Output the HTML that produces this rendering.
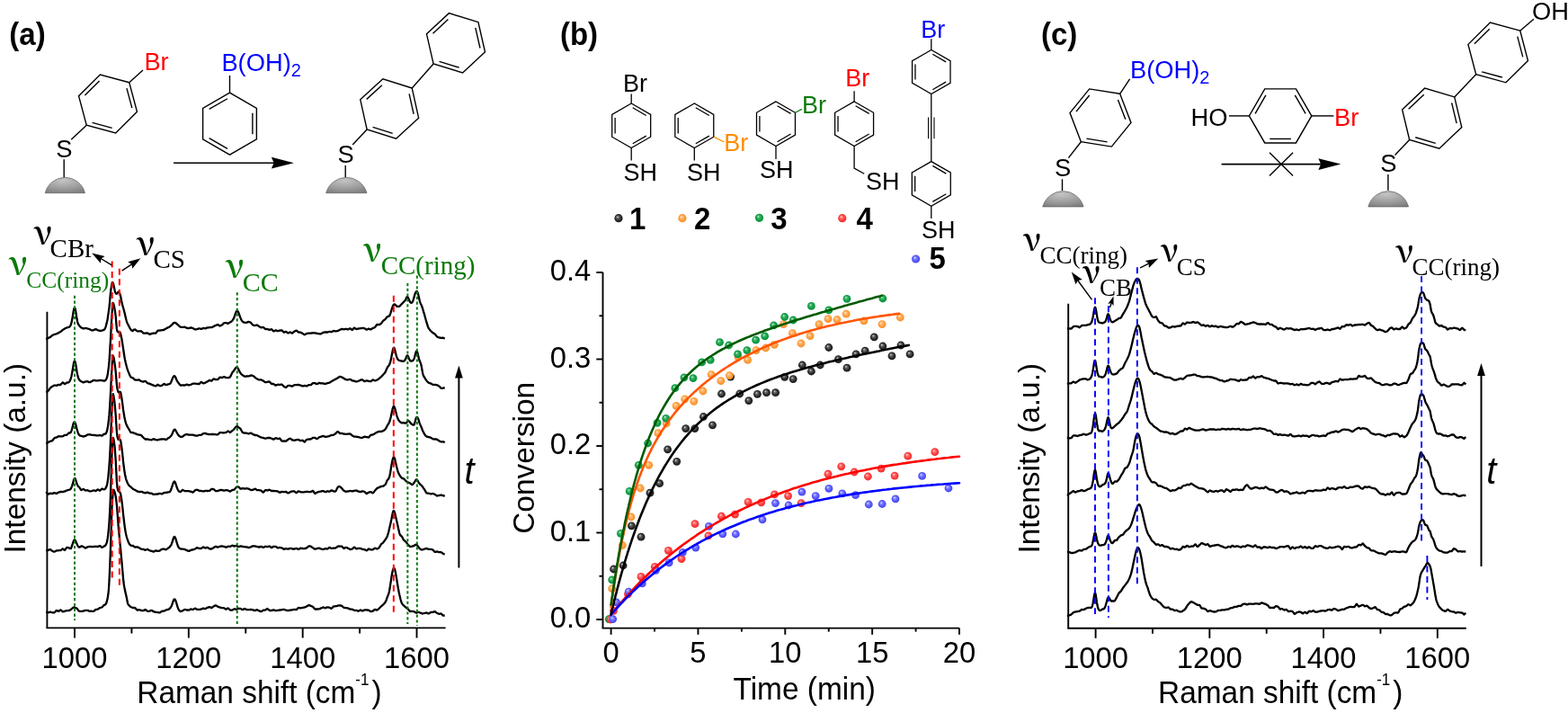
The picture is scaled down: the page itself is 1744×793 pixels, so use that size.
<!DOCTYPE html>
<html><head><meta charset="utf-8"><title>Figure</title>
<style>html,body{margin:0;padding:0;background:#fff;} svg{display:block;}</style></head>
<body><svg width="1744" height="793" viewBox="0 0 1744 793">
<rect width="1744" height="793" fill="#fff"/>
<defs>
<radialGradient id="gdome" cx="0.45" cy="0.2" r="0.9"><stop offset="0" stop-color="#c4c4c4"/><stop offset="0.6" stop-color="#9a9a9a"/><stop offset="1" stop-color="#7a7a7a"/></radialGradient>
<radialGradient id="dk" cx="0.5" cy="0.5" r="0.55" fx="0.36" fy="0.32"><stop offset="0" stop-color="#f0f0f0"/><stop offset="0.22" stop-color="#707070"/><stop offset="0.6" stop-color="#303030"/><stop offset="1" stop-color="#101010"/></radialGradient>
<radialGradient id="do" cx="0.5" cy="0.5" r="0.55" fx="0.36" fy="0.32"><stop offset="0" stop-color="#fffaf0"/><stop offset="0.22" stop-color="#ffc080"/><stop offset="0.6" stop-color="#ffa040"/><stop offset="1" stop-color="#f08a20"/></radialGradient>
<radialGradient id="dg" cx="0.5" cy="0.5" r="0.55" fx="0.36" fy="0.32"><stop offset="0" stop-color="#f0fff4"/><stop offset="0.22" stop-color="#50c078"/><stop offset="0.6" stop-color="#13a047"/><stop offset="1" stop-color="#0a8a38"/></radialGradient>
<radialGradient id="dr" cx="0.5" cy="0.5" r="0.55" fx="0.36" fy="0.32"><stop offset="0" stop-color="#fff4f4"/><stop offset="0.22" stop-color="#ff8080"/><stop offset="0.6" stop-color="#ff4040"/><stop offset="1" stop-color="#e82828"/></radialGradient>
<radialGradient id="db" cx="0.5" cy="0.5" r="0.55" fx="0.36" fy="0.32"><stop offset="0" stop-color="#f4f4ff"/><stop offset="0.22" stop-color="#9090ff"/><stop offset="0.6" stop-color="#5a5aff"/><stop offset="1" stop-color="#4040e8"/></radialGradient>
</defs>
<text transform="translate(10.3 50) scale(1 1.04)" x="0" y="0" font-family="'Liberation Sans', Arial, sans-serif" font-size="33" fill="#000" font-weight="bold" font-style="normal" text-anchor="start" >(a)</text>
<text transform="translate(622.9 50) scale(1 1.04)" x="0" y="0" font-family="'Liberation Sans', Arial, sans-serif" font-size="33" fill="#000" font-weight="bold" font-style="normal" text-anchor="start" >(b)</text>
<text transform="translate(1157.9 50) scale(1 1.04)" x="0" y="0" font-family="'Liberation Sans', Arial, sans-serif" font-size="33" fill="#000" font-weight="bold" font-style="normal" text-anchor="start" >(c)</text>
<path d="M143.76 91.74 L111.3 83.04 L87.54 106.8 L96.24 139.26 L128.7 147.96 L152.46 124.2 Z" fill="none" stroke="#000" stroke-width="1.4" stroke-linejoin="miter"/>
<line x1="110.59" y1="89.93" x2="94.43" y2="106.09" stroke="#000" stroke-width="1.4" />
<line x1="146.84" y1="120.13" x2="140.93" y2="98.06" stroke="#000" stroke-width="1.4" />
<line x1="102.56" y1="136.43" x2="124.63" y2="142.34" stroke="#000" stroke-width="1.4" />
<line x1="143.76" y1="91.74" x2="159" y2="78" stroke="#000" stroke-width="1.4" />
<text transform="translate(160.4 77.7) scale(1 1.04)" x="0" y="0" font-family="'Liberation Sans', Arial, sans-serif" font-size="27.3" fill="#ff0000" font-weight="normal" font-style="normal" text-anchor="start" >Br</text>
<line x1="96.24" y1="139.26" x2="79.2" y2="155.2" stroke="#000" stroke-width="1.4" />
<text transform="translate(62.2 174.5) scale(1 1.04)" x="0" y="0" font-family="'Liberation Sans', Arial, sans-serif" font-size="27.3" fill="#000" font-weight="normal" font-style="normal" text-anchor="start" >S</text>
<line x1="71.2" y1="177.3" x2="71.2" y2="197.5" stroke="#000" stroke-width="1.4" />
<path d="M50.2 214.7 A22.8 22.8 0 0 1 94.5 214.7 Z" fill="url(#gdome)" stroke="#555" stroke-width="0.6"/>
<path d="M255.5 103.1 L225.62 120.35 L225.62 154.85 L255.5 172.1 L285.38 154.85 L285.38 120.35 Z" fill="none" stroke="#000" stroke-width="1.4" stroke-linejoin="miter"/>
<line x1="252.96" y1="109.74" x2="232.65" y2="121.47" stroke="#000" stroke-width="1.4" />
<line x1="280.89" y1="149.33" x2="280.89" y2="125.87" stroke="#000" stroke-width="1.4" />
<line x1="232.65" y1="153.73" x2="252.96" y2="165.46" stroke="#000" stroke-width="1.4" />
<line x1="255.5" y1="103.1" x2="255.5" y2="84" stroke="#000" stroke-width="1.4" />
<text transform="translate(246.4 79.2) scale(1 1.04)" x="0" y="0" font-family="'Liberation Sans', Arial, sans-serif" font-size="27.3" fill="#0000ff" font-weight="normal" font-style="normal" text-anchor="start" >B(OH)<tspan font-size="20" dy="6">2</tspan></text>
<line x1="193" y1="181.2" x2="305" y2="181.2" stroke="#000" stroke-width="1.6" />
<path d="M326.9 181.2 L301.9 187.6 L304.6 181.2 L301.9 174.8 Z" fill="#000"/>
<path d="M458.27 98.03 L425.84 87.81 L400.77 110.78 L408.13 143.97 L440.56 154.19 L465.63 131.22 Z" fill="none" stroke="#000" stroke-width="1.4" stroke-linejoin="miter"/>
<line x1="424.82" y1="94.74" x2="407.77" y2="110.36" stroke="#000" stroke-width="1.4" />
<line x1="460.13" y1="126.87" x2="455.13" y2="104.3" stroke="#000" stroke-width="1.4" />
<line x1="414.65" y1="141.39" x2="436.7" y2="148.34" stroke="#000" stroke-width="1.4" />
<path d="M531.91 24.66 L499.41 14.66 L474.5 37.8 L482.09 70.94 L514.59 80.94 L539.5 57.8 Z" fill="none" stroke="#000" stroke-width="1.4" stroke-linejoin="miter"/>
<line x1="498.43" y1="21.6" x2="481.5" y2="37.34" stroke="#000" stroke-width="1.4" />
<line x1="533.97" y1="53.48" x2="528.81" y2="30.94" stroke="#000" stroke-width="1.4" />
<line x1="488.59" y1="68.32" x2="510.69" y2="75.12" stroke="#000" stroke-width="1.4" />
<line x1="458.27" y1="98.03" x2="482.09" y2="70.94" stroke="#000" stroke-width="1.4" />
<line x1="408.13" y1="143.97" x2="392.2" y2="160.9" stroke="#000" stroke-width="1.4" />
<text transform="translate(375.4 180.7) scale(1 1.04)" x="0" y="0" font-family="'Liberation Sans', Arial, sans-serif" font-size="27.3" fill="#000" font-weight="normal" font-style="normal" text-anchor="start" >S</text>
<line x1="384.2" y1="183.9" x2="384.2" y2="197.5" stroke="#000" stroke-width="1.4" />
<path d="M362.6 214.7 A23.51 23.51 0 0 1 408 214.7 Z" fill="url(#gdome)" stroke="#555" stroke-width="0.6"/>
<path d="M702.2 115 L680.72 127.4 L680.72 152.2 L702.2 164.6 L723.68 152.2 L723.68 127.4 Z" fill="none" stroke="#000" stroke-width="1.3" stroke-linejoin="miter"/>
<line x1="684.12" y1="131.12" x2="684.12" y2="148.48" stroke="#000" stroke-width="1.3" />
<line x1="718.76" y1="128.48" x2="703.72" y2="119.8" stroke="#000" stroke-width="1.3" />
<line x1="703.72" y1="159.8" x2="718.76" y2="151.12" stroke="#000" stroke-width="1.3" />
<line x1="702.2" y1="104.5" x2="702.2" y2="115" stroke="#000" stroke-width="1.3" />
<text transform="translate(692.9 101.6) scale(1 1.04)" x="0" y="0" font-family="'Liberation Sans', Arial, sans-serif" font-size="27" fill="#000" font-weight="normal" font-style="normal" text-anchor="start" >Br</text>
<line x1="702.2" y1="164.6" x2="702.2" y2="178.6" stroke="#000" stroke-width="1.3" />
<text transform="translate(693.6 201.3) scale(1 1.04)" x="0" y="0" font-family="'Liberation Sans', Arial, sans-serif" font-size="27" fill="#000" font-weight="normal" font-style="normal" text-anchor="start" >SH</text>
<path d="M772.3 115 L750.82 127.4 L750.82 152.2 L772.3 164.6 L793.78 152.2 L793.78 127.4 Z" fill="none" stroke="#000" stroke-width="1.3" stroke-linejoin="miter"/>
<line x1="754.22" y1="131.12" x2="754.22" y2="148.48" stroke="#000" stroke-width="1.3" />
<line x1="788.86" y1="128.48" x2="773.82" y2="119.8" stroke="#000" stroke-width="1.3" />
<line x1="773.82" y1="159.8" x2="788.86" y2="151.12" stroke="#000" stroke-width="1.3" />
<line x1="793.78" y1="152.2" x2="805.5" y2="158" stroke="#ff8c00" stroke-width="1.3" />
<text transform="translate(805.2 168) scale(1 1.04)" x="0" y="0" font-family="'Liberation Sans', Arial, sans-serif" font-size="27" fill="#ff8c00" font-weight="normal" font-style="normal" text-anchor="start" >Br</text>
<line x1="772.3" y1="164.6" x2="772.3" y2="178.6" stroke="#000" stroke-width="1.3" />
<text transform="translate(764.1 200.6) scale(1 1.04)" x="0" y="0" font-family="'Liberation Sans', Arial, sans-serif" font-size="27" fill="#000" font-weight="normal" font-style="normal" text-anchor="start" >SH</text>
<path d="M863 112.9 L841.52 125.3 L841.52 150.1 L863 162.5 L884.48 150.1 L884.48 125.3 Z" fill="none" stroke="#000" stroke-width="1.3" stroke-linejoin="miter"/>
<line x1="844.92" y1="129.02" x2="844.92" y2="146.38" stroke="#000" stroke-width="1.3" />
<line x1="879.56" y1="126.38" x2="864.52" y2="117.7" stroke="#000" stroke-width="1.3" />
<line x1="864.52" y1="157.7" x2="879.56" y2="149.02" stroke="#000" stroke-width="1.3" />
<line x1="884.48" y1="125.3" x2="891.8" y2="121.4" stroke="#0b7a0b" stroke-width="1.3" />
<text transform="translate(891.9 126.1) scale(1 1.04)" x="0" y="0" font-family="'Liberation Sans', Arial, sans-serif" font-size="27" fill="#0b7a0b" font-weight="normal" font-style="normal" text-anchor="start" >Br</text>
<line x1="863" y1="162.5" x2="863" y2="177" stroke="#000" stroke-width="1.3" />
<text transform="translate(845.1 198.4) scale(1 1.04)" x="0" y="0" font-family="'Liberation Sans', Arial, sans-serif" font-size="27" fill="#000" font-weight="normal" font-style="normal" text-anchor="start" >SH</text>
<path d="M950.1 112.9 L928.62 125.3 L928.62 150.1 L950.1 162.5 L971.58 150.1 L971.58 125.3 Z" fill="none" stroke="#000" stroke-width="1.3" stroke-linejoin="miter"/>
<line x1="932.02" y1="129.02" x2="932.02" y2="146.38" stroke="#000" stroke-width="1.3" />
<line x1="966.66" y1="126.38" x2="951.62" y2="117.7" stroke="#000" stroke-width="1.3" />
<line x1="951.62" y1="157.7" x2="966.66" y2="149.02" stroke="#000" stroke-width="1.3" />
<line x1="950.1" y1="101.2" x2="950.1" y2="112.9" stroke="#000" stroke-width="1.3" />
<text transform="translate(940.3 95.8) scale(1 1.04)" x="0" y="0" font-family="'Liberation Sans', Arial, sans-serif" font-size="27" fill="#ff0000" font-weight="normal" font-style="normal" text-anchor="start" >Br</text>
<polyline points="950.1,162.5 950.1,187 961.2,193.2" fill="none" stroke="#000" stroke-width="1.3"/>
<text transform="translate(962.9 210.5) scale(1 1.04)" x="0" y="0" font-family="'Liberation Sans', Arial, sans-serif" font-size="27" fill="#000" font-weight="normal" font-style="normal" text-anchor="start" >SH</text>
<path d="M1035.8 55.5 L1014.58 67.75 L1014.58 92.25 L1035.8 104.5 L1057.02 92.25 L1057.02 67.75 Z" fill="none" stroke="#000" stroke-width="1.3" stroke-linejoin="miter"/>
<line x1="1017.98" y1="71.42" x2="1017.98" y2="88.58" stroke="#000" stroke-width="1.3" />
<line x1="1052.13" y1="68.86" x2="1037.28" y2="60.28" stroke="#000" stroke-width="1.3" />
<line x1="1037.28" y1="99.72" x2="1052.13" y2="91.14" stroke="#000" stroke-width="1.3" />
<line x1="1035.8" y1="43.3" x2="1035.8" y2="55.5" stroke="#000" stroke-width="1.3" />
<text transform="translate(1024.3 41.5) scale(1 1.04)" x="0" y="0" font-family="'Liberation Sans', Arial, sans-serif" font-size="27" fill="#0000ff" font-weight="normal" font-style="normal" text-anchor="start" >Br</text>
<path d="M1035.8 179.6 L1014.32 192 L1014.32 216.8 L1035.8 229.2 L1057.28 216.8 L1057.28 192 Z" fill="none" stroke="#000" stroke-width="1.3" stroke-linejoin="miter"/>
<line x1="1017.72" y1="195.72" x2="1017.72" y2="213.08" stroke="#000" stroke-width="1.3" />
<line x1="1052.36" y1="193.08" x2="1037.32" y2="184.4" stroke="#000" stroke-width="1.3" />
<line x1="1037.32" y1="224.4" x2="1052.36" y2="215.72" stroke="#000" stroke-width="1.3" />
<line x1="1035.8" y1="104.5" x2="1035.8" y2="179.6" stroke="#000" stroke-width="1.3" />
<line x1="1032.6" y1="130.5" x2="1032.6" y2="154.3" stroke="#000" stroke-width="1.1" />
<line x1="1039" y1="130.5" x2="1039" y2="154.3" stroke="#000" stroke-width="1.1" />
<line x1="1035.8" y1="229.2" x2="1035.8" y2="243" stroke="#000" stroke-width="1.3" />
<text transform="translate(1025.1 264.8) scale(1 1.04)" x="0" y="0" font-family="'Liberation Sans', Arial, sans-serif" font-size="27" fill="#000" font-weight="normal" font-style="normal" text-anchor="start" >SH</text>
<circle cx="688" cy="242.7" r="4.6" fill="url(#dk)"/>
<text transform="translate(700 255.3) scale(1 1.04)" x="0" y="0" font-family="'Liberation Sans', Arial, sans-serif" font-size="33" fill="#000" font-weight="bold" font-style="normal" text-anchor="start" >1</text>
<circle cx="758.9" cy="242.7" r="4.6" fill="url(#do)"/>
<text transform="translate(772 255.3) scale(1 1.04)" x="0" y="0" font-family="'Liberation Sans', Arial, sans-serif" font-size="33" fill="#000" font-weight="bold" font-style="normal" text-anchor="start" >2</text>
<circle cx="844.5" cy="242.3" r="4.6" fill="url(#dg)"/>
<text transform="translate(857.2 255.3) scale(1 1.04)" x="0" y="0" font-family="'Liberation Sans', Arial, sans-serif" font-size="33" fill="#000" font-weight="bold" font-style="normal" text-anchor="start" >3</text>
<circle cx="936.8" cy="242.7" r="4.6" fill="url(#dr)"/>
<text transform="translate(952.5 255.3) scale(1 1.04)" x="0" y="0" font-family="'Liberation Sans', Arial, sans-serif" font-size="33" fill="#000" font-weight="bold" font-style="normal" text-anchor="start" >4</text>
<circle cx="1018.6" cy="288" r="4.6" fill="url(#db)"/>
<text transform="translate(1033.5 298.5) scale(1 1.04)" x="0" y="0" font-family="'Liberation Sans', Arial, sans-serif" font-size="33" fill="#000" font-weight="bold" font-style="normal" text-anchor="start" >5</text>
<path d="M1245.65 104.27 L1211.67 98.88 L1190.02 125.62 L1202.35 157.73 L1236.33 163.12 L1257.98 136.38 Z" fill="none" stroke="#000" stroke-width="1.4" stroke-linejoin="miter"/>
<line x1="1211.68" y1="105.98" x2="1196.96" y2="124.16" stroke="#000" stroke-width="1.4" />
<line x1="1251.83" y1="132.85" x2="1243.45" y2="111.01" stroke="#000" stroke-width="1.4" />
<line x1="1208.49" y1="154.18" x2="1231.59" y2="157.84" stroke="#000" stroke-width="1.4" />
<line x1="1245.65" y1="104.27" x2="1256.6" y2="87.8" stroke="#000" stroke-width="1.4" />
<text transform="translate(1257 87) scale(1 1.04)" x="0" y="0" font-family="'Liberation Sans', Arial, sans-serif" font-size="27.3" fill="#0000ff" font-weight="normal" font-style="normal" text-anchor="start" >B(OH)<tspan font-size="20" dy="6">2</tspan></text>
<line x1="1202.35" y1="157.73" x2="1188.4" y2="175.6" stroke="#000" stroke-width="1.4" />
<text transform="translate(1173 196.1) scale(1 1.04)" x="0" y="0" font-family="'Liberation Sans', Arial, sans-serif" font-size="27.3" fill="#000" font-weight="normal" font-style="normal" text-anchor="start" >S</text>
<line x1="1181.5" y1="199.3" x2="1181.5" y2="212" stroke="#000" stroke-width="1.4" />
<path d="M1159.7 230 A23.51 23.51 0 0 1 1205.1 230 Z" fill="url(#gdome)" stroke="#555" stroke-width="0.6"/>
<path d="M1458.8 128.9 L1441.45 98.85 L1406.75 98.85 L1389.4 128.9 L1406.75 158.95 L1441.45 158.95 Z" fill="none" stroke="#000" stroke-width="1.4" stroke-linejoin="miter"/>
<line x1="1452.12" y1="126.35" x2="1440.32" y2="105.91" stroke="#000" stroke-width="1.4" />
<line x1="1407.88" y1="105.91" x2="1396.08" y2="126.35" stroke="#000" stroke-width="1.4" />
<line x1="1412.3" y1="154.44" x2="1435.9" y2="154.44" stroke="#000" stroke-width="1.4" />
<line x1="1367" y1="128.9" x2="1389.4" y2="128.9" stroke="#000" stroke-width="1.4" />
<text transform="translate(1324.6 139.6) scale(1 1.04)" x="0" y="0" font-family="'Liberation Sans', Arial, sans-serif" font-size="27.3" fill="#000" font-weight="normal" font-style="normal" text-anchor="start" >HO</text>
<line x1="1458.8" y1="128.9" x2="1483.4" y2="128.9" stroke="#000" stroke-width="1.4" />
<text transform="translate(1484 139.6) scale(1 1.04)" x="0" y="0" font-family="'Liberation Sans', Arial, sans-serif" font-size="27.3" fill="#ff0000" font-weight="normal" font-style="normal" text-anchor="start" >Br</text>
<line x1="1358.6" y1="182.6" x2="1470" y2="182.6" stroke="#000" stroke-width="1.6" />
<path d="M1491.4 182.6 L1466.4 189 L1469.1 182.6 L1466.4 176.2 Z" fill="#000"/>
<line x1="1412" y1="169.7" x2="1438.1" y2="195.6" stroke="#000" stroke-width="1.4" />
<line x1="1412" y1="195.6" x2="1438.1" y2="169.7" stroke="#000" stroke-width="1.4" />
<path d="M1617.73 107.95 L1584.65 98.15 L1559.62 121.9 L1567.67 155.45 L1600.75 165.25 L1625.78 141.5 Z" fill="none" stroke="#000" stroke-width="1.4" stroke-linejoin="miter"/>
<line x1="1583.73" y1="105.21" x2="1566.71" y2="121.36" stroke="#000" stroke-width="1.4" />
<line x1="1620.13" y1="137.18" x2="1614.65" y2="114.37" stroke="#000" stroke-width="1.4" />
<line x1="1574.24" y1="152.72" x2="1596.73" y2="159.38" stroke="#000" stroke-width="1.4" />
<path d="M1690.72 34.18 L1657.45 25.08 L1632.92 49.35 L1641.68 82.72 L1674.95 91.82 L1699.48 67.55 Z" fill="none" stroke="#000" stroke-width="1.4" stroke-linejoin="miter"/>
<line x1="1656.68" y1="32.15" x2="1640" y2="48.65" stroke="#000" stroke-width="1.4" />
<line x1="1693.74" y1="63.35" x2="1687.79" y2="40.66" stroke="#000" stroke-width="1.4" />
<line x1="1648.19" y1="79.85" x2="1670.81" y2="86.04" stroke="#000" stroke-width="1.4" />
<line x1="1617.73" y1="107.95" x2="1641.68" y2="82.72" stroke="#000" stroke-width="1.4" />
<line x1="1690.72" y1="34.18" x2="1705.9" y2="21.2" stroke="#000" stroke-width="1.4" />
<text transform="translate(1703.9 22.1) scale(1 1.04)" x="0" y="0" font-family="'Liberation Sans', Arial, sans-serif" font-size="27.3" fill="#000" font-weight="normal" font-style="normal" text-anchor="start" >OH</text>
<line x1="1567.67" y1="155.45" x2="1551.5" y2="172.6" stroke="#000" stroke-width="1.4" />
<text transform="translate(1535.2 191) scale(1 1.04)" x="0" y="0" font-family="'Liberation Sans', Arial, sans-serif" font-size="27.3" fill="#000" font-weight="normal" font-style="normal" text-anchor="start" >S</text>
<line x1="1543.9" y1="194" x2="1543.9" y2="211.8" stroke="#000" stroke-width="1.4" />
<path d="M1521.8 230 A23.12 23.12 0 0 1 1566.6 230 Z" fill="url(#gdome)" stroke="#555" stroke-width="0.6"/>
<line x1="52.4" y1="346.8" x2="52.4" y2="698.4" stroke="#000" stroke-width="1.9" />
<line x1="51.5" y1="698.4" x2="495.6" y2="698.4" stroke="#000" stroke-width="1.9" />
<line x1="83" y1="698.4" x2="83" y2="709.5" stroke="#000" stroke-width="1.9" />
<text transform="translate(83 743.2) scale(1 1.035)" x="0" y="0" font-family="'Liberation Sans', Arial, sans-serif" font-size="32.8" fill="#000" font-weight="normal" font-style="normal" text-anchor="middle" >1000</text>
<line x1="209.84" y1="698.4" x2="209.84" y2="709.5" stroke="#000" stroke-width="1.9" />
<text transform="translate(209.84 743.2) scale(1 1.035)" x="0" y="0" font-family="'Liberation Sans', Arial, sans-serif" font-size="32.8" fill="#000" font-weight="normal" font-style="normal" text-anchor="middle" >1200</text>
<line x1="336.68" y1="698.4" x2="336.68" y2="709.5" stroke="#000" stroke-width="1.9" />
<text transform="translate(336.68 743.2) scale(1 1.035)" x="0" y="0" font-family="'Liberation Sans', Arial, sans-serif" font-size="32.8" fill="#000" font-weight="normal" font-style="normal" text-anchor="middle" >1400</text>
<line x1="463.52" y1="698.4" x2="463.52" y2="709.5" stroke="#000" stroke-width="1.9" />
<text transform="translate(463.52 743.2) scale(1 1.035)" x="0" y="0" font-family="'Liberation Sans', Arial, sans-serif" font-size="32.8" fill="#000" font-weight="normal" font-style="normal" text-anchor="middle" >1600</text>
<line x1="146.42" y1="698.4" x2="146.42" y2="704.5" stroke="#000" stroke-width="1.9" />
<line x1="273.26" y1="698.4" x2="273.26" y2="704.5" stroke="#000" stroke-width="1.9" />
<line x1="400.1" y1="698.4" x2="400.1" y2="704.5" stroke="#000" stroke-width="1.9" />
<text transform="translate(152.3 781.6) scale(1 1.04)" x="0" y="0" font-family="'Liberation Sans', Arial, sans-serif" font-size="33.4" fill="#000" font-weight="normal" font-style="normal" text-anchor="start" >Raman shift (cm<tspan font-size="17" dy="-19.3">-1</tspan><tspan x="261.1" dy="19.3">)</tspan></text>
<text x="0" y="0" font-family="'Liberation Sans', Arial, sans-serif" font-size="33.4" fill="#000" font-weight="normal" font-style="normal" text-anchor="middle" transform="translate(27.5,509.7) rotate(-90)">Intensity (a.u.)</text>
<polyline points="51.3,377.2 51.9,376.9 52.5,376.6 53.1,376.2 53.7,375.8 54.3,375.6 54.9,375.4 55.5,375.1 56.1,374.8 56.7,374.3 57.3,373.7 57.9,373.2 58.5,372.8 59.1,372.5 59.7,372.3 60.3,372.0 60.9,371.8 61.5,371.7 62.1,371.5 62.7,371.3 63.3,371.1 63.9,370.8 64.5,370.5 65.1,370.2 65.7,369.9 66.3,369.5 66.9,369.2 67.5,368.8 68.1,368.4 68.7,367.9 69.3,367.4 69.9,366.9 70.5,366.5 71.1,366.1 71.7,365.7 72.3,365.4 72.9,365.0 73.5,364.8 74.1,364.5 74.7,364.3 75.3,364.1 75.9,364.0 76.5,363.8 77.1,363.6 77.7,363.1 78.3,362.3 78.9,361.0 79.5,358.9 80.1,356.1 80.7,352.6 81.3,348.8 81.9,345.3 82.5,342.8 83.1,342.1 83.7,343.5 84.3,346.7 84.9,350.7 85.5,354.6 86.1,357.6 86.7,359.7 87.3,361.0 87.9,361.8 88.5,362.6 89.1,363.3 89.7,363.9 90.3,364.4 90.9,364.7 91.5,364.9 92.1,365.2 92.7,365.5 93.3,365.3 93.9,365.2 94.5,365.1 95.1,365.0 95.7,365.1 96.3,365.2 96.9,365.3 97.5,365.5 98.1,365.7 98.7,365.8 99.3,366.0 99.9,366.3 100.5,366.6 101.1,367.0 101.7,367.3 102.3,367.4 102.9,367.3 103.5,367.3 104.1,367.2 104.7,366.9 105.3,366.7 105.9,366.4 106.5,366.1 107.1,366.4 107.7,366.7 108.3,367.0 108.9,367.3 109.5,367.5 110.1,367.7 110.7,367.9 111.3,368.0 111.9,367.9 112.5,367.8 113.1,367.7 113.7,367.5 114.3,367.3 114.9,367.1 115.5,366.9 116.1,366.5 116.7,365.6 117.3,364.1 117.9,362.3 118.5,359.9 119.1,357.4 119.7,354.4 120.3,350.3 120.9,346.3 121.5,341.7 122.1,335.5 122.7,328.7 123.3,322.6 123.9,318.7 124.5,315.7 125.1,314.0 125.7,314.7 126.3,316.8 126.9,319.2 127.5,322.4 128.1,325.0 128.7,326.0 129.3,326.7 129.9,326.8 130.5,326.2 131.1,325.3 131.7,324.6 132.3,324.6 132.9,325.6 133.5,327.1 134.1,329.2 134.7,332.5 135.3,335.6 135.9,338.1 136.5,340.4 137.1,342.4 137.7,344.5 138.3,346.7 138.9,349.2 139.5,351.9 140.1,354.5 140.7,356.8 141.3,358.7 141.9,360.0 142.5,361.1 143.1,362.2 143.7,363.4 144.3,364.6 144.9,365.7 145.5,366.7 146.1,367.3 146.7,367.7 147.3,368.0 147.9,368.0 148.5,366.9 149.1,366.7 149.7,366.6 150.3,366.5 150.9,367.0 151.5,367.4 152.1,367.9 152.7,368.3 153.3,368.3 153.9,368.3 154.5,368.4 155.1,368.4 155.7,368.3 156.3,368.3 156.9,368.2 157.5,368.6 158.1,369.2 158.7,369.8 159.3,370.4 159.9,370.6 160.5,370.6 161.1,370.7 161.7,370.7 162.3,370.6 162.9,370.5 163.5,370.4 164.1,370.4 164.7,370.8 165.3,371.2 165.9,371.6 166.5,371.8 167.1,371.6 167.7,371.4 168.3,371.1 168.9,371.0 169.5,370.9 170.1,370.7 170.7,370.6 171.3,370.6 171.9,370.6 172.5,370.6 173.1,370.6 173.7,370.0 174.3,369.2 174.9,368.5 175.5,367.7 176.1,367.7 176.7,367.6 177.3,367.6 177.9,367.5 178.5,367.4 179.1,367.4 179.7,367.3 180.3,367.2 180.9,367.1 181.5,367.0 182.1,366.9 182.7,366.7 183.3,366.3 183.9,365.9 184.5,365.5 185.1,365.2 185.7,364.9 186.3,364.7 186.9,364.3 187.5,364.0 188.1,363.7 188.7,363.3 189.3,362.8 189.9,362.4 190.5,361.9 191.1,361.4 191.7,360.7 192.3,360.0 192.9,359.4 193.5,359.1 194.1,359.0 194.7,358.9 195.3,359.1 195.9,359.5 196.5,360.0 197.1,360.7 197.7,361.2 198.3,361.6 198.9,362.2 199.5,362.8 200.1,363.3 200.7,363.7 201.3,363.8 201.9,363.9 202.5,363.9 203.1,363.9 203.7,363.8 204.3,363.8 204.9,363.7 205.5,363.7 206.1,364.0 206.7,364.3 207.3,364.6 207.9,364.9 208.5,364.9 209.1,365.0 209.7,365.1 210.3,365.0 210.9,364.8 211.5,364.6 212.1,364.4 212.7,364.4 213.3,364.6 213.9,364.8 214.5,365.0 215.1,365.4 215.7,365.7 216.3,366.1 216.9,366.4 217.5,366.4 218.1,366.3 218.7,366.2 219.3,366.0 219.9,365.8 220.5,365.6 221.1,365.4 221.7,365.3 222.3,365.5 222.9,365.7 223.5,365.9 224.1,365.8 224.7,365.6 225.3,365.3 225.9,365.0 226.5,365.0 227.1,365.1 227.7,365.2 228.3,365.4 228.9,365.2 229.5,364.9 230.1,364.6 230.7,364.4 231.3,364.3 231.9,364.3 232.5,364.3 233.1,364.2 233.7,364.2 234.3,364.2 234.9,364.2 235.5,364.1 236.1,363.8 236.7,363.5 237.3,363.2 237.9,362.9 238.5,362.6 239.1,362.3 239.7,362.0 240.3,361.7 240.9,361.5 241.5,361.3 242.1,361.0 242.7,361.3 243.3,361.7 243.9,362.1 244.5,362.5 245.1,362.3 245.7,362.0 246.3,361.8 246.9,361.5 247.5,360.9 248.1,360.2 248.7,359.6 249.3,359.2 249.9,359.2 250.5,359.1 251.1,359.1 251.7,359.2 252.3,359.4 252.9,359.6 253.5,359.8 254.1,359.6 254.7,359.2 255.3,358.8 255.9,358.3 256.5,358.1 257.1,357.8 257.7,357.3 258.3,356.7 258.9,355.9 259.5,354.9 260.1,353.7 260.7,352.2 261.3,350.5 261.9,348.7 262.5,347.1 263.1,346.0 263.7,345.6 264.3,345.9 264.9,346.8 265.5,348.2 266.1,349.9 266.7,351.5 267.3,353.1 267.9,354.5 268.5,355.8 269.1,356.8 269.7,357.5 270.3,358.1 270.9,358.4 271.5,358.6 272.1,358.7 272.7,358.8 273.3,358.8 273.9,358.8 274.5,358.7 275.1,358.4 275.7,358.1 276.3,358.0 276.9,358.0 277.5,358.2 278.1,358.4 278.7,358.7 279.3,359.2 279.9,360.0 280.5,360.7 281.1,361.3 281.7,361.7 282.3,361.8 282.9,361.9 283.5,362.0 284.1,361.9 284.7,361.8 285.3,361.6 285.9,361.5 286.5,361.9 287.1,362.3 287.7,362.7 288.3,363.1 288.9,363.5 289.5,363.8 290.1,364.2 290.7,364.4 291.3,364.2 291.9,364.1 292.5,364.0 293.1,364.2 293.7,364.7 294.3,365.3 294.9,365.8 295.5,366.0 296.1,366.0 296.7,366.0 297.3,366.0 297.9,366.2 298.5,366.5 299.1,366.7 299.7,366.9 300.3,366.7 300.9,366.5 301.5,366.3 302.1,366.2 302.7,366.9 303.3,367.5 303.9,368.1 304.5,368.4 305.1,368.1 305.7,367.8 306.3,367.5 306.9,367.4 307.5,367.6 308.1,367.9 308.7,368.1 309.3,368.1 309.9,367.9 310.5,367.8 311.1,367.6 311.7,367.5 312.3,367.5 312.9,367.4 313.5,367.3 314.1,368.0 314.7,368.6 315.3,369.3 315.9,369.7 316.5,369.4 317.1,369.1 317.7,368.8 318.3,368.8 318.9,369.3 319.5,369.8 320.1,370.3 320.7,370.4 321.3,370.1 321.9,369.8 322.5,369.4 323.1,369.6 323.7,370.0 324.3,370.3 324.9,370.6 325.5,370.3 326.1,369.7 326.7,369.2 327.3,368.7 327.9,368.4 328.5,368.1 329.1,367.9 329.7,367.7 330.3,368.2 330.9,368.7 331.5,369.2 332.1,369.5 332.7,369.5 333.3,369.6 333.9,369.7 334.5,369.9 335.1,370.1 335.7,370.4 336.3,370.7 336.9,371.1 337.5,371.5 338.1,371.9 338.7,372.3 339.3,372.0 339.9,371.7 340.5,371.3 341.1,370.9 341.7,370.8 342.3,370.8 342.9,370.7 343.5,370.6 344.1,370.6 344.7,370.6 345.3,370.6 345.9,370.6 346.5,370.5 347.1,370.4 347.7,370.3 348.3,370.2 348.9,370.3 349.5,370.3 350.1,370.3 350.7,370.4 351.3,370.6 351.9,370.7 352.5,370.9 353.1,371.0 353.7,371.1 354.3,371.1 354.9,371.2 355.5,371.3 356.1,371.3 356.7,371.3 357.3,371.2 357.9,370.8 358.5,370.4 359.1,370.0 359.7,369.7 360.3,369.6 360.9,369.6 361.5,369.5 362.1,369.5 362.7,369.5 363.3,369.5 363.9,369.6 364.5,369.5 365.1,369.2 365.7,369.0 366.3,368.8 366.9,368.9 367.5,369.0 368.1,369.1 368.7,369.2 369.3,368.9 369.9,368.6 370.5,368.3 371.1,368.0 371.7,368.1 372.3,368.2 372.9,368.3 373.5,368.4 374.1,368.3 374.7,368.2 375.3,368.1 375.9,367.9 376.5,367.6 377.1,367.3 377.7,367.0 378.3,366.7 378.9,366.4 379.5,366.2 380.1,365.9 380.7,366.0 381.3,366.1 381.9,366.2 382.5,366.3 383.1,366.2 383.7,366.0 384.3,365.9 384.9,365.8 385.5,366.0 386.1,366.1 386.7,366.3 387.3,366.3 387.9,366.0 388.5,365.6 389.1,365.3 389.7,365.4 390.3,365.9 390.9,366.4 391.5,367.0 392.1,366.7 392.7,366.0 393.3,365.3 393.9,364.6 394.5,364.9 395.1,365.3 395.7,365.7 396.3,366.0 396.9,365.9 397.5,365.8 398.1,365.6 398.7,365.5 399.3,365.4 399.9,365.3 400.5,365.3 401.1,365.2 401.7,365.1 402.3,365.0 402.9,364.9 403.5,364.9 404.1,365.0 404.7,365.1 405.3,365.2 405.9,365.5 406.5,365.9 407.1,366.3 407.7,366.7 408.3,366.5 408.9,366.2 409.5,365.9 410.1,365.6 410.7,365.9 411.3,366.1 411.9,366.3 412.5,366.4 413.1,366.0 413.7,365.6 414.3,365.2 414.9,364.8 415.5,364.7 416.1,364.5 416.7,364.2 417.3,363.7 417.9,362.8 418.5,362.0 419.1,361.1 419.7,360.9 420.3,361.0 420.9,361.1 421.5,361.2 422.1,360.9 422.7,360.6 423.3,360.2 423.9,359.9 424.5,359.1 425.1,358.2 425.7,357.4 426.3,356.6 426.9,356.2 427.5,355.8 428.1,355.4 428.7,354.8 429.3,354.1 429.9,353.3 430.5,352.5 431.1,352.1 431.7,351.9 432.3,351.8 432.9,351.7 433.5,350.7 434.1,349.1 434.7,347.3 435.3,345.2 435.9,343.4 436.5,341.7 437.1,340.1 437.7,339.1 438.3,338.4 438.9,338.4 439.5,338.8 440.1,339.3 440.7,340.1 441.3,340.6 441.9,340.9 442.5,340.9 443.1,340.9 443.7,340.8 444.3,340.6 444.9,340.2 445.5,339.5 446.1,338.8 446.7,338.2 447.3,337.6 447.9,337.0 448.5,336.4 449.1,335.6 449.7,335.2 450.3,334.5 450.9,333.6 451.5,332.5 452.1,331.1 452.7,330.2 453.3,330.1 453.9,330.9 454.5,332.3 455.1,333.7 455.7,335.1 456.3,336.1 456.9,336.6 457.5,336.8 458.1,336.6 458.7,335.9 459.3,334.6 459.9,332.8 460.5,330.6 461.1,328.5 461.7,326.7 462.3,325.2 462.9,324.5 463.5,324.0 464.1,324.5 464.7,325.9 465.3,327.9 465.9,330.7 466.5,333.3 467.1,335.6 467.7,337.4 468.3,338.6 468.9,339.9 469.5,341.5 470.1,343.2 470.7,345.3 471.3,347.3 471.9,349.4 472.5,351.5 473.1,353.6 473.7,355.8 474.3,357.8 474.9,359.9 475.5,362.0 476.1,363.6 476.7,365.0 477.3,365.9 477.9,366.6 478.5,367.4 479.1,368.0 479.7,368.7 480.3,369.2 480.9,369.8 481.5,370.2 482.1,370.6 482.7,370.9 483.3,371.2 483.9,371.6 484.5,372.5 485.1,373.3 485.7,374.0 486.3,374.6 486.9,374.8 487.5,375.1 488.1,375.3 488.7,375.5 489.3,375.6 489.9,375.7 490.5,375.9 491.1,375.8 491.7,375.8 492.3,375.7 492.9,375.7 493.5,376.0 494.1,376.3 494.7,376.6" fill="none" stroke="#000" stroke-width="2.3" stroke-linejoin="round"/>
<polyline points="51.3,436.2 51.9,435.9 52.5,435.5 53.1,435.1 53.7,434.6 54.3,433.8 54.9,432.9 55.5,432.1 56.1,431.3 56.7,430.9 57.3,430.4 57.9,430.0 58.5,429.6 59.1,429.3 59.7,428.9 60.3,428.7 60.9,428.6 61.5,428.7 62.1,428.7 62.7,428.8 63.3,428.6 63.9,428.4 64.5,428.2 65.1,427.9 65.7,428.0 66.3,428.0 66.9,428.0 67.5,427.8 68.1,427.1 68.7,426.4 69.3,425.7 69.9,425.4 70.5,425.9 71.1,426.4 71.7,427.0 72.3,427.0 72.9,426.5 73.5,426.1 74.1,425.6 74.7,425.5 75.3,425.5 75.9,425.4 76.5,425.2 77.1,424.5 77.7,423.6 78.3,422.3 78.9,420.5 79.5,418.2 80.1,415.2 80.7,411.7 81.3,407.9 81.9,404.4 82.5,402.0 83.1,401.4 83.7,402.8 84.3,405.8 84.9,409.5 85.5,413.2 86.1,416.4 86.7,418.9 87.3,420.7 87.9,421.9 88.5,422.8 89.1,423.4 89.7,423.9 90.3,424.2 90.9,424.5 91.5,424.8 92.1,425.1 92.7,425.4 93.3,425.2 93.9,424.9 94.5,424.7 95.1,424.5 95.7,424.4 96.3,424.3 96.9,424.2 97.5,424.2 98.1,424.5 98.7,424.9 99.3,425.2 99.9,425.2 100.5,424.9 101.1,424.6 101.7,424.3 102.3,423.9 102.9,423.6 103.5,423.2 104.1,422.9 104.7,422.9 105.3,423.0 105.9,423.1 106.5,423.3 107.1,423.3 107.7,423.3 108.3,423.3 108.9,423.3 109.5,423.2 110.1,423.0 110.7,423.0 111.3,423.0 111.9,423.1 112.5,423.1 113.1,423.0 113.7,423.1 114.3,423.3 114.9,423.5 115.5,423.6 116.1,423.7 116.7,423.4 117.3,423.0 117.9,422.3 118.5,421.0 119.1,419.4 119.7,416.8 120.3,412.8 120.9,407.8 121.5,401.7 122.1,392.7 122.7,382.4 123.3,371.5 123.9,359.4 124.5,349.6 125.1,341.1 125.7,336.9 126.3,338.1 126.9,340.6 127.5,343.4 128.1,347.0 128.7,351.9 129.3,359.2 129.9,365.9 130.5,368.4 131.1,369.1 131.7,369.5 132.3,369.4 132.9,369.3 133.5,369.6 134.1,371.4 134.7,373.8 135.3,376.5 135.9,380.1 136.5,384.1 137.1,387.9 137.7,392.0 138.3,396.0 138.9,399.5 139.5,402.3 140.1,404.8 140.7,407.2 141.3,409.3 141.9,411.2 142.5,412.9 143.1,414.4 143.7,415.8 144.3,417.2 144.9,418.3 145.5,419.3 146.1,419.7 146.7,420.0 147.3,420.2 147.9,420.4 148.5,421.0 149.1,421.7 149.7,422.2 150.3,422.5 150.9,422.6 151.5,422.6 152.1,422.6 152.7,422.7 153.3,422.6 153.9,422.5 154.5,422.4 155.1,422.6 155.7,423.1 156.3,423.5 156.9,424.0 157.5,424.2 158.1,424.3 158.7,424.4 159.3,424.6 159.9,424.4 160.5,424.2 161.1,424.0 161.7,423.9 162.3,424.4 162.9,425.0 163.5,425.6 164.1,426.1 164.7,426.3 165.3,426.5 165.9,426.6 166.5,426.9 167.1,427.1 167.7,427.4 168.3,427.7 168.9,427.9 169.5,428.2 170.1,428.4 170.7,428.6 171.3,428.8 171.9,429.0 172.5,429.2 173.1,429.4 173.7,429.1 174.3,428.7 174.9,428.3 175.5,427.8 176.1,428.2 176.7,428.5 177.3,428.9 177.9,429.1 178.5,429.1 179.1,429.0 179.7,428.9 180.3,428.7 180.9,428.2 181.5,427.7 182.1,427.1 182.7,427.0 183.3,427.4 183.9,427.7 184.5,428.1 185.1,428.0 185.7,427.8 186.3,427.6 186.9,427.3 187.5,427.3 188.1,427.2 188.7,427.0 189.3,426.6 189.9,425.6 190.5,424.4 191.1,422.9 191.7,421.4 192.3,420.1 192.9,418.9 193.5,418.2 194.1,418.1 194.7,418.7 195.3,419.8 195.9,421.2 196.5,422.7 197.1,423.8 197.7,424.8 198.3,425.6 198.9,426.4 199.5,427.3 200.1,427.9 200.7,428.5 201.3,428.6 201.9,428.5 202.5,428.4 203.1,428.3 203.7,428.4 204.3,428.5 204.9,428.5 205.5,428.5 206.1,428.3 206.7,428.0 207.3,427.7 207.9,427.6 208.5,427.9 209.1,428.1 209.7,428.3 210.3,428.3 210.9,428.2 211.5,428.0 212.1,427.8 212.7,427.5 213.3,427.3 213.9,427.0 214.5,426.7 215.1,426.7 215.7,426.7 216.3,426.7 216.9,426.7 217.5,426.7 218.1,426.8 218.7,426.8 219.3,426.9 219.9,426.9 220.5,427.0 221.1,427.1 221.7,427.0 222.3,426.3 222.9,425.7 223.5,425.0 224.1,424.9 224.7,425.4 225.3,425.8 225.9,426.2 226.5,426.3 227.1,426.1 227.7,425.9 228.3,425.6 228.9,425.4 229.5,425.0 230.1,424.7 230.7,424.4 231.3,424.0 231.9,423.6 232.5,423.1 233.1,422.8 233.7,423.1 234.3,423.3 234.9,423.6 235.5,423.5 236.1,422.9 236.7,422.3 237.3,421.6 237.9,421.4 238.5,421.6 239.1,421.9 239.7,422.1 240.3,422.2 240.9,422.2 241.5,422.2 242.1,422.2 242.7,421.7 243.3,421.0 243.9,420.3 244.5,419.6 245.1,419.7 245.7,419.9 246.3,420.0 246.9,420.1 247.5,419.8 248.1,419.5 248.7,419.2 249.3,419.1 249.9,419.3 250.5,419.6 251.1,419.8 251.7,420.0 252.3,420.1 252.9,420.1 253.5,420.2 254.1,420.1 254.7,419.9 255.3,419.7 255.9,419.4 256.5,418.4 257.1,417.1 257.7,415.8 258.3,414.4 258.9,413.8 259.5,413.1 260.1,412.3 260.7,411.4 261.3,410.5 261.9,409.6 262.5,408.9 263.1,408.4 263.7,408.5 264.3,409.1 264.9,410.1 265.5,411.4 266.1,412.5 266.7,413.7 267.3,414.7 267.9,415.6 268.5,416.3 269.1,416.7 269.7,417.0 270.3,417.6 270.9,418.0 271.5,418.4 272.1,418.7 272.7,418.7 273.3,418.6 273.9,418.5 274.5,418.5 275.1,418.4 275.7,418.4 276.3,418.4 276.9,418.3 277.5,418.1 278.1,417.9 278.7,417.6 279.3,417.5 279.9,417.6 280.5,417.7 281.1,418.0 281.7,418.2 282.3,418.6 282.9,419.1 283.5,419.6 284.1,420.1 284.7,420.6 285.3,421.0 285.9,421.4 286.5,421.7 287.1,422.0 287.7,422.3 288.3,422.4 288.9,422.4 289.5,422.4 290.1,422.4 290.7,422.5 291.3,422.8 291.9,423.1 292.5,423.4 293.1,423.8 293.7,424.2 294.3,424.7 294.9,425.2 295.5,425.2 296.1,425.1 296.7,425.0 297.3,424.8 297.9,424.7 298.5,424.6 299.1,424.5 299.7,424.4 300.3,425.1 300.9,425.8 301.5,426.4 302.1,427.0 302.7,427.0 303.3,427.0 303.9,427.0 304.5,427.1 305.1,427.6 305.7,428.0 306.3,428.5 306.9,428.6 307.5,428.3 308.1,428.0 308.7,427.8 309.3,427.7 309.9,427.8 310.5,427.8 311.1,427.9 311.7,427.8 312.3,427.7 312.9,427.7 313.5,427.6 314.1,428.2 314.7,428.8 315.3,429.4 315.9,430.0 316.5,430.3 317.1,430.6 317.7,430.9 318.3,430.9 318.9,430.3 319.5,429.7 320.1,429.0 320.7,428.8 321.3,428.8 321.9,428.9 322.5,428.9 323.1,429.1 323.7,429.4 324.3,429.5 324.9,429.7 325.5,429.4 326.1,429.0 326.7,428.6 327.3,428.2 327.9,428.2 328.5,428.2 329.1,428.2 329.7,428.2 330.3,428.1 330.9,428.0 331.5,428.0 332.1,428.0 332.7,428.1 333.3,428.3 333.9,428.5 334.5,428.7 335.1,428.9 335.7,429.2 336.3,429.4 336.9,429.4 337.5,429.3 338.1,429.1 338.7,428.9 339.3,429.0 339.9,429.2 340.5,429.3 341.1,429.4 341.7,429.1 342.3,428.8 342.9,428.4 343.5,428.1 344.1,428.2 344.7,428.2 345.3,428.2 345.9,428.1 346.5,427.5 347.1,426.9 347.7,426.3 348.3,426.1 348.9,426.1 349.5,426.1 350.1,426.1 350.7,426.3 351.3,426.6 351.9,426.9 352.5,427.2 353.1,427.0 353.7,426.6 354.3,426.2 354.9,425.8 355.5,425.9 356.1,426.1 356.7,426.3 357.3,426.4 357.9,426.4 358.5,426.4 359.1,426.4 359.7,426.5 360.3,426.6 360.9,426.8 361.5,426.9 362.1,426.9 362.7,426.7 363.3,426.5 363.9,426.2 364.5,426.1 365.1,425.9 365.7,425.8 366.3,425.7 366.9,425.4 367.5,425.0 368.1,424.6 368.7,424.1 369.3,423.8 369.9,423.5 370.5,423.1 371.1,422.8 371.7,422.5 372.3,422.2 372.9,421.9 373.5,421.6 374.1,421.2 374.7,420.9 375.3,420.6 375.9,420.2 376.5,419.7 377.1,419.4 377.7,419.0 378.3,419.0 378.9,419.1 379.5,419.2 380.1,419.5 380.7,419.8 381.3,420.1 381.9,420.5 382.5,420.9 383.1,421.2 383.7,421.6 384.3,421.9 384.9,422.2 385.5,422.3 386.1,422.4 386.7,422.4 387.3,422.4 387.9,422.2 388.5,422.0 389.1,421.8 389.7,421.9 390.3,422.3 390.9,422.8 391.5,423.2 392.1,423.4 392.7,423.5 393.3,423.6 393.9,423.7 394.5,423.9 395.1,424.1 395.7,424.3 396.3,424.4 396.9,424.3 397.5,424.2 398.1,424.0 398.7,423.8 399.3,423.5 399.9,423.2 400.5,422.9 401.1,422.6 401.7,422.5 402.3,422.4 402.9,422.4 403.5,422.6 404.1,423.1 404.7,423.6 405.3,424.1 405.9,424.1 406.5,423.8 407.1,423.5 407.7,423.3 408.3,423.4 408.9,423.6 409.5,423.8 410.1,424.0 410.7,424.0 411.3,424.1 411.9,424.2 412.5,424.2 413.1,423.6 413.7,423.1 414.3,422.7 414.9,422.4 415.5,422.8 416.1,423.0 416.7,423.3 417.3,423.3 417.9,423.2 418.5,423.0 419.1,422.7 419.7,422.4 420.3,422.0 420.9,421.6 421.5,421.2 422.1,420.7 422.7,420.2 423.3,419.7 423.9,419.1 424.5,418.5 425.1,417.9 425.7,417.2 426.3,416.6 426.9,415.9 427.5,415.3 428.1,414.6 428.7,413.6 429.3,412.2 429.9,410.8 430.5,409.4 431.1,408.2 431.7,407.4 432.3,406.7 432.9,405.9 433.5,404.6 434.1,402.8 434.7,400.4 435.3,397.5 435.9,394.3 436.5,391.1 437.1,388.4 437.7,386.8 438.3,386.7 438.9,388.0 439.5,390.3 440.1,392.7 440.7,395.1 441.3,397.1 441.9,398.6 442.5,399.7 443.1,400.3 443.7,400.7 444.3,401.0 444.9,401.2 445.5,401.3 446.1,401.4 446.7,401.5 447.3,401.6 447.9,401.7 448.5,401.8 449.1,401.7 449.7,401.3 450.3,400.7 450.9,399.6 451.5,398.2 452.1,396.7 452.7,395.5 453.3,395.3 453.9,396.1 454.5,397.6 455.1,399.2 455.7,400.4 456.3,401.2 456.9,401.5 457.5,401.6 458.1,401.5 458.7,401.3 459.3,401.0 459.9,400.3 460.5,399.2 461.1,397.3 461.7,395.0 462.3,392.7 462.9,390.8 463.5,390.3 464.1,391.3 464.7,393.6 465.3,396.4 465.9,398.8 466.5,400.8 467.1,402.3 467.7,403.5 468.3,405.3 468.9,408.1 469.5,411.5 470.1,414.8 470.7,417.1 471.3,418.5 471.9,419.4 472.5,420.4 473.1,421.4 473.7,422.3 474.3,423.1 474.9,423.9 475.5,424.6 476.1,425.1 476.7,425.6 477.3,425.9 477.9,426.1 478.5,426.3 479.1,426.4 479.7,426.8 480.3,427.2 480.9,427.5 481.5,427.8 482.1,427.8 482.7,427.8 483.3,427.8 483.9,427.9 484.5,428.0 485.1,428.1 485.7,428.2 486.3,428.4 486.9,428.7 487.5,429.0 488.1,429.3 488.7,429.8 489.3,430.4 489.9,431.1 490.5,431.7 491.1,431.8 491.7,431.8 492.3,431.7 492.9,431.6 493.5,431.5 494.1,431.4 494.7,431.2" fill="none" stroke="#000" stroke-width="2.3" stroke-linejoin="round"/>
<polyline points="51.3,493.0 51.9,492.8 52.5,492.5 53.1,492.2 53.7,491.9 54.3,491.6 54.9,491.3 55.5,491.0 56.1,490.7 56.7,490.6 57.3,490.4 57.9,490.3 58.5,489.8 59.1,489.0 59.7,488.2 60.3,487.4 60.9,487.0 61.5,486.9 62.1,486.7 62.7,486.6 63.3,486.3 63.9,485.9 64.5,485.6 65.1,485.2 65.7,485.2 66.3,485.3 66.9,485.3 67.5,485.3 68.1,485.3 68.7,485.3 69.3,485.3 69.9,485.2 70.5,484.8 71.1,484.4 71.7,484.1 72.3,483.8 72.9,483.8 73.5,483.8 74.1,483.8 74.7,483.4 75.3,482.8 75.9,482.2 76.5,481.5 77.1,481.5 77.7,481.5 78.3,481.2 78.9,480.6 79.5,479.1 80.1,477.1 80.7,474.7 81.3,472.2 81.9,470.5 82.5,469.4 83.1,469.4 83.7,470.6 84.3,472.4 84.9,474.7 85.5,477.1 86.1,479.2 86.7,481.1 87.3,482.6 87.9,483.6 88.5,484.2 89.1,484.6 89.7,484.7 90.3,484.8 90.9,485.0 91.5,485.2 92.1,485.4 92.7,485.5 93.3,485.4 93.9,485.2 94.5,485.1 95.1,484.9 95.7,484.5 96.3,484.1 96.9,483.8 97.5,483.5 98.1,483.4 98.7,483.3 99.3,483.2 99.9,483.3 100.5,483.4 101.1,483.6 101.7,483.7 102.3,483.8 102.9,483.8 103.5,483.9 104.1,483.9 104.7,484.0 105.3,484.1 105.9,484.2 106.5,484.2 107.1,484.3 107.7,484.4 108.3,484.4 108.9,484.4 109.5,484.3 110.1,484.2 110.7,484.0 111.3,484.0 111.9,484.3 112.5,484.5 113.1,484.7 113.7,484.5 114.3,484.0 114.9,483.4 115.5,482.8 116.1,482.7 116.7,482.8 117.3,482.5 117.9,482.0 118.5,480.6 119.1,478.9 119.7,476.1 120.3,472.1 120.9,467.3 121.5,461.4 122.1,452.5 122.7,442.2 123.3,431.0 123.9,418.5 124.5,408.3 125.1,399.7 125.7,395.6 126.3,397.1 126.9,400.1 127.5,403.6 128.1,408.2 128.7,413.7 129.3,420.9 129.9,428.1 130.5,432.5 131.1,434.8 131.7,436.3 132.3,436.3 132.9,436.0 133.5,435.7 134.1,436.3 134.7,439.1 135.3,442.3 135.9,446.3 136.5,451.2 137.1,456.1 137.7,459.8 138.3,463.3 138.9,466.3 139.5,468.8 140.1,470.9 140.7,472.6 141.3,473.9 141.9,474.9 142.5,475.9 143.1,476.8 143.7,477.9 144.3,479.0 144.9,480.0 145.5,480.9 146.1,481.2 146.7,481.2 147.3,481.2 147.9,481.1 148.5,481.4 149.1,481.7 149.7,482.0 150.3,482.2 150.9,482.4 151.5,482.7 152.1,482.9 152.7,483.2 153.3,483.3 153.9,483.4 154.5,483.6 155.1,483.7 155.7,483.8 156.3,483.9 156.9,484.0 157.5,484.5 158.1,485.2 158.7,485.9 159.3,486.5 159.9,487.1 160.5,487.6 161.1,488.0 161.7,488.5 162.3,488.5 162.9,488.5 163.5,488.5 164.1,488.4 164.7,488.6 165.3,488.8 165.9,488.9 166.5,489.1 167.1,489.2 167.7,489.2 168.3,489.3 168.9,489.2 169.5,488.9 170.1,488.5 170.7,488.2 171.3,488.3 171.9,488.6 172.5,488.9 173.1,489.2 173.7,489.2 174.3,489.3 174.9,489.3 175.5,489.3 176.1,489.1 176.7,488.9 177.3,488.8 177.9,488.6 178.5,488.6 179.1,488.5 179.7,488.5 180.3,488.4 180.9,488.4 181.5,488.3 182.1,488.3 182.7,488.4 183.3,488.6 183.9,488.8 184.5,489.0 185.1,488.8 185.7,488.3 186.3,487.8 186.9,487.3 187.5,487.0 188.1,486.8 188.7,486.4 189.3,485.8 189.9,485.2 190.5,484.4 191.1,483.4 191.7,482.3 192.3,480.7 192.9,479.3 193.5,478.2 194.1,477.7 194.7,477.9 195.3,478.6 195.9,479.6 196.5,480.7 197.1,481.9 197.7,482.9 198.3,483.8 198.9,484.5 199.5,485.0 200.1,485.4 200.7,485.8 201.3,485.8 201.9,485.8 202.5,485.7 203.1,485.7 203.7,485.2 204.3,484.7 204.9,484.2 205.5,483.7 206.1,483.5 206.7,483.3 207.3,483.1 207.9,483.0 208.5,483.2 209.1,483.4 209.7,483.6 210.3,483.7 210.9,483.6 211.5,483.6 212.1,483.6 212.7,483.6 213.3,483.6 213.9,483.7 214.5,483.7 215.1,483.9 215.7,484.1 216.3,484.2 216.9,484.4 217.5,484.5 218.1,484.6 218.7,484.7 219.3,484.7 219.9,484.5 220.5,484.2 221.1,484.0 221.7,483.8 222.3,483.8 222.9,483.8 223.5,483.8 224.1,483.6 224.7,483.2 225.3,482.7 225.9,482.3 226.5,482.2 227.1,482.1 227.7,482.0 228.3,482.0 228.9,482.1 229.5,482.4 230.1,482.6 230.7,482.9 231.3,482.9 231.9,483.0 232.5,483.0 233.1,483.1 233.7,483.1 234.3,483.1 234.9,483.0 235.5,483.0 236.1,483.0 236.7,483.0 237.3,483.0 237.9,483.0 238.5,483.1 239.1,483.1 239.7,483.2 240.3,483.3 240.9,483.3 241.5,483.3 242.1,483.3 242.7,482.9 243.3,482.3 243.9,481.8 244.5,481.1 245.1,481.2 245.7,481.2 246.3,481.2 246.9,481.2 247.5,481.3 248.1,481.3 248.7,481.3 249.3,481.3 249.9,481.2 250.5,481.1 251.1,481.1 251.7,480.8 252.3,480.4 252.9,479.9 253.5,479.5 254.1,479.7 254.7,480.1 255.3,480.6 255.9,481.0 256.5,480.7 257.1,480.2 257.7,479.7 258.3,479.0 258.9,478.6 259.5,478.1 260.1,477.5 260.7,476.8 261.3,476.1 261.9,475.4 262.5,474.7 263.1,474.3 263.7,474.2 264.3,474.4 264.9,475.0 265.5,475.5 266.1,475.9 266.7,476.3 267.3,476.7 267.9,477.7 268.5,478.8 269.1,479.9 269.7,480.9 270.3,481.2 270.9,481.4 271.5,481.5 272.1,481.6 272.7,481.6 273.3,481.7 273.9,481.7 274.5,481.7 275.1,482.0 275.7,482.2 276.3,482.4 276.9,482.4 277.5,482.2 278.1,481.9 278.7,481.6 279.3,481.7 279.9,482.1 280.5,482.5 281.1,482.9 281.7,483.2 282.3,483.4 282.9,483.7 283.5,484.0 284.1,484.0 284.7,484.0 285.3,484.1 285.9,484.1 286.5,484.5 287.1,484.8 287.7,485.2 288.3,485.5 288.9,485.8 289.5,486.1 290.1,486.3 290.7,486.5 291.3,486.7 291.9,486.8 292.5,486.9 293.1,487.1 293.7,487.3 294.3,487.5 294.9,487.7 295.5,487.7 296.1,487.5 296.7,487.3 297.3,487.1 297.9,487.0 298.5,487.0 299.1,487.0 299.7,486.9 300.3,487.1 300.9,487.3 301.5,487.5 302.1,487.7 302.7,488.0 303.3,488.3 303.9,488.6 304.5,488.7 305.1,488.2 305.7,487.8 306.3,487.3 306.9,487.2 307.5,487.5 308.1,487.7 308.7,488.1 309.3,488.0 309.9,487.8 310.5,487.7 311.1,487.5 311.7,488.2 312.3,489.0 312.9,489.8 313.5,490.6 314.1,490.6 314.7,490.6 315.3,490.6 315.9,490.5 316.5,490.6 317.1,490.6 317.7,490.6 318.3,490.5 318.9,490.0 319.5,489.5 320.1,489.1 320.7,488.7 321.3,488.3 321.9,488.0 322.5,487.7 323.1,487.9 323.7,488.3 324.3,488.8 324.9,489.3 325.5,489.4 326.1,489.6 326.7,489.7 327.3,489.8 327.9,489.7 328.5,489.5 329.1,489.4 329.7,489.2 330.3,489.2 330.9,489.1 331.5,489.0 332.1,489.0 332.7,489.4 333.3,489.7 333.9,490.1 334.5,490.2 335.1,490.0 335.7,489.9 336.3,489.7 336.9,490.0 337.5,490.5 338.1,491.0 338.7,491.5 339.3,491.0 339.9,490.3 340.5,489.6 341.1,488.9 341.7,488.8 342.3,488.7 342.9,488.6 343.5,488.6 344.1,488.5 344.7,488.5 345.3,488.5 345.9,488.3 346.5,487.9 347.1,487.5 347.7,487.1 348.3,486.8 348.9,486.9 349.5,486.9 350.1,486.9 350.7,487.1 351.3,487.5 351.9,487.8 352.5,488.2 353.1,487.8 353.7,487.3 354.3,486.9 354.9,486.4 355.5,486.2 356.1,486.0 356.7,485.8 357.3,485.6 357.9,485.4 358.5,485.2 359.1,485.0 359.7,485.0 360.3,485.2 360.9,485.5 361.5,485.8 362.1,485.9 362.7,485.8 363.3,485.7 363.9,485.7 364.5,485.5 365.1,485.3 365.7,485.2 366.3,485.0 366.9,484.7 367.5,484.5 368.1,484.2 368.7,484.0 369.3,483.9 369.9,483.9 370.5,483.8 371.1,483.6 371.7,483.3 372.3,482.9 372.9,482.5 373.5,482.0 374.1,481.3 374.7,480.7 375.3,480.2 375.9,480.1 376.5,480.5 377.1,481.1 377.7,481.8 378.3,482.1 378.9,482.1 379.5,482.0 380.1,481.8 380.7,482.0 381.3,482.3 381.9,482.5 382.5,482.6 383.1,482.7 383.7,482.7 384.3,482.8 384.9,482.8 385.5,482.8 386.1,482.7 386.7,482.7 387.3,482.7 387.9,482.6 388.5,482.5 389.1,482.5 389.7,482.7 390.3,483.2 390.9,483.7 391.5,484.2 392.1,484.6 392.7,484.9 393.3,485.3 393.9,485.6 394.5,485.7 395.1,485.7 395.7,485.7 396.3,485.7 396.9,485.8 397.5,485.9 398.1,486.0 398.7,486.1 399.3,486.3 399.9,486.5 400.5,486.7 401.1,486.8 401.7,486.8 402.3,486.8 402.9,486.8 403.5,486.6 404.1,486.3 404.7,486.0 405.3,485.7 405.9,485.7 406.5,485.8 407.1,486.0 407.7,486.1 408.3,486.2 408.9,486.3 409.5,486.4 410.1,486.5 410.7,485.8 411.3,485.1 411.9,484.4 412.5,483.7 413.1,483.7 413.7,483.6 414.3,483.6 414.9,483.4 415.5,483.0 416.1,482.7 416.7,482.3 417.3,481.9 417.9,481.5 418.5,481.2 419.1,480.8 419.7,480.6 420.3,480.3 420.9,480.1 421.5,479.9 422.1,479.9 422.7,480.0 423.3,480.0 423.9,480.0 424.5,479.8 425.1,479.6 425.7,479.4 426.3,479.1 426.9,478.7 427.5,478.3 428.1,477.8 428.7,477.2 429.3,476.2 429.9,475.1 430.5,473.9 431.1,472.8 431.7,471.9 432.3,470.9 432.9,469.7 433.5,468.2 434.1,466.1 434.7,463.7 435.3,461.0 435.9,458.1 436.5,455.4 437.1,453.2 437.7,452.0 438.3,452.0 438.9,453.1 439.5,455.1 440.1,457.4 440.7,459.8 441.3,462.1 441.9,464.0 442.5,465.5 443.1,466.8 443.7,467.7 444.3,468.5 444.9,469.1 445.5,469.6 446.1,469.9 446.7,470.3 447.3,470.4 447.9,470.3 448.5,470.2 449.1,470.1 449.7,470.4 450.3,470.6 450.9,470.7 451.5,470.6 452.1,470.0 452.7,469.2 453.3,468.5 453.9,468.1 454.5,468.1 455.1,468.6 455.7,469.3 456.3,470.0 456.9,470.9 457.5,471.5 458.1,471.8 458.7,472.2 459.3,472.6 459.9,472.7 460.5,472.5 461.1,471.0 461.7,468.9 462.3,466.6 462.9,464.7 463.5,463.8 464.1,463.9 464.7,464.8 465.3,466.2 465.9,468.2 466.5,470.1 467.1,471.6 467.7,473.0 468.3,474.3 468.9,475.8 469.5,477.4 470.1,479.0 470.7,480.1 471.3,481.3 471.9,482.3 472.5,483.3 473.1,484.3 473.7,484.9 474.3,485.4 474.9,485.7 475.5,485.9 476.1,486.0 476.7,486.1 477.3,486.2 477.9,486.4 478.5,486.6 479.1,486.7 479.7,487.1 480.3,487.5 480.9,487.9 481.5,488.3 482.1,488.3 482.7,488.4 483.3,488.4 483.9,488.5 484.5,488.5 485.1,488.5 485.7,488.6 486.3,488.8 486.9,489.3 487.5,489.7 488.1,490.2 488.7,490.5 489.3,490.8 489.9,491.1 490.5,491.3 491.1,491.3 491.7,491.3 492.3,491.3 492.9,491.2 493.5,491.5 494.1,491.8 494.7,492.2" fill="none" stroke="#000" stroke-width="2.3" stroke-linejoin="round"/>
<polyline points="51.3,547.1 51.9,547.8 52.5,548.5 53.1,549.1 53.7,549.6 54.3,549.4 54.9,549.1 55.5,548.8 56.1,548.6 56.7,548.8 57.3,548.9 57.9,549.0 58.5,549.0 59.1,548.7 59.7,548.4 60.3,548.1 60.9,548.2 61.5,548.5 62.1,548.7 62.7,549.0 63.3,548.7 63.9,548.4 64.5,548.0 65.1,547.6 65.7,547.4 66.3,547.3 66.9,547.1 67.5,546.9 68.1,547.0 68.7,547.0 69.3,547.1 69.9,547.1 70.5,546.9 71.1,546.7 71.7,546.6 72.3,546.4 72.9,546.1 73.5,545.8 74.1,545.5 74.7,545.3 75.3,545.2 75.9,545.0 76.5,544.8 77.1,544.7 77.7,544.5 78.3,544.1 78.9,543.4 79.5,542.1 80.1,540.6 80.7,538.7 81.3,536.6 81.9,534.4 82.5,532.7 83.1,532.0 83.7,532.5 84.3,534.1 84.9,536.0 85.5,537.9 86.1,539.5 86.7,540.5 87.3,541.2 87.9,541.6 88.5,542.4 89.1,543.3 89.7,544.2 90.3,545.0 90.9,544.8 91.5,544.5 92.1,544.2 92.7,543.9 93.3,544.3 93.9,544.7 94.5,545.1 95.1,545.5 95.7,545.4 96.3,545.3 96.9,545.2 97.5,545.3 98.1,545.6 98.7,546.0 99.3,546.3 99.9,546.4 100.5,546.3 101.1,546.3 101.7,546.2 102.3,546.0 102.9,545.8 103.5,545.5 104.1,545.3 104.7,545.5 105.3,545.7 105.9,545.9 106.5,546.1 107.1,545.7 107.7,545.2 108.3,544.7 108.9,544.4 109.5,544.8 110.1,545.2 110.7,545.6 111.3,545.6 111.9,545.0 112.5,544.4 113.1,543.7 113.7,543.6 114.3,543.8 114.9,544.1 115.5,544.3 116.1,544.3 116.7,544.0 117.3,543.3 117.9,542.3 118.5,540.8 119.1,539.0 119.7,535.8 120.3,530.9 120.9,524.9 121.5,517.9 122.1,508.5 122.7,497.2 123.3,483.2 123.9,466.1 124.5,452.9 125.1,442.9 125.7,438.2 126.3,439.9 126.9,443.7 127.5,448.2 128.1,454.6 128.7,461.9 129.3,471.3 129.9,480.4 130.5,485.4 131.1,487.6 131.7,488.9 132.3,489.0 132.9,488.9 133.5,488.8 134.1,489.9 134.7,493.4 135.3,497.4 135.9,502.2 136.5,508.0 137.1,514.0 137.7,518.7 138.3,523.1 138.9,527.0 139.5,530.1 140.1,532.6 140.7,534.5 141.3,535.9 141.9,537.3 142.5,538.4 143.1,539.4 143.7,540.2 144.3,540.7 144.9,541.2 145.5,541.5 146.1,542.1 146.7,542.7 147.3,543.3 147.9,543.9 148.5,544.2 149.1,544.5 149.7,544.7 150.3,545.0 150.9,545.4 151.5,545.7 152.1,546.1 152.7,546.4 153.3,546.6 153.9,546.9 154.5,547.0 155.1,547.1 155.7,547.0 156.3,546.9 156.9,546.8 157.5,546.9 158.1,547.2 158.7,547.4 159.3,547.7 159.9,547.9 160.5,548.0 161.1,548.2 161.7,548.4 162.3,548.2 162.9,547.9 163.5,547.7 164.1,547.6 164.7,547.8 165.3,548.1 165.9,548.4 166.5,548.6 167.1,548.6 167.7,548.7 168.3,548.7 168.9,548.9 169.5,549.2 170.1,549.6 170.7,549.9 171.3,549.9 171.9,549.8 172.5,549.7 173.1,549.6 173.7,549.6 174.3,549.6 174.9,549.5 175.5,549.5 176.1,549.3 176.7,549.1 177.3,548.9 177.9,548.8 178.5,549.0 179.1,549.2 179.7,549.4 180.3,549.4 180.9,549.0 181.5,548.6 182.1,548.2 182.7,548.0 183.3,548.0 183.9,548.0 184.5,547.9 185.1,547.9 185.7,547.7 186.3,547.6 186.9,547.4 187.5,547.4 188.1,547.3 188.7,547.0 189.3,546.5 189.9,545.3 190.5,543.8 191.1,542.0 191.7,540.1 192.3,538.3 192.9,536.8 193.5,535.7 194.1,535.5 194.7,536.2 195.3,537.7 195.9,539.5 196.5,541.3 197.1,543.0 197.7,544.4 198.3,545.6 198.9,546.3 199.5,546.7 200.1,547.0 200.7,547.0 201.3,546.6 201.9,546.0 202.5,545.4 203.1,544.8 203.7,545.1 204.3,545.5 204.9,545.8 205.5,546.1 206.1,546.1 206.7,546.1 207.3,546.2 207.9,546.2 208.5,546.2 209.1,546.2 209.7,546.2 210.3,546.3 210.9,546.4 211.5,546.6 212.1,546.7 212.7,546.9 213.3,547.2 213.9,547.5 214.5,547.7 215.1,547.2 215.7,546.6 216.3,546.0 216.9,545.4 217.5,545.2 218.1,544.9 218.7,544.8 219.3,544.7 219.9,545.0 220.5,545.3 221.1,545.7 221.7,545.9 222.3,545.9 222.9,545.9 223.5,546.0 224.1,546.1 224.7,546.2 225.3,546.3 225.9,546.4 226.5,546.4 227.1,546.3 227.7,546.1 228.3,545.9 228.9,545.9 229.5,545.9 230.1,546.0 230.7,546.0 231.3,546.0 231.9,545.9 232.5,545.9 233.1,545.8 233.7,545.3 234.3,544.7 234.9,544.2 235.5,543.9 236.1,543.9 236.7,544.0 237.3,544.0 237.9,544.3 238.5,544.9 239.1,545.4 239.7,546.0 240.3,546.1 240.9,546.1 241.5,546.1 242.1,546.0 242.7,545.8 243.3,545.6 243.9,545.3 244.5,545.1 245.1,545.1 245.7,545.0 246.3,545.0 246.9,545.0 247.5,545.2 248.1,545.4 248.7,545.6 249.3,545.7 249.9,545.5 250.5,545.4 251.1,545.2 251.7,545.1 252.3,545.2 252.9,545.4 253.5,545.5 254.1,545.7 254.7,546.0 255.3,546.3 255.9,546.6 256.5,546.3 257.1,545.9 257.7,545.5 258.3,545.0 258.9,544.9 259.5,544.9 260.1,544.8 260.7,544.5 261.3,543.8 261.9,543.1 262.5,542.4 263.1,541.8 263.7,541.5 264.3,541.4 264.9,541.4 265.5,541.7 266.1,542.2 266.7,542.8 267.3,543.6 267.9,543.7 268.5,543.6 269.1,543.4 269.7,543.0 270.3,543.2 270.9,543.3 271.5,543.5 272.1,543.5 272.7,543.4 273.3,543.3 273.9,543.3 274.5,543.2 275.1,543.3 275.7,543.5 276.3,543.6 276.9,543.8 277.5,544.2 278.1,544.5 278.7,544.8 279.3,545.0 279.9,544.9 280.5,544.9 281.1,544.8 281.7,544.6 282.3,544.3 282.9,544.0 283.5,543.7 284.1,543.9 284.7,544.3 285.3,544.7 285.9,545.1 286.5,545.1 287.1,545.1 287.7,545.1 288.3,545.2 288.9,545.3 289.5,545.4 290.1,545.5 290.7,545.8 291.3,546.4 291.9,547.0 292.5,547.5 293.1,547.4 293.7,546.7 294.3,546.0 294.9,545.3 295.5,545.1 296.1,545.2 296.7,545.3 297.3,545.5 297.9,545.3 298.5,545.1 299.1,544.9 299.7,544.7 300.3,545.0 300.9,545.4 301.5,545.8 302.1,546.1 302.7,546.0 303.3,546.0 303.9,546.0 304.5,546.0 305.1,546.1 305.7,546.1 306.3,546.1 306.9,546.2 307.5,546.2 308.1,546.3 308.7,546.4 309.3,546.7 309.9,547.1 310.5,547.4 311.1,547.8 311.7,547.7 312.3,547.4 312.9,547.1 313.5,546.8 314.1,547.0 314.7,547.1 315.3,547.2 315.9,547.2 316.5,547.1 317.1,547.0 317.7,547.0 318.3,547.0 318.9,547.5 319.5,547.9 320.1,548.4 320.7,548.4 321.3,548.1 321.9,547.7 322.5,547.3 323.1,547.1 323.7,546.9 324.3,546.7 324.9,546.5 325.5,546.4 326.1,546.4 326.7,546.4 327.3,546.4 327.9,546.9 328.5,547.4 329.1,547.9 329.7,548.2 330.3,547.6 330.9,547.1 331.5,546.6 332.1,546.3 332.7,546.5 333.3,546.8 333.9,547.1 334.5,547.2 335.1,547.3 335.7,547.3 336.3,547.3 336.9,547.3 337.5,547.3 338.1,547.3 338.7,547.2 339.3,547.1 339.9,547.0 340.5,546.9 341.1,546.8 341.7,546.9 342.3,546.9 342.9,547.0 343.5,547.1 344.1,547.1 344.7,547.1 345.3,547.1 345.9,546.9 346.5,546.6 347.1,546.2 347.7,545.8 348.3,546.1 348.9,547.0 349.5,547.9 350.1,548.8 350.7,548.9 351.3,548.5 351.9,548.1 352.5,547.7 353.1,547.5 353.7,547.3 354.3,547.1 354.9,546.9 355.5,546.8 356.1,546.7 356.7,546.6 357.3,546.5 357.9,546.4 358.5,546.2 359.1,546.1 359.7,546.1 360.3,546.4 360.9,546.8 361.5,547.1 362.1,547.1 362.7,546.9 363.3,546.6 363.9,546.4 364.5,546.4 365.1,546.5 365.7,546.6 366.3,546.8 366.9,546.5 367.5,546.1 368.1,545.7 368.7,545.3 369.3,545.6 369.9,545.9 370.5,546.2 371.1,546.4 371.7,546.6 372.3,546.6 372.9,546.5 373.5,546.1 374.1,545.0 374.7,543.8 375.3,542.6 375.9,541.6 376.5,541.2 377.1,541.0 377.7,541.2 378.3,541.5 378.9,541.9 379.5,542.5 380.1,543.0 380.7,543.8 381.3,544.6 381.9,545.2 382.5,545.8 383.1,546.2 383.7,546.4 384.3,546.6 384.9,546.8 385.5,546.7 386.1,546.6 386.7,546.5 387.3,546.4 387.9,546.3 388.5,546.2 389.1,546.0 389.7,546.0 390.3,546.1 390.9,546.2 391.5,546.3 392.1,546.3 392.7,546.1 393.3,546.0 393.9,546.0 394.5,545.8 395.1,545.7 395.7,545.6 396.3,545.5 396.9,545.8 397.5,546.1 398.1,546.4 398.7,546.6 399.3,546.7 399.9,546.9 400.5,547.0 401.1,547.0 401.7,546.8 402.3,546.6 402.9,546.4 403.5,546.3 404.1,546.5 404.7,546.7 405.3,546.8 405.9,547.3 406.5,547.9 407.1,548.5 407.7,549.1 408.3,548.8 408.9,548.4 409.5,548.0 410.1,547.6 410.7,547.5 411.3,547.3 411.9,547.2 412.5,547.1 413.1,547.5 413.7,547.9 414.3,548.3 414.9,548.3 415.5,547.6 416.1,546.9 416.7,546.1 417.3,545.3 417.9,544.7 418.5,544.0 419.1,543.3 419.7,542.9 420.3,542.6 420.9,542.4 421.5,542.2 422.1,541.9 422.7,541.6 423.3,541.3 423.9,541.0 424.5,540.9 425.1,540.9 425.7,540.8 426.3,540.6 426.9,540.2 427.5,539.8 428.1,539.4 428.7,538.7 429.3,537.5 429.9,536.1 430.5,534.6 431.1,533.6 431.7,533.1 432.3,532.3 432.9,531.1 433.5,528.8 434.1,525.7 434.7,522.1 435.3,518.3 435.9,515.0 436.5,512.0 437.1,509.7 437.7,508.5 438.3,508.4 438.9,509.7 439.5,511.9 440.1,514.5 440.7,517.2 441.3,519.8 441.9,522.2 442.5,524.2 443.1,525.8 443.7,527.2 444.3,528.2 444.9,529.2 445.5,530.1 446.1,530.8 446.7,531.5 447.3,531.9 447.9,532.1 448.5,532.3 449.1,532.4 449.7,533.0 450.3,533.7 450.9,534.3 451.5,535.0 452.1,535.4 452.7,535.8 453.3,536.2 453.9,536.5 454.5,536.7 455.1,537.0 455.7,537.2 456.3,537.5 456.9,538.1 457.5,538.6 458.1,539.0 458.7,538.9 459.3,538.5 459.9,537.8 460.5,537.0 461.1,536.1 461.7,535.2 462.3,534.2 462.9,533.4 463.5,533.3 464.1,533.8 464.7,534.8 465.3,536.1 465.9,537.0 466.5,537.8 467.1,538.5 467.7,539.0 468.3,539.4 468.9,540.0 469.5,540.7 470.1,541.5 470.7,542.5 471.3,543.4 471.9,544.1 472.5,545.1 473.1,546.2 473.7,547.2 474.3,548.1 474.9,548.5 475.5,548.6 476.1,548.6 476.7,548.6 477.3,548.8 477.9,549.0 478.5,549.2 479.1,549.4 479.7,549.3 480.3,549.2 480.9,549.1 481.5,549.0 482.1,549.2 482.7,549.5 483.3,549.7 483.9,550.0 484.5,550.4 485.1,550.9 485.7,551.3 486.3,551.5 486.9,551.3 487.5,551.2 488.1,551.1 488.7,550.9 489.3,550.8 489.9,550.7 490.5,550.5 491.1,550.7 491.7,550.9 492.3,551.1 492.9,551.1 493.5,551.4 494.1,551.6 494.7,551.9" fill="none" stroke="#000" stroke-width="2.3" stroke-linejoin="round"/>
<polyline points="51.3,612.5 51.9,612.3 52.5,612.1 53.1,612.0 53.7,611.9 54.3,611.6 54.9,611.4 55.5,611.1 56.1,611.2 56.7,611.7 57.3,612.2 57.9,612.7 58.5,613.0 59.1,613.3 59.7,613.5 60.3,613.7 60.9,613.5 61.5,613.1 62.1,612.8 62.7,612.4 63.3,612.3 63.9,612.3 64.5,612.3 65.1,612.2 65.7,612.2 66.3,612.2 66.9,612.2 67.5,612.1 68.1,611.6 68.7,611.1 69.3,610.5 69.9,610.3 70.5,610.8 71.1,611.3 71.7,611.8 72.3,611.6 72.9,610.8 73.5,609.9 74.1,609.1 74.7,608.9 75.3,609.0 75.9,609.1 76.5,609.3 77.1,609.6 77.7,609.9 78.3,610.1 78.9,610.0 79.5,608.7 80.1,607.0 80.7,605.1 81.3,603.1 81.9,601.7 82.5,600.7 83.1,600.4 83.7,601.0 84.3,602.1 84.9,603.5 85.5,604.8 86.1,606.2 86.7,607.3 87.3,608.2 87.9,608.7 88.5,608.7 89.1,608.3 89.7,607.8 90.3,607.3 90.9,607.4 91.5,607.6 92.1,607.9 92.7,608.1 93.3,608.5 93.9,608.9 94.5,609.3 95.1,609.6 95.7,609.3 96.3,608.9 96.9,608.6 97.5,608.3 98.1,608.2 98.7,608.1 99.3,607.9 99.9,607.9 100.5,608.0 101.1,608.0 101.7,608.1 102.3,608.1 102.9,608.1 103.5,608.0 104.1,608.0 104.7,607.9 105.3,607.8 105.9,607.8 106.5,607.7 107.1,607.8 107.7,607.9 108.3,608.0 108.9,608.1 109.5,607.7 110.1,607.4 110.7,607.1 111.3,607.1 111.9,607.6 112.5,608.2 113.1,608.8 113.7,608.9 114.3,608.5 114.9,608.1 115.5,607.6 116.1,607.4 116.7,607.2 117.3,606.6 117.9,605.7 118.5,604.1 119.1,602.2 119.7,599.0 120.3,594.2 120.9,588.1 121.5,580.8 122.1,570.4 122.7,557.6 123.3,540.9 123.9,519.4 124.5,503.5 125.1,492.2 125.7,486.8 126.3,488.1 126.9,491.5 127.5,496.2 128.1,503.5 128.7,512.3 129.3,524.2 129.9,535.9 130.5,542.3 131.1,544.7 131.7,546.2 132.3,546.8 132.9,547.2 133.5,547.6 134.1,549.2 134.7,552.5 135.3,556.3 135.9,560.9 136.5,566.3 137.1,572.3 137.7,577.4 138.3,582.4 138.9,587.0 139.5,590.8 140.1,594.0 140.7,596.5 141.3,598.5 141.9,600.3 142.5,602.0 143.1,603.5 143.7,604.7 144.3,605.5 144.9,606.2 145.5,606.7 146.1,606.9 146.7,607.0 147.3,607.0 147.9,606.9 148.5,607.4 149.1,607.9 149.7,608.3 150.3,608.6 150.9,608.5 151.5,608.4 152.1,608.3 152.7,608.3 153.3,608.6 153.9,608.9 154.5,609.2 155.1,609.5 155.7,609.8 156.3,610.2 156.9,610.6 157.5,610.7 158.1,610.8 158.7,610.8 159.3,610.8 159.9,611.1 160.5,611.3 161.1,611.6 161.7,611.8 162.3,611.5 162.9,611.3 163.5,611.0 164.1,610.8 164.7,611.2 165.3,611.6 165.9,612.0 166.5,612.3 167.1,612.5 167.7,612.6 168.3,612.8 168.9,612.9 169.5,613.2 170.1,613.4 170.7,613.6 171.3,613.4 171.9,613.1 172.5,612.7 173.1,612.3 173.7,612.4 174.3,612.6 174.9,612.8 175.5,612.9 176.1,612.8 176.7,612.7 177.3,612.6 177.9,612.4 178.5,611.9 179.1,611.4 179.7,611.0 180.3,610.7 180.9,610.7 181.5,610.7 182.1,610.7 182.7,610.7 183.3,610.9 183.9,611.1 184.5,611.3 185.1,611.0 185.7,610.6 186.3,610.1 186.9,609.6 187.5,609.3 188.1,608.9 188.7,608.4 189.3,607.5 189.9,606.8 190.5,605.8 191.1,604.4 191.7,602.7 192.3,600.6 192.9,598.7 193.5,597.3 194.1,596.9 194.7,597.5 195.3,598.9 195.9,600.8 196.5,602.9 197.1,604.9 197.7,606.7 198.3,608.1 198.9,609.1 199.5,609.7 200.1,610.1 200.7,610.3 201.3,610.5 201.9,610.6 202.5,610.6 203.1,610.6 203.7,610.7 204.3,610.8 204.9,610.9 205.5,611.0 206.1,611.3 206.7,611.6 207.3,611.8 207.9,612.1 208.5,612.4 209.1,612.7 209.7,612.9 210.3,612.9 210.9,612.6 211.5,612.2 212.1,611.8 212.7,611.6 213.3,611.6 213.9,611.5 214.5,611.4 215.1,611.2 215.7,611.0 216.3,610.8 216.9,610.5 217.5,610.2 218.1,609.8 218.7,609.4 219.3,609.2 219.9,609.4 220.5,609.6 221.1,609.8 221.7,609.9 222.3,609.9 222.9,610.0 223.5,610.0 224.1,609.8 224.7,609.4 225.3,608.9 225.9,608.5 226.5,608.6 227.1,608.9 227.7,609.2 228.3,609.5 228.9,609.4 229.5,609.1 230.1,608.9 230.7,608.8 231.3,609.2 231.9,609.6 232.5,610.0 233.1,610.4 233.7,610.5 234.3,610.5 234.9,610.5 235.5,610.4 236.1,610.0 236.7,609.7 237.3,609.3 237.9,608.9 238.5,608.6 239.1,608.2 239.7,607.8 240.3,607.9 240.9,608.2 241.5,608.4 242.1,608.7 242.7,608.5 243.3,608.3 243.9,608.0 244.5,607.8 245.1,607.7 245.7,607.6 246.3,607.5 246.9,607.5 247.5,607.6 248.1,607.7 248.7,607.8 249.3,607.9 249.9,608.2 250.5,608.4 251.1,608.7 251.7,608.7 252.3,608.4 252.9,608.1 253.5,607.8 254.1,607.7 254.7,607.7 255.3,607.8 255.9,607.8 256.5,607.6 257.1,607.3 257.7,607.0 258.3,606.7 258.9,606.9 259.5,607.1 260.1,607.4 260.7,607.5 261.3,607.3 261.9,607.2 262.5,607.0 263.1,607.0 263.7,607.3 264.3,607.7 264.9,608.0 265.5,608.1 266.1,607.9 266.7,607.7 267.3,607.5 267.9,607.5 268.5,607.6 269.1,607.7 269.7,607.9 270.3,608.0 270.9,608.1 271.5,608.1 272.1,608.2 272.7,608.3 273.3,608.3 273.9,608.3 274.5,608.4 275.1,608.6 275.7,608.8 276.3,609.0 276.9,609.1 277.5,608.9 278.1,608.7 278.7,608.5 279.3,608.2 279.9,607.9 280.5,607.6 281.1,607.3 281.7,607.3 282.3,607.3 282.9,607.4 283.5,607.5 284.1,607.6 284.7,607.7 285.3,607.8 285.9,607.9 286.5,608.1 287.1,608.3 287.7,608.4 288.3,608.6 288.9,608.4 289.5,608.1 290.1,607.9 290.7,607.9 291.3,608.2 291.9,608.5 292.5,608.8 293.1,608.8 293.7,608.5 294.3,608.1 294.9,607.8 295.5,607.8 296.1,607.9 296.7,608.1 297.3,608.2 297.9,608.1 298.5,607.9 299.1,607.7 299.7,607.5 300.3,607.9 300.9,608.4 301.5,608.9 302.1,609.2 302.7,608.8 303.3,608.4 303.9,608.1 304.5,607.8 305.1,607.8 305.7,607.8 306.3,607.8 306.9,608.0 307.5,608.4 308.1,608.8 308.7,609.3 309.3,609.3 309.9,609.2 310.5,609.1 311.1,609.0 311.7,609.1 312.3,609.2 312.9,609.3 313.5,609.4 314.1,609.8 314.7,610.2 315.3,610.6 315.9,610.9 316.5,610.6 317.1,610.4 317.7,610.2 318.3,610.1 318.9,610.3 319.5,610.5 320.1,610.7 320.7,610.6 321.3,610.4 321.9,610.1 322.5,609.8 323.1,609.8 323.7,610.0 324.3,610.2 324.9,610.4 325.5,610.5 326.1,610.5 326.7,610.6 327.3,610.6 327.9,610.4 328.5,610.2 329.1,610.0 329.7,609.8 330.3,610.2 330.9,610.5 331.5,610.8 332.1,610.9 332.7,610.6 333.3,610.2 333.9,609.9 334.5,609.7 335.1,609.9 335.7,610.0 336.3,610.0 336.9,610.1 337.5,610.1 338.1,610.1 338.7,610.0 339.3,610.0 339.9,609.9 340.5,609.7 341.1,609.5 341.7,608.9 342.3,608.3 342.9,607.8 343.5,607.4 344.1,607.4 344.7,607.4 345.3,607.6 345.9,607.8 346.5,608.2 347.1,608.7 347.7,609.1 348.3,609.5 348.9,609.9 349.5,610.4 350.1,610.7 350.7,610.7 351.3,610.5 351.9,610.3 352.5,610.1 353.1,609.9 353.7,609.8 354.3,609.7 354.9,609.6 355.5,609.8 356.1,610.1 356.7,610.3 357.3,610.5 357.9,610.7 358.5,610.8 359.1,610.9 359.7,611.0 360.3,610.7 360.9,610.5 361.5,610.2 362.1,610.2 362.7,610.3 363.3,610.4 363.9,610.5 364.5,610.3 365.1,609.8 365.7,609.4 366.3,608.9 366.9,609.1 367.5,609.4 368.1,609.6 368.7,609.9 369.3,609.9 369.9,609.8 370.5,609.7 371.1,609.6 371.7,609.6 372.3,609.6 372.9,609.5 373.5,609.3 374.1,608.9 374.7,608.5 375.3,608.0 375.9,607.7 376.5,607.5 377.1,607.5 377.7,607.6 378.3,607.6 378.9,607.6 379.5,607.6 380.1,607.7 380.7,608.2 381.3,608.9 381.9,609.4 382.5,610.0 383.1,609.7 383.7,609.4 384.3,609.0 384.9,608.8 385.5,609.0 386.1,609.3 386.7,609.6 387.3,609.9 387.9,610.2 388.5,610.5 389.1,610.9 389.7,611.0 390.3,610.9 390.9,610.8 391.5,610.7 392.1,610.3 392.7,609.7 393.3,609.1 393.9,608.6 394.5,608.9 395.1,609.4 395.7,609.9 396.3,610.4 396.9,610.3 397.5,610.1 398.1,610.0 398.7,609.9 399.3,609.9 399.9,609.9 400.5,609.9 401.1,610.0 401.7,610.2 402.3,610.5 402.9,610.8 403.5,610.9 404.1,611.0 404.7,611.1 405.3,611.1 405.9,611.4 406.5,611.7 407.1,612.0 407.7,612.4 408.3,612.0 408.9,611.5 409.5,611.0 410.1,610.5 410.7,610.7 411.3,610.9 411.9,611.1 412.5,611.3 413.1,611.3 413.7,611.3 414.3,611.3 414.9,611.1 415.5,610.7 416.1,610.3 416.7,609.7 417.3,609.6 417.9,610.0 418.5,610.2 419.1,610.5 419.7,610.3 420.3,610.0 420.9,609.7 421.5,609.3 422.1,608.4 422.7,607.3 423.3,606.3 423.9,605.2 424.5,604.8 425.1,604.4 425.7,603.9 426.3,603.4 426.9,602.6 427.5,601.7 428.1,600.8 428.7,600.0 429.3,599.2 429.9,598.2 430.5,597.0 431.1,595.4 431.7,593.4 432.3,591.2 432.9,588.6 433.5,586.1 434.1,583.5 434.7,580.7 435.3,577.9 435.9,574.7 436.5,571.7 437.1,569.4 437.7,568.0 438.3,568.4 438.9,569.8 439.5,572.0 440.1,574.7 440.7,577.2 441.3,579.7 441.9,582.3 442.5,585.0 443.1,587.9 443.7,590.6 444.3,593.1 444.9,594.7 445.5,595.5 446.1,596.0 446.7,596.4 447.3,597.3 447.9,598.5 448.5,599.6 449.1,600.6 449.7,601.2 450.3,601.7 450.9,602.2 451.5,602.6 452.1,603.4 452.7,604.3 453.3,605.1 453.9,605.9 454.5,606.5 455.1,607.1 455.7,607.6 456.3,608.0 456.9,607.9 457.5,607.8 458.1,607.7 458.7,607.5 459.3,607.4 459.9,607.2 460.5,606.9 461.1,606.6 461.7,606.2 462.3,605.9 462.9,605.6 463.5,605.9 464.1,606.5 464.7,607.3 465.3,608.2 465.9,609.0 466.5,609.7 467.1,610.4 467.7,610.9 468.3,611.1 468.9,611.3 469.5,611.3 470.1,611.3 470.7,611.1 471.3,610.9 471.9,610.7 472.5,610.5 473.1,610.3 473.7,610.1 474.3,610.0 474.9,610.1 475.5,610.4 476.1,610.6 476.7,610.9 477.3,610.9 477.9,610.9 478.5,610.8 479.1,610.8 479.7,611.0 480.3,611.2 480.9,611.3 481.5,611.6 482.1,612.3 482.7,612.9 483.3,613.6 483.9,613.9 484.5,613.8 485.1,613.6 485.7,613.5 486.3,613.5 486.9,613.7 487.5,613.9 488.1,614.1 488.7,614.2 489.3,614.2 489.9,614.2 490.5,614.1 491.1,614.5 491.7,614.9 492.3,615.4 492.9,615.9 493.5,616.1 494.1,616.3 494.7,616.5" fill="none" stroke="#000" stroke-width="2.3" stroke-linejoin="round"/>
<polyline points="51.3,680.5 51.9,680.7 52.5,680.9 53.1,681.2 53.7,681.3 54.3,681.1 54.9,680.9 55.5,680.7 56.1,680.6 56.7,680.8 57.3,681.0 57.9,681.2 58.5,681.3 59.1,681.3 59.7,681.3 60.3,681.3 60.9,680.9 61.5,680.3 62.1,679.6 62.7,679.0 63.3,679.1 63.9,679.4 64.5,679.6 65.1,679.9 65.7,679.5 66.3,679.0 66.9,678.6 67.5,678.4 68.1,678.9 68.7,679.4 69.3,680.0 69.9,680.4 70.5,680.2 71.1,680.0 71.7,679.9 72.3,679.7 72.9,679.5 73.5,679.3 74.1,679.1 74.7,679.1 75.3,679.1 75.9,679.1 76.5,679.1 77.1,678.9 77.7,678.7 78.3,678.3 78.9,677.9 79.5,677.4 80.1,676.9 80.7,676.3 81.3,675.8 81.9,675.6 82.5,675.4 83.1,675.5 83.7,675.8 84.3,676.0 84.9,676.3 85.5,676.8 86.1,677.4 86.7,678.2 87.3,678.9 87.9,679.6 88.5,679.8 89.1,679.9 89.7,679.9 90.3,679.9 90.9,679.9 91.5,679.8 92.1,679.7 92.7,679.6 93.3,679.4 93.9,679.2 94.5,679.0 95.1,678.8 95.7,678.8 96.3,678.8 96.9,678.8 97.5,678.8 98.1,679.1 98.7,679.4 99.3,679.7 99.9,679.8 100.5,679.8 101.1,679.7 101.7,679.7 102.3,679.8 102.9,679.8 103.5,679.8 104.1,679.9 104.7,679.5 105.3,679.0 105.9,678.4 106.5,677.9 107.1,677.8 107.7,677.8 108.3,677.7 108.9,677.5 109.5,677.1 110.1,676.7 110.7,676.3 111.3,676.0 111.9,675.8 112.5,675.7 113.1,675.5 113.7,675.1 114.3,674.5 114.9,673.8 115.5,673.1 116.1,672.9 116.7,672.7 117.3,672.3 117.9,671.6 118.5,670.0 119.1,667.9 119.7,665.0 120.3,661.3 120.9,656.3 121.5,646.2 122.1,632.6 122.7,617.7 123.3,601.1 123.9,581.0 124.5,564.0 125.1,554.8 125.7,547.8 126.3,544.8 126.9,545.5 127.5,547.1 128.1,549.1 128.7,552.2 129.3,556.4 129.9,561.9 130.5,569.2 131.1,577.6 131.7,585.7 132.3,592.2 132.9,598.4 133.5,604.5 134.1,610.7 134.7,617.1 135.3,623.4 135.9,630.1 136.5,637.4 137.1,644.1 137.7,649.2 138.3,652.9 138.9,656.0 139.5,658.8 140.1,661.4 140.7,664.0 141.3,667.3 141.9,670.3 142.5,672.0 143.1,672.7 143.7,673.4 144.3,674.0 144.9,674.6 145.5,675.0 146.1,675.3 146.7,675.5 147.3,675.8 147.9,676.0 148.5,676.0 149.1,676.0 149.7,676.0 150.3,676.1 150.9,676.8 151.5,677.5 152.1,678.2 152.7,678.7 153.3,678.5 153.9,678.4 154.5,678.2 155.1,678.3 155.7,678.5 156.3,678.7 156.9,678.9 157.5,679.0 158.1,679.1 158.7,679.2 159.3,679.2 159.9,678.9 160.5,678.6 161.1,678.3 161.7,678.0 162.3,678.5 162.9,679.0 163.5,679.4 164.1,679.8 164.7,679.8 165.3,679.8 165.9,679.7 166.5,679.6 167.1,679.4 167.7,679.1 168.3,678.8 168.9,678.9 169.5,679.3 170.1,679.8 170.7,680.2 171.3,680.4 171.9,680.5 172.5,680.6 173.1,680.8 173.7,680.9 174.3,680.9 174.9,681.0 175.5,681.1 176.1,681.2 176.7,681.3 177.3,681.4 177.9,681.4 178.5,680.9 179.1,680.5 179.7,680.0 180.3,679.6 180.9,679.7 181.5,679.7 182.1,679.7 182.7,679.5 183.3,679.2 183.9,678.9 184.5,678.5 185.1,678.3 185.7,678.2 186.3,678.1 186.9,677.9 187.5,677.7 188.1,677.4 188.7,676.9 189.3,676.3 189.9,675.5 190.5,674.5 191.1,673.1 191.7,671.5 192.3,669.6 192.9,667.9 193.5,666.8 194.1,666.4 194.7,666.8 195.3,668.0 195.9,669.5 196.5,671.5 197.1,673.7 197.7,675.6 198.3,677.2 198.9,678.3 199.5,679.1 200.1,679.6 200.7,680.0 201.3,679.9 201.9,679.7 202.5,679.5 203.1,679.3 203.7,678.9 204.3,678.5 204.9,678.2 205.5,677.9 206.1,678.0 206.7,678.2 207.3,678.3 207.9,678.5 208.5,678.5 209.1,678.6 209.7,678.6 210.3,678.5 210.9,678.2 211.5,677.8 212.1,677.5 212.7,677.5 213.3,677.7 213.9,677.8 214.5,678.0 215.1,677.7 215.7,677.4 216.3,677.0 216.9,676.6 217.5,676.9 218.1,677.2 218.7,677.6 219.3,677.9 219.9,677.8 220.5,677.8 221.1,677.9 221.7,677.9 222.3,677.8 222.9,677.7 223.5,677.6 224.1,677.4 224.7,677.2 225.3,676.9 225.9,676.6 226.5,676.7 227.1,676.8 227.7,677.0 228.3,677.1 228.9,676.8 229.5,676.5 230.1,676.1 230.7,675.8 231.3,675.6 231.9,675.4 232.5,675.2 233.1,675.2 233.7,675.4 234.3,675.6 234.9,675.9 235.5,676.0 236.1,675.5 236.7,675.1 237.3,674.6 237.9,674.2 238.5,673.9 239.1,673.6 239.7,673.4 240.3,673.5 240.9,673.8 241.5,674.2 242.1,674.6 242.7,674.8 243.3,675.0 243.9,675.3 244.5,675.6 245.1,675.7 245.7,675.8 246.3,676.0 246.9,676.1 247.5,676.2 248.1,676.2 248.7,676.2 249.3,676.4 249.9,676.8 250.5,677.2 251.1,677.6 251.7,677.6 252.3,677.2 252.9,676.8 253.5,676.4 254.1,676.7 254.7,677.3 255.3,677.9 255.9,678.4 256.5,678.6 257.1,678.6 257.7,678.7 258.3,678.7 258.9,678.3 259.5,677.9 260.1,677.5 260.7,677.2 261.3,677.4 261.9,677.6 262.5,677.7 263.1,677.8 263.7,677.5 264.3,677.1 264.9,676.8 265.5,676.7 266.1,676.8 266.7,676.8 267.3,676.9 267.9,677.1 268.5,677.5 269.1,677.8 269.7,678.1 270.3,677.9 270.9,677.6 271.5,677.3 272.1,677.0 272.7,677.3 273.3,677.5 273.9,677.8 274.5,678.1 275.1,678.1 275.7,678.2 276.3,678.2 276.9,678.2 277.5,678.1 278.1,678.0 278.7,677.9 279.3,678.0 279.9,678.1 280.5,678.2 281.1,678.4 281.7,678.5 282.3,678.7 282.9,678.9 283.5,679.1 284.1,678.9 284.7,678.6 285.3,678.3 285.9,678.1 286.5,678.5 287.1,678.8 287.7,679.1 288.3,679.4 288.9,679.7 289.5,679.9 290.1,680.1 290.7,680.1 291.3,679.7 291.9,679.3 292.5,678.9 293.1,678.7 293.7,678.6 294.3,678.6 294.9,678.5 295.5,678.2 296.1,677.8 296.7,677.4 297.3,677.0 297.9,677.4 298.5,677.9 299.1,678.4 299.7,678.9 300.3,679.0 300.9,679.0 301.5,679.0 302.1,679.0 302.7,678.8 303.3,678.6 303.9,678.4 304.5,678.3 305.1,678.6 305.7,678.8 306.3,679.1 306.9,679.2 307.5,679.0 308.1,678.9 308.7,678.8 309.3,678.8 309.9,678.7 310.5,678.6 311.1,678.5 311.7,678.5 312.3,678.4 312.9,678.3 313.5,678.2 314.1,678.1 314.7,678.0 315.3,677.9 315.9,677.8 316.5,678.0 317.1,678.3 317.7,678.5 318.3,678.7 318.9,678.8 319.5,678.9 320.1,679.0 320.7,679.0 321.3,678.9 321.9,678.8 322.5,678.7 323.1,678.6 323.7,678.5 324.3,678.4 324.9,678.3 325.5,678.2 326.1,678.1 326.7,678.0 327.3,677.8 327.9,677.9 328.5,678.0 329.1,678.1 329.7,678.1 330.3,677.5 330.9,676.9 331.5,676.3 332.1,675.9 332.7,676.0 333.3,676.2 333.9,676.3 334.5,676.3 335.1,676.2 335.7,676.1 336.3,675.9 336.9,675.8 337.5,675.7 338.1,675.6 338.7,675.5 339.3,675.3 339.9,675.0 340.5,674.7 341.1,674.5 341.7,674.0 342.3,673.7 342.9,673.4 343.5,673.2 344.1,673.2 344.7,673.4 345.3,673.7 345.9,674.0 346.5,674.2 347.1,674.5 347.7,674.7 348.3,675.2 348.9,675.9 349.5,676.6 350.1,677.3 350.7,677.5 351.3,677.5 351.9,677.5 352.5,677.5 353.1,677.5 353.7,677.4 354.3,677.4 354.9,677.3 355.5,677.2 356.1,676.9 356.7,676.6 357.3,676.3 357.9,676.1 358.5,675.8 359.1,675.6 359.7,675.5 360.3,675.7 360.9,676.0 361.5,676.3 362.1,676.2 362.7,675.9 363.3,675.6 363.9,675.4 364.5,675.4 365.1,675.5 365.7,675.6 366.3,675.7 366.9,676.0 367.5,676.3 368.1,676.6 368.7,676.8 369.3,676.2 369.9,675.6 370.5,674.9 371.1,674.3 371.7,674.3 372.3,674.3 372.9,674.3 373.5,674.2 374.1,674.1 374.7,674.0 375.3,673.8 375.9,673.6 376.5,673.3 377.1,673.3 377.7,673.4 378.3,673.5 378.9,673.5 379.5,673.6 380.1,673.8 380.7,674.3 381.3,674.9 381.9,675.4 382.5,675.8 383.1,675.9 383.7,676.0 384.3,676.1 384.9,676.1 385.5,676.2 386.1,676.3 386.7,676.4 387.3,676.6 387.9,676.9 388.5,677.2 389.1,677.4 389.7,677.6 390.3,677.6 390.9,677.7 391.5,677.7 392.1,677.9 392.7,678.2 393.3,678.5 393.9,678.8 394.5,678.8 395.1,678.8 395.7,678.8 396.3,678.8 396.9,679.0 397.5,679.3 398.1,679.6 398.7,679.7 399.3,679.3 399.9,679.0 400.5,678.6 401.1,678.5 401.7,678.8 402.3,679.1 402.9,679.4 403.5,679.4 404.1,679.1 404.7,678.8 405.3,678.5 405.9,678.4 406.5,678.4 407.1,678.4 407.7,678.4 408.3,678.5 408.9,678.5 409.5,678.6 410.1,678.7 410.7,679.1 411.3,679.5 411.9,679.9 412.5,680.2 413.1,680.0 413.7,679.9 414.3,679.7 414.9,679.5 415.5,679.0 416.1,678.5 416.7,678.0 417.3,677.8 417.9,678.1 418.5,678.4 419.1,678.6 419.7,678.3 420.3,677.9 420.9,677.4 421.5,676.9 422.1,676.3 422.7,675.7 423.3,675.1 423.9,674.4 424.5,674.0 425.1,673.5 425.7,672.9 426.3,672.4 426.9,671.8 427.5,671.1 428.1,670.4 428.7,669.4 429.3,668.2 429.9,666.7 430.5,664.9 431.1,663.3 431.7,661.9 432.3,660.1 432.9,658.0 433.5,654.8 434.1,650.9 434.7,646.8 435.3,642.6 435.9,639.0 436.5,636.0 437.1,633.6 437.7,632.1 438.3,631.8 438.9,632.7 439.5,634.8 440.1,637.7 440.7,641.1 441.3,644.8 441.9,648.5 442.5,652.1 443.1,655.5 443.7,658.7 444.3,661.5 444.9,664.0 445.5,666.5 446.1,668.6 446.7,670.4 447.3,671.6 447.9,672.4 448.5,673.0 449.1,673.4 449.7,674.1 450.3,674.7 450.9,675.2 451.5,675.7 452.1,676.1 452.7,676.6 453.3,677.0 453.9,677.5 454.5,678.2 455.1,678.9 455.7,679.5 456.3,680.0 456.9,679.9 457.5,679.9 458.1,679.8 458.7,679.8 459.3,680.0 459.9,680.1 460.5,680.2 461.1,680.5 461.7,680.9 462.3,681.2 462.9,681.6 463.5,681.5 464.1,681.3 464.7,681.0 465.3,680.8 465.9,681.0 466.5,681.2 467.1,681.5 467.7,681.7 468.3,681.9 468.9,682.2 469.5,682.4 470.1,682.5 470.7,682.3 471.3,682.2 471.9,682.0 472.5,681.9 473.1,681.8 473.7,681.6 474.3,681.5 474.9,681.7 475.5,681.9 476.1,682.2 476.7,682.5 477.3,682.2 477.9,681.8 478.5,681.4 479.1,681.0 479.7,681.0 480.3,680.9 480.9,680.9 481.5,680.8 482.1,680.6 482.7,680.4 483.3,680.2 483.9,680.2 484.5,680.7 485.1,681.1 485.7,681.6 486.3,682.0 486.9,682.2 487.5,682.5 488.1,682.8 488.7,682.8 489.3,682.7 489.9,682.6 490.5,682.5 491.1,682.9 491.7,683.5 492.3,684.1 492.9,684.7 493.5,684.6 494.1,684.5 494.7,684.4" fill="none" stroke="#000" stroke-width="2.3" stroke-linejoin="round"/>
<line x1="83" y1="328.7" x2="83" y2="690" stroke="#0a7a0a" stroke-width="2.0" stroke-dasharray="3.2,2.6"/>
<line x1="263.75" y1="325.3" x2="263.75" y2="696" stroke="#0a7a0a" stroke-width="2.0" stroke-dasharray="3.2,2.6"/>
<line x1="453.37" y1="315" x2="453.37" y2="694" stroke="#0a7a0a" stroke-width="2.0" stroke-dasharray="3.2,2.6"/>
<line x1="463.84" y1="306.6" x2="463.84" y2="696" stroke="#0a7a0a" stroke-width="2.0" stroke-dasharray="3.2,2.6"/>
<line x1="124.67" y1="290.5" x2="124.67" y2="644" stroke="#ff0000" stroke-width="2.0" stroke-dasharray="7,4.5"/>
<line x1="132.85" y1="298.7" x2="132.85" y2="653" stroke="#ff0000" stroke-width="2.0" stroke-dasharray="7,4.5"/>
<line x1="437.83" y1="328.7" x2="437.83" y2="681" stroke="#ff0000" stroke-width="2.0" stroke-dasharray="7,4.5"/>
<line x1="510.4" y1="631.5" x2="510.4" y2="418" stroke="#000" stroke-width="2.0" />
<path d="M510.4 406.4 L514.8 420.4 L510.4 420.4 L506 420.4 Z" fill="#000"/>
<text transform="translate(516.5 537.7) scale(1 1.08)" x="0" y="0" font-family="'Liberation Sans', Arial, sans-serif" font-size="40" fill="#000" font-weight="normal" font-style="italic" text-anchor="start" >t</text>
<text font-family="'Noto Serif CJK SC', 'Liberation Serif', serif" font-weight="600" font-size="38" fill="#0a7a0a" x="9.5" y="306.2">ν</text>
<text font-family="'Liberation Serif', 'Times New Roman', serif" font-size="25.5" fill="#0a7a0a" x="29.2" y="320.3">CC(ring)</text>
<text font-family="'Noto Serif CJK SC', 'Liberation Serif', serif" font-weight="600" font-size="37.5" fill="#000" x="37.2" y="272">ν</text>
<text font-family="'Liberation Serif', 'Times New Roman', serif" font-size="29" fill="#000" x="55.6" y="286">CBr</text>
<text font-family="'Noto Serif CJK SC', 'Liberation Serif', serif" font-weight="600" font-size="37.5" fill="#000" x="151.4" y="284">ν</text>
<text font-family="'Liberation Serif', 'Times New Roman', serif" font-size="29" fill="#000" x="170.4" y="297.8">CS</text>
<text font-family="'Noto Serif CJK SC', 'Liberation Serif', serif" font-weight="600" font-size="38" fill="#0a7a0a" x="250.4" y="309">ν</text>
<text font-family="'Liberation Serif', 'Times New Roman', serif" font-size="30" fill="#0a7a0a" x="269.7" y="323.8">CC</text>
<text font-family="'Noto Serif CJK SC', 'Liberation Serif', serif" font-weight="600" font-size="37.5" fill="#0a7a0a" x="403.7" y="290.5">ν</text>
<text font-family="'Liberation Serif', 'Times New Roman', serif" font-size="29" fill="#0a7a0a" x="423.7" y="304.8">CC(ring)</text>
<line x1="124.3" y1="294.9" x2="111.62" y2="287.27" stroke="#000" stroke-width="1.4" />
<path d="M102.2 281.6 L116.52 284.96 L112.48 287.79 L111.87 292.67 Z" fill="#000"/>
<line x1="135.6" y1="301.2" x2="147.25" y2="293.41" stroke="#000" stroke-width="1.4" />
<path d="M156.4 287.3 L147.26 298.82 L146.42 293.97 L142.26 291.34 Z" fill="#000"/>
<line x1="1188.2" y1="337.8" x2="1188.2" y2="698.8" stroke="#000" stroke-width="1.9" />
<line x1="1187.3" y1="698.8" x2="1630.8" y2="698.8" stroke="#000" stroke-width="1.9" />
<line x1="1218.6" y1="698.8" x2="1218.6" y2="709.8" stroke="#000" stroke-width="1.9" />
<text transform="translate(1218.6 743.2) scale(1 1.035)" x="0" y="0" font-family="'Liberation Sans', Arial, sans-serif" font-size="32.8" fill="#000" font-weight="normal" font-style="normal" text-anchor="middle" >1000</text>
<line x1="1345.34" y1="698.8" x2="1345.34" y2="709.8" stroke="#000" stroke-width="1.9" />
<text transform="translate(1345.34 743.2) scale(1 1.035)" x="0" y="0" font-family="'Liberation Sans', Arial, sans-serif" font-size="32.8" fill="#000" font-weight="normal" font-style="normal" text-anchor="middle" >1200</text>
<line x1="1472.08" y1="698.8" x2="1472.08" y2="709.8" stroke="#000" stroke-width="1.9" />
<text transform="translate(1472.08 743.2) scale(1 1.035)" x="0" y="0" font-family="'Liberation Sans', Arial, sans-serif" font-size="32.8" fill="#000" font-weight="normal" font-style="normal" text-anchor="middle" >1400</text>
<line x1="1598.82" y1="698.8" x2="1598.82" y2="709.8" stroke="#000" stroke-width="1.9" />
<text transform="translate(1598.82 743.2) scale(1 1.035)" x="0" y="0" font-family="'Liberation Sans', Arial, sans-serif" font-size="32.8" fill="#000" font-weight="normal" font-style="normal" text-anchor="middle" >1600</text>
<line x1="1281.97" y1="698.8" x2="1281.97" y2="704.8" stroke="#000" stroke-width="1.9" />
<line x1="1408.71" y1="698.8" x2="1408.71" y2="704.8" stroke="#000" stroke-width="1.9" />
<line x1="1535.45" y1="698.8" x2="1535.45" y2="704.8" stroke="#000" stroke-width="1.9" />
<text transform="translate(1288.1 781.6) scale(1 1.04)" x="0" y="0" font-family="'Liberation Sans', Arial, sans-serif" font-size="33.4" fill="#000" font-weight="normal" font-style="normal" text-anchor="start" >Raman shift (cm<tspan font-size="17" dy="-19.3">-1</tspan><tspan x="261.1" dy="19.3">)</tspan></text>
<text x="0" y="0" font-family="'Liberation Sans', Arial, sans-serif" font-size="33.4" fill="#000" font-weight="normal" font-style="normal" text-anchor="middle" transform="translate(1155.5,509.7) rotate(-90)">Intensity (a.u.)</text>
<polyline points="1186.9,365.8 1187.5,365.7 1188.1,365.6 1188.7,365.5 1189.3,365.4 1189.9,365.4 1190.5,365.5 1191.1,365.5 1191.7,365.4 1192.3,364.7 1192.9,364.1 1193.5,363.5 1194.1,363.2 1194.7,363.0 1195.3,362.9 1195.9,362.8 1196.5,362.8 1197.1,362.9 1197.7,363.0 1198.3,363.0 1198.9,363.3 1199.5,363.6 1200.1,363.9 1200.7,364.3 1201.3,363.7 1201.9,363.1 1202.5,362.6 1203.1,362.1 1203.7,362.0 1204.3,361.9 1204.9,361.8 1205.5,361.8 1206.1,361.8 1206.7,361.8 1207.3,361.9 1207.9,361.8 1208.5,361.6 1209.1,361.4 1209.7,361.3 1210.3,361.1 1210.9,361.0 1211.5,360.9 1212.1,360.7 1212.7,360.3 1213.3,359.6 1213.9,358.7 1214.5,357.2 1215.1,355.2 1215.7,352.3 1216.3,348.7 1216.9,345.1 1217.5,342.4 1218.1,341.6 1218.7,343.2 1219.3,346.3 1219.9,350.1 1220.5,353.5 1221.1,356.1 1221.7,357.7 1222.3,358.4 1222.9,358.7 1223.5,358.8 1224.1,359.0 1224.7,359.1 1225.3,359.3 1225.9,359.4 1226.5,359.3 1227.1,359.1 1227.7,358.9 1228.3,358.5 1228.9,358.2 1229.5,357.5 1230.1,356.2 1230.7,354.5 1231.3,352.2 1231.9,350.2 1232.5,349.2 1233.1,349.8 1233.7,351.4 1234.3,353.5 1234.9,355.4 1235.5,356.8 1236.1,357.7 1236.7,358.2 1237.3,358.3 1237.9,358.2 1238.5,357.9 1239.1,357.5 1239.7,357.1 1240.3,356.8 1240.9,356.4 1241.5,356.1 1242.1,355.7 1242.7,355.3 1243.3,354.9 1243.9,354.5 1244.5,354.0 1245.1,353.9 1245.7,353.8 1246.3,353.6 1246.9,353.1 1247.5,352.1 1248.1,351.0 1248.7,349.9 1249.3,348.9 1249.9,348.0 1250.5,347.0 1251.1,345.9 1251.7,344.9 1252.3,343.8 1252.9,342.7 1253.5,341.4 1254.1,340.0 1254.7,338.5 1255.3,336.9 1255.9,335.3 1256.5,333.1 1257.1,330.8 1257.7,328.4 1258.3,326.0 1258.9,323.7 1259.5,321.4 1260.1,319.0 1260.7,317.0 1261.3,315.4 1261.9,314.0 1262.5,312.7 1263.1,311.6 1263.7,310.7 1264.3,310.2 1264.9,310.1 1265.5,310.1 1266.1,310.3 1266.7,311.0 1267.3,312.1 1267.9,314.0 1268.5,316.3 1269.1,318.8 1269.7,321.4 1270.3,323.8 1270.9,326.1 1271.5,328.4 1272.1,330.6 1272.7,332.8 1273.3,334.9 1273.9,336.9 1274.5,338.6 1275.1,339.9 1275.7,341.1 1276.3,342.2 1276.9,343.4 1277.5,344.6 1278.1,345.8 1278.7,346.8 1279.3,348.0 1279.9,349.3 1280.5,350.4 1281.1,351.5 1281.7,352.1 1282.3,352.5 1282.9,352.8 1283.5,353.0 1284.1,352.8 1284.7,352.5 1285.3,352.3 1285.9,352.2 1286.5,353.3 1287.1,354.5 1287.7,355.7 1288.3,356.8 1288.9,357.4 1289.5,358.1 1290.1,358.7 1290.7,359.1 1291.3,359.1 1291.9,359.2 1292.5,359.3 1293.1,359.8 1293.7,360.6 1294.3,361.4 1294.9,362.2 1295.5,362.4 1296.1,362.6 1296.7,362.7 1297.3,362.7 1297.9,363.3 1298.5,363.7 1299.1,364.2 1299.7,364.5 1300.3,364.5 1300.9,364.5 1301.5,364.4 1302.1,364.2 1302.7,363.9 1303.3,363.6 1303.9,363.2 1304.5,363.1 1305.1,363.2 1305.7,363.4 1306.3,363.5 1306.9,363.5 1307.5,363.3 1308.1,363.1 1308.7,362.9 1309.3,362.8 1309.9,362.7 1310.5,362.7 1311.1,362.6 1311.7,362.5 1312.3,362.5 1312.9,362.4 1313.5,362.2 1314.1,361.4 1314.7,360.6 1315.3,359.8 1315.9,359.4 1316.5,359.8 1317.1,360.1 1317.7,360.5 1318.3,360.4 1318.9,359.8 1319.5,359.2 1320.1,358.7 1320.7,358.5 1321.3,358.7 1321.9,358.8 1322.5,358.9 1323.1,358.9 1323.7,358.9 1324.3,358.9 1324.9,358.9 1325.5,358.7 1326.1,358.4 1326.7,358.2 1327.3,358.0 1327.9,358.3 1328.5,358.6 1329.1,358.9 1329.7,359.0 1330.3,358.8 1330.9,358.6 1331.5,358.4 1332.1,358.5 1332.7,358.9 1333.3,359.3 1333.9,359.7 1334.5,360.2 1335.1,360.8 1335.7,361.3 1336.3,361.9 1336.9,361.8 1337.5,361.7 1338.1,361.5 1338.7,361.4 1339.3,361.8 1339.9,362.2 1340.5,362.5 1341.1,362.8 1341.7,362.5 1342.3,362.2 1342.9,361.9 1343.5,361.9 1344.1,362.3 1344.7,362.8 1345.3,363.2 1345.9,363.3 1346.5,362.9 1347.1,362.6 1347.7,362.3 1348.3,362.4 1348.9,362.6 1349.5,362.8 1350.1,363.0 1350.7,363.0 1351.3,362.9 1351.9,362.7 1352.5,362.6 1353.1,363.0 1353.7,363.4 1354.3,363.8 1354.9,364.0 1355.5,363.7 1356.1,363.5 1356.7,363.2 1357.3,363.0 1357.9,363.1 1358.5,363.2 1359.1,363.3 1359.7,363.4 1360.3,363.6 1360.9,363.7 1361.5,363.8 1362.1,363.9 1362.7,364.0 1363.3,364.1 1363.9,364.2 1364.5,364.1 1365.1,364.0 1365.7,363.8 1366.3,363.7 1366.9,363.5 1367.5,363.2 1368.1,363.0 1368.7,362.8 1369.3,363.1 1369.9,363.4 1370.5,363.6 1371.1,363.7 1371.7,363.4 1372.3,363.0 1372.9,362.6 1373.5,362.1 1374.1,361.4 1374.7,360.8 1375.3,360.2 1375.9,360.0 1376.5,360.0 1377.1,360.1 1377.7,360.3 1378.3,359.7 1378.9,359.0 1379.5,358.3 1380.1,357.8 1380.7,358.0 1381.3,358.3 1381.9,358.7 1382.5,359.0 1383.1,359.5 1383.7,360.0 1384.3,360.5 1384.9,360.8 1385.5,360.8 1386.1,360.7 1386.7,360.6 1387.3,360.4 1387.9,360.3 1388.5,360.2 1389.1,360.1 1389.7,359.9 1390.3,359.7 1390.9,359.4 1391.5,359.2 1392.1,359.0 1392.7,358.8 1393.3,358.6 1393.9,358.4 1394.5,358.5 1395.1,358.6 1395.7,358.8 1396.3,359.0 1396.9,359.3 1397.5,359.7 1398.1,360.1 1398.7,360.4 1399.3,360.4 1399.9,360.4 1400.5,360.5 1401.1,360.5 1401.7,360.5 1402.3,360.5 1402.9,360.4 1403.5,360.5 1404.1,360.6 1404.7,360.6 1405.3,360.5 1405.9,360.6 1406.5,360.7 1407.1,360.8 1407.7,361.0 1408.3,360.4 1408.9,359.8 1409.5,359.4 1410.1,359.1 1410.7,359.4 1411.3,359.9 1411.9,360.4 1412.5,360.8 1413.1,360.8 1413.7,360.8 1414.3,360.9 1414.9,361.1 1415.5,361.6 1416.1,362.1 1416.7,362.5 1417.3,362.9 1417.9,363.2 1418.5,363.4 1419.1,363.5 1419.7,364.1 1420.3,364.8 1420.9,365.5 1421.5,366.1 1422.1,365.7 1422.7,365.4 1423.3,365.0 1423.9,364.7 1424.5,365.0 1425.1,365.3 1425.7,365.5 1426.3,365.8 1426.9,366.1 1427.5,366.3 1428.1,366.5 1428.7,366.4 1429.3,366.0 1429.9,365.6 1430.5,365.1 1431.1,365.1 1431.7,365.2 1432.3,365.3 1432.9,365.5 1433.5,365.4 1434.1,365.3 1434.7,365.3 1435.3,365.2 1435.9,365.4 1436.5,365.6 1437.1,365.8 1437.7,366.1 1438.3,366.4 1438.9,366.7 1439.5,366.9 1440.1,367.1 1440.7,366.9 1441.3,366.7 1441.9,366.5 1442.5,366.5 1443.1,366.8 1443.7,367.0 1444.3,367.2 1444.9,367.1 1445.5,366.8 1446.1,366.5 1446.7,366.2 1447.3,366.2 1447.9,366.2 1448.5,366.2 1449.1,366.3 1449.7,366.2 1450.3,366.1 1450.9,366.0 1451.5,366.0 1452.1,365.9 1452.7,365.7 1453.3,365.6 1453.9,365.5 1454.5,365.3 1455.1,365.2 1455.7,365.0 1456.3,365.0 1456.9,365.3 1457.5,365.5 1458.1,365.8 1458.7,365.8 1459.3,365.8 1459.9,365.8 1460.5,365.7 1461.1,365.9 1461.7,366.3 1462.3,366.6 1462.9,366.9 1463.5,366.6 1464.1,366.3 1464.7,366.0 1465.3,365.7 1465.9,365.6 1466.5,365.5 1467.1,365.5 1467.7,365.5 1468.3,365.2 1468.9,365.0 1469.5,364.8 1470.1,365.0 1470.7,365.6 1471.3,366.2 1471.9,366.8 1472.5,367.0 1473.1,367.1 1473.7,367.2 1474.3,367.2 1474.9,367.1 1475.5,366.9 1476.1,366.7 1476.7,366.5 1477.3,366.7 1477.9,367.0 1478.5,367.2 1479.1,367.3 1479.7,367.0 1480.3,366.7 1480.9,366.3 1481.5,366.1 1482.1,366.0 1482.7,366.0 1483.3,365.9 1483.9,365.8 1484.5,365.6 1485.1,365.4 1485.7,365.3 1486.3,365.1 1486.9,364.9 1487.5,364.7 1488.1,364.4 1488.7,364.7 1489.3,365.1 1489.9,365.4 1490.5,365.7 1491.1,365.0 1491.7,364.3 1492.3,363.6 1492.9,363.0 1493.5,363.1 1494.1,363.2 1494.7,363.3 1495.3,363.2 1495.9,362.6 1496.5,362.0 1497.1,361.5 1497.7,361.2 1498.3,361.4 1498.9,361.5 1499.5,361.7 1500.1,361.6 1500.7,361.3 1501.3,361.1 1501.9,360.9 1502.5,361.2 1503.1,361.6 1503.7,362.1 1504.3,362.5 1504.9,362.2 1505.5,362.0 1506.1,361.7 1506.7,361.4 1507.3,361.5 1507.9,361.4 1508.5,361.4 1509.1,361.4 1509.7,361.3 1510.3,361.2 1510.9,361.1 1511.5,361.0 1512.1,361.0 1512.7,361.0 1513.3,361.0 1513.9,360.9 1514.5,360.9 1515.1,360.8 1515.7,360.7 1516.3,361.0 1516.9,361.2 1517.5,361.4 1518.1,361.6 1518.7,361.2 1519.3,360.7 1519.9,360.3 1520.5,359.8 1521.1,359.5 1521.7,359.2 1522.3,359.0 1522.9,359.1 1523.5,359.8 1524.1,360.6 1524.7,361.5 1525.3,362.0 1525.9,362.3 1526.5,362.6 1527.1,362.9 1527.7,363.4 1528.3,364.1 1528.9,364.7 1529.5,365.3 1530.1,365.9 1530.7,366.4 1531.3,366.8 1531.9,367.2 1532.5,367.1 1533.1,366.9 1533.7,366.6 1534.3,366.5 1534.9,366.7 1535.5,366.9 1536.1,367.1 1536.7,367.3 1537.3,367.5 1537.9,367.7 1538.5,367.9 1539.1,368.2 1539.7,368.6 1540.3,368.9 1540.9,369.1 1541.5,369.1 1542.1,368.8 1542.7,368.5 1543.3,368.2 1543.9,367.5 1544.5,366.7 1545.1,366.0 1545.7,365.2 1546.3,364.9 1546.9,364.7 1547.5,364.5 1548.1,364.4 1548.7,365.0 1549.3,365.5 1549.9,366.1 1550.5,366.4 1551.1,366.1 1551.7,365.8 1552.3,365.5 1552.9,365.5 1553.5,365.6 1554.1,365.8 1554.7,366.0 1555.3,366.0 1555.9,366.0 1556.5,366.0 1557.1,366.0 1557.7,365.5 1558.3,364.8 1558.9,364.1 1559.5,363.5 1560.1,364.0 1560.7,364.5 1561.3,365.1 1561.9,365.5 1562.5,365.2 1563.1,365.0 1563.7,364.7 1564.3,364.3 1564.9,363.6 1565.5,362.4 1566.1,361.2 1566.7,360.4 1567.3,360.0 1567.9,359.5 1568.5,359.0 1569.1,358.0 1569.7,356.7 1570.3,355.5 1570.9,354.3 1571.5,353.4 1572.1,352.7 1572.7,351.9 1573.3,351.1 1573.9,350.1 1574.5,348.9 1575.1,347.3 1575.7,345.3 1576.3,343.4 1576.9,341.3 1577.5,337.9 1578.1,333.9 1578.7,331.1 1579.3,328.9 1579.9,327.1 1580.5,326.0 1581.1,325.6 1581.7,325.3 1582.3,325.1 1582.9,325.5 1583.5,326.5 1584.1,328.4 1584.7,330.4 1585.3,331.7 1585.9,332.5 1586.5,333.1 1587.1,333.7 1587.7,333.8 1588.3,334.0 1588.9,334.4 1589.5,335.1 1590.1,336.8 1590.7,338.9 1591.3,342.5 1591.9,346.0 1592.5,347.6 1593.1,348.6 1593.7,349.5 1594.3,350.8 1594.9,352.8 1595.5,355.0 1596.1,357.4 1596.7,359.0 1597.3,359.8 1597.9,360.2 1598.5,360.5 1599.1,361.1 1599.7,361.7 1600.3,362.1 1600.9,362.6 1601.5,362.4 1602.1,362.3 1602.7,362.1 1603.3,362.0 1603.9,362.5 1604.5,363.0 1605.1,363.3 1605.7,363.6 1606.3,363.7 1606.9,363.8 1607.5,363.9 1608.1,364.3 1608.7,365.0 1609.3,365.8 1609.9,366.5 1610.5,366.4 1611.1,366.0 1611.7,365.5 1612.3,365.1 1612.9,365.1 1613.5,365.2 1614.1,365.3 1614.7,365.4 1615.3,365.2 1615.9,365.0 1616.5,364.8 1617.1,364.7 1617.7,364.7 1618.3,364.8 1618.9,364.9 1619.5,365.1 1620.1,365.3 1620.7,365.4 1621.3,365.5 1621.9,365.8 1622.5,366.2 1623.1,366.6 1623.7,367.0 1624.3,366.7 1624.9,366.0 1625.5,365.3 1626.1,364.7 1626.7,365.0 1627.3,365.6 1627.9,366.3 1628.5,366.9 1629.1,367.0 1629.7,367.1 1630.3,367.2" fill="none" stroke="#000" stroke-width="2.3" stroke-linejoin="round"/>
<polyline points="1186.9,427.0 1187.5,426.8 1188.1,426.6 1188.7,426.5 1189.3,426.3 1189.9,426.3 1190.5,426.3 1191.1,426.3 1191.7,426.2 1192.3,425.7 1192.9,425.2 1193.5,424.7 1194.1,424.6 1194.7,425.0 1195.3,425.4 1195.9,425.7 1196.5,425.6 1197.1,425.2 1197.7,424.8 1198.3,424.4 1198.9,423.9 1199.5,423.5 1200.1,423.0 1200.7,422.6 1201.3,422.3 1201.9,422.1 1202.5,421.9 1203.1,421.8 1203.7,421.6 1204.3,421.5 1204.9,421.4 1205.5,421.4 1206.1,421.4 1206.7,421.4 1207.3,421.4 1207.9,421.5 1208.5,421.8 1209.1,422.1 1209.7,422.3 1210.3,422.3 1210.9,422.0 1211.5,421.8 1212.1,421.5 1212.7,420.9 1213.3,420.0 1213.9,418.9 1214.5,417.1 1215.1,414.8 1215.7,411.6 1216.3,407.6 1216.9,403.7 1217.5,401.1 1218.1,400.9 1218.7,403.2 1219.3,407.0 1219.9,410.7 1220.5,414.0 1221.1,416.5 1221.7,417.9 1222.3,418.7 1222.9,418.9 1223.5,418.9 1224.1,419.1 1224.7,419.3 1225.3,419.5 1225.9,419.6 1226.5,419.5 1227.1,419.3 1227.7,419.0 1228.3,418.4 1228.9,417.6 1229.5,416.4 1230.1,414.5 1230.7,412.2 1231.3,409.7 1231.9,407.6 1232.5,406.6 1233.1,407.1 1233.7,408.6 1234.3,410.6 1234.9,412.4 1235.5,413.9 1236.1,415.1 1236.7,415.9 1237.3,416.3 1237.9,416.4 1238.5,416.4 1239.1,416.4 1239.7,416.3 1240.3,416.1 1240.9,415.9 1241.5,415.7 1242.1,415.4 1242.7,414.7 1243.3,414.0 1243.9,413.2 1244.5,412.4 1245.1,411.9 1245.7,411.4 1246.3,410.8 1246.9,410.3 1247.5,410.0 1248.1,409.7 1248.7,409.3 1249.3,408.4 1249.9,407.0 1250.5,405.6 1251.1,404.2 1251.7,403.0 1252.3,402.0 1252.9,400.9 1253.5,399.8 1254.1,398.6 1254.7,397.3 1255.3,395.9 1255.9,394.4 1256.5,392.4 1257.1,390.2 1257.7,387.9 1258.3,385.4 1258.9,383.0 1259.5,380.5 1260.1,377.8 1260.7,375.2 1261.3,372.9 1261.9,370.6 1262.5,368.6 1263.1,366.5 1263.7,364.6 1264.3,363.2 1264.9,362.3 1265.5,361.9 1266.1,361.9 1266.7,362.6 1267.3,363.9 1267.9,366.3 1268.5,369.2 1269.1,372.4 1269.7,375.7 1270.3,378.6 1270.9,381.5 1271.5,384.3 1272.1,387.1 1272.7,389.9 1273.3,392.5 1273.9,395.0 1274.5,397.3 1275.1,399.7 1275.7,401.9 1276.3,403.9 1276.9,405.8 1277.5,407.6 1278.1,409.2 1278.7,410.6 1279.3,411.5 1279.9,412.1 1280.5,412.6 1281.1,412.9 1281.7,413.7 1282.3,414.6 1282.9,415.3 1283.5,415.9 1284.1,415.7 1284.7,415.3 1285.3,415.0 1285.9,414.7 1286.5,415.1 1287.1,415.5 1287.7,415.9 1288.3,416.2 1288.9,416.3 1289.5,416.5 1290.1,416.7 1290.7,416.9 1291.3,417.1 1291.9,417.3 1292.5,417.5 1293.1,417.9 1293.7,418.3 1294.3,418.7 1294.9,419.1 1295.5,419.3 1296.1,419.4 1296.7,419.6 1297.3,419.7 1297.9,419.7 1298.5,419.7 1299.1,419.8 1299.7,419.8 1300.3,419.9 1300.9,420.0 1301.5,420.1 1302.1,420.3 1302.7,420.7 1303.3,421.1 1303.9,421.5 1304.5,421.9 1305.1,422.1 1305.7,422.4 1306.3,422.6 1306.9,422.7 1307.5,422.6 1308.1,422.5 1308.7,422.4 1309.3,422.3 1309.9,422.0 1310.5,421.8 1311.1,421.5 1311.7,421.4 1312.3,421.2 1312.9,421.0 1313.5,420.9 1314.1,421.2 1314.7,421.5 1315.3,421.7 1315.9,421.7 1316.5,421.2 1317.1,420.7 1317.7,420.2 1318.3,419.7 1318.9,419.1 1319.5,418.6 1320.1,418.0 1320.7,417.8 1321.3,417.7 1321.9,417.6 1322.5,417.6 1323.1,417.5 1323.7,417.4 1324.3,417.4 1324.9,417.3 1325.5,417.2 1326.1,417.0 1326.7,416.9 1327.3,416.7 1327.9,416.7 1328.5,416.7 1329.1,416.7 1329.7,416.8 1330.3,417.2 1330.9,417.6 1331.5,418.0 1332.1,418.2 1332.7,418.2 1333.3,418.2 1333.9,418.3 1334.5,418.5 1335.1,418.7 1335.7,418.9 1336.3,419.2 1336.9,419.3 1337.5,419.3 1338.1,419.3 1338.7,419.4 1339.3,419.3 1339.9,419.3 1340.5,419.2 1341.1,419.1 1341.7,419.1 1342.3,419.0 1342.9,419.0 1343.5,419.0 1344.1,419.1 1344.7,419.2 1345.3,419.3 1345.9,419.4 1346.5,419.4 1347.1,419.5 1347.7,419.5 1348.3,419.7 1348.9,419.9 1349.5,420.1 1350.1,420.4 1350.7,420.5 1351.3,420.6 1351.9,420.8 1352.5,420.9 1353.1,421.2 1353.7,421.5 1354.3,421.9 1354.9,422.2 1355.5,422.4 1356.1,422.6 1356.7,422.9 1357.3,423.1 1357.9,423.1 1358.5,423.1 1359.1,423.1 1359.7,423.3 1360.3,423.7 1360.9,424.1 1361.5,424.4 1362.1,424.4 1362.7,424.2 1363.3,424.0 1363.9,423.6 1364.5,423.5 1365.1,423.5 1365.7,423.3 1366.3,423.2 1366.9,422.8 1367.5,422.4 1368.1,422.0 1368.7,421.7 1369.3,421.8 1369.9,421.9 1370.5,422.1 1371.1,422.2 1371.7,422.2 1372.3,422.2 1372.9,422.2 1373.5,422.3 1374.1,422.5 1374.7,422.6 1375.3,422.8 1375.9,423.1 1376.5,423.4 1377.1,423.6 1377.7,423.9 1378.3,423.6 1378.9,423.1 1379.5,422.6 1380.1,422.1 1380.7,422.3 1381.3,422.5 1381.9,422.7 1382.5,422.9 1383.1,422.8 1383.7,422.7 1384.3,422.6 1384.9,422.5 1385.5,422.5 1386.1,422.5 1386.7,422.4 1387.3,422.1 1387.9,421.4 1388.5,420.8 1389.1,420.1 1389.7,420.0 1390.3,420.0 1390.9,420.0 1391.5,420.1 1392.1,419.7 1392.7,419.3 1393.3,418.9 1393.9,418.4 1394.5,419.0 1395.1,419.6 1395.7,420.2 1396.3,420.7 1396.9,420.2 1397.5,419.8 1398.1,419.4 1398.7,419.2 1399.3,419.2 1399.9,419.3 1400.5,419.4 1401.1,419.2 1401.7,418.9 1402.3,418.5 1402.9,418.2 1403.5,418.4 1404.1,418.8 1404.7,419.2 1405.3,419.6 1405.9,419.9 1406.5,420.0 1407.1,420.2 1407.7,420.4 1408.3,420.5 1408.9,420.7 1409.5,420.8 1410.1,420.9 1410.7,421.1 1411.3,421.3 1411.9,421.5 1412.5,421.8 1413.1,422.0 1413.7,422.3 1414.3,422.5 1414.9,422.8 1415.5,423.0 1416.1,423.2 1416.7,423.4 1417.3,423.5 1417.9,423.5 1418.5,423.5 1419.1,423.5 1419.7,424.2 1420.3,425.0 1420.9,425.8 1421.5,426.5 1422.1,426.3 1422.7,426.2 1423.3,426.0 1423.9,425.8 1424.5,425.9 1425.1,426.0 1425.7,426.1 1426.3,426.2 1426.9,426.3 1427.5,426.4 1428.1,426.5 1428.7,426.5 1429.3,426.4 1429.9,426.4 1430.5,426.4 1431.1,426.4 1431.7,426.4 1432.3,426.5 1432.9,426.6 1433.5,426.7 1434.1,426.9 1434.7,427.1 1435.3,427.3 1435.9,427.2 1436.5,427.2 1437.1,427.1 1437.7,427.0 1438.3,427.4 1438.9,427.8 1439.5,428.2 1440.1,428.3 1440.7,428.0 1441.3,427.8 1441.9,427.5 1442.5,427.5 1443.1,427.8 1443.7,428.1 1444.3,428.4 1444.9,428.2 1445.5,427.8 1446.1,427.4 1446.7,426.9 1447.3,427.1 1447.9,427.3 1448.5,427.6 1449.1,427.8 1449.7,427.9 1450.3,427.9 1450.9,428.0 1451.5,428.0 1452.1,428.1 1452.7,428.2 1453.3,428.3 1453.9,428.3 1454.5,428.2 1455.1,428.1 1455.7,428.1 1456.3,427.8 1456.9,427.2 1457.5,426.6 1458.1,426.1 1458.7,425.9 1459.3,425.9 1459.9,425.9 1460.5,425.9 1461.1,426.2 1461.7,426.5 1462.3,426.9 1462.9,427.3 1463.5,426.8 1464.1,426.3 1464.7,425.9 1465.3,425.4 1465.9,425.1 1466.5,424.8 1467.1,424.5 1467.7,424.5 1468.3,425.1 1468.9,425.7 1469.5,426.4 1470.1,426.8 1470.7,426.9 1471.3,426.9 1471.9,427.0 1472.5,426.8 1473.1,426.6 1473.7,426.3 1474.3,425.9 1474.9,425.9 1475.5,426.0 1476.1,426.0 1476.7,426.0 1477.3,426.3 1477.9,426.6 1478.5,426.9 1479.1,427.0 1479.7,426.5 1480.3,426.0 1480.9,425.5 1481.5,425.1 1482.1,425.0 1482.7,424.8 1483.3,424.6 1483.9,424.5 1484.5,424.3 1485.1,424.1 1485.7,423.9 1486.3,424.0 1486.9,424.1 1487.5,424.2 1488.1,424.4 1488.7,423.7 1489.3,422.9 1489.9,422.2 1490.5,421.5 1491.1,421.8 1491.7,422.1 1492.3,422.4 1492.9,422.7 1493.5,422.5 1494.1,422.4 1494.7,422.3 1495.3,422.2 1495.9,422.2 1496.5,422.2 1497.1,422.2 1497.7,422.2 1498.3,422.1 1498.9,422.1 1499.5,422.1 1500.1,422.0 1500.7,421.8 1501.3,421.6 1501.9,421.5 1502.5,421.5 1503.1,421.6 1503.7,421.7 1504.3,421.7 1504.9,421.7 1505.5,421.5 1506.1,421.4 1506.7,421.3 1507.3,421.4 1507.9,421.4 1508.5,421.4 1509.1,421.2 1509.7,420.2 1510.3,419.3 1510.9,418.3 1511.5,418.0 1512.1,418.3 1512.7,418.6 1513.3,418.9 1513.9,418.9 1514.5,418.9 1515.1,418.8 1515.7,418.9 1516.3,418.6 1516.9,418.4 1517.5,418.1 1518.1,417.9 1518.7,418.6 1519.3,419.4 1519.9,420.1 1520.5,420.8 1521.1,420.8 1521.7,420.9 1522.3,421.0 1522.9,421.0 1523.5,420.8 1524.1,420.6 1524.7,420.5 1525.3,420.7 1525.9,421.3 1526.5,422.0 1527.1,422.6 1527.7,423.2 1528.3,423.7 1528.9,424.3 1529.5,424.8 1530.1,425.1 1530.7,425.3 1531.3,425.5 1531.9,425.7 1532.5,425.8 1533.1,426.0 1533.7,426.1 1534.3,426.2 1534.9,426.7 1535.5,427.2 1536.1,427.6 1536.7,428.0 1537.3,428.1 1537.9,428.1 1538.5,428.2 1539.1,428.1 1539.7,427.9 1540.3,427.6 1540.9,427.4 1541.5,427.3 1542.1,427.4 1542.7,427.4 1543.3,427.5 1543.9,427.7 1544.5,427.9 1545.1,428.2 1545.7,428.4 1546.3,428.3 1546.9,428.3 1547.5,428.2 1548.1,428.1 1548.7,427.7 1549.3,427.2 1549.9,426.8 1550.5,426.6 1551.1,426.6 1551.7,426.7 1552.3,426.8 1552.9,427.0 1553.5,427.4 1554.1,427.8 1554.7,428.2 1555.3,428.2 1555.9,428.0 1556.5,427.8 1557.1,427.5 1557.7,427.3 1558.3,427.0 1558.9,426.8 1559.5,426.6 1560.1,426.4 1560.7,426.2 1561.3,426.0 1561.9,425.9 1562.5,425.9 1563.1,425.9 1563.7,426.0 1564.3,425.9 1564.9,425.2 1565.5,424.0 1566.1,422.8 1566.7,421.5 1567.3,419.8 1567.9,418.2 1568.5,416.6 1569.1,415.9 1569.7,415.6 1570.3,415.4 1570.9,415.3 1571.5,414.4 1572.1,413.5 1572.7,412.5 1573.3,411.5 1573.9,410.6 1574.5,409.5 1575.1,408.0 1575.7,405.7 1576.3,403.0 1576.9,399.8 1577.5,395.2 1578.1,390.0 1578.7,386.9 1579.3,384.4 1579.9,382.4 1580.5,381.3 1581.1,381.2 1581.7,381.2 1582.3,381.3 1582.9,381.7 1583.5,382.7 1584.1,384.6 1584.7,386.8 1585.3,388.2 1585.9,388.9 1586.5,389.4 1587.1,389.9 1587.7,390.9 1588.3,392.1 1588.9,393.4 1589.5,394.6 1590.1,395.5 1590.7,396.9 1591.3,400.1 1591.9,403.9 1592.5,406.6 1593.1,408.6 1593.7,410.4 1594.3,411.9 1594.9,413.5 1595.5,415.4 1596.1,417.4 1596.7,419.6 1597.3,421.5 1597.9,422.8 1598.5,424.0 1599.1,424.7 1599.7,425.3 1600.3,425.7 1600.9,426.1 1601.5,426.8 1602.1,427.5 1602.7,428.2 1603.3,428.6 1603.9,428.5 1604.5,428.2 1605.1,427.8 1605.7,427.6 1606.3,427.9 1606.9,428.2 1607.5,428.5 1608.1,428.8 1608.7,429.1 1609.3,429.5 1609.9,429.8 1610.5,429.8 1611.1,429.8 1611.7,429.7 1612.3,429.5 1612.9,429.1 1613.5,428.6 1614.1,428.0 1614.7,427.5 1615.3,427.5 1615.9,427.4 1616.5,427.4 1617.1,427.5 1617.7,427.4 1618.3,427.4 1618.9,427.4 1619.5,427.4 1620.1,427.4 1620.7,427.3 1621.3,427.3 1621.9,427.4 1622.5,427.6 1623.1,427.8 1623.7,428.1 1624.3,428.2 1624.9,428.2 1625.5,428.3 1626.1,428.3 1626.7,427.8 1627.3,427.1 1627.9,426.4 1628.5,425.8 1629.1,426.3 1629.7,426.9 1630.3,427.5" fill="none" stroke="#000" stroke-width="2.3" stroke-linejoin="round"/>
<polyline points="1186.9,486.4 1187.5,486.7 1188.1,486.9 1188.7,487.2 1189.3,487.4 1189.9,487.3 1190.5,487.3 1191.1,487.2 1191.7,486.9 1192.3,486.2 1192.9,485.5 1193.5,484.8 1194.1,484.4 1194.7,484.4 1195.3,484.4 1195.9,484.4 1196.5,484.5 1197.1,484.7 1197.7,484.8 1198.3,485.0 1198.9,484.8 1199.5,484.5 1200.1,484.3 1200.7,484.1 1201.3,484.0 1201.9,483.9 1202.5,483.8 1203.1,483.7 1203.7,483.4 1204.3,483.1 1204.9,482.8 1205.5,482.7 1206.1,483.0 1206.7,483.3 1207.3,483.5 1207.9,483.6 1208.5,483.5 1209.1,483.3 1209.7,483.2 1210.3,483.0 1210.9,482.7 1211.5,482.4 1212.1,482.0 1212.7,481.9 1213.3,481.6 1213.9,481.0 1214.5,479.6 1215.1,477.1 1215.7,473.4 1216.3,469.0 1216.9,464.4 1217.5,460.7 1218.1,459.6 1218.7,461.4 1219.3,465.2 1219.9,469.8 1220.5,473.8 1221.1,476.8 1221.7,478.5 1222.3,479.1 1222.9,479.3 1223.5,479.1 1224.1,479.2 1224.7,479.5 1225.3,479.7 1225.9,479.9 1226.5,479.6 1227.1,479.2 1227.7,478.7 1228.3,478.0 1228.9,477.1 1229.5,475.7 1230.1,473.6 1230.7,470.9 1231.3,467.9 1231.9,465.4 1232.5,464.2 1233.1,465.0 1233.7,467.5 1234.3,470.6 1234.9,473.4 1235.5,475.3 1236.1,476.1 1236.7,476.3 1237.3,476.1 1237.9,475.7 1238.5,475.3 1239.1,474.8 1239.7,474.2 1240.3,473.7 1240.9,473.1 1241.5,472.5 1242.1,472.0 1242.7,471.5 1243.3,471.1 1243.9,470.7 1244.5,470.2 1245.1,469.5 1245.7,468.8 1246.3,468.1 1246.9,467.4 1247.5,466.6 1248.1,465.8 1248.7,465.0 1249.3,464.1 1249.9,463.1 1250.5,462.2 1251.1,461.1 1251.7,460.3 1252.3,459.5 1252.9,458.8 1253.5,457.9 1254.1,456.3 1254.7,454.5 1255.3,452.6 1255.9,450.5 1256.5,448.9 1257.1,447.1 1257.7,445.1 1258.3,442.9 1258.9,440.6 1259.5,438.1 1260.1,435.5 1260.7,432.9 1261.3,430.6 1261.9,428.3 1262.5,426.2 1263.1,424.3 1263.7,422.7 1264.3,421.5 1264.9,420.9 1265.5,420.8 1266.1,421.1 1266.7,422.2 1267.3,423.8 1267.9,425.9 1268.5,428.5 1269.1,431.4 1269.7,434.4 1270.3,437.7 1270.9,441.0 1271.5,444.2 1272.1,447.3 1272.7,450.5 1273.3,453.6 1273.9,456.4 1274.5,458.9 1275.1,461.0 1275.7,462.9 1276.3,464.6 1276.9,466.1 1277.5,467.4 1278.1,468.5 1278.7,469.5 1279.3,470.2 1279.9,470.8 1280.5,471.3 1281.1,471.6 1281.7,472.3 1282.3,473.0 1282.9,473.6 1283.5,474.3 1284.1,474.7 1284.7,475.1 1285.3,475.5 1285.9,475.9 1286.5,476.3 1287.1,476.7 1287.7,477.2 1288.3,477.6 1288.9,478.1 1289.5,478.6 1290.1,479.1 1290.7,479.5 1291.3,479.6 1291.9,479.7 1292.5,479.8 1293.1,480.0 1293.7,480.2 1294.3,480.4 1294.9,480.6 1295.5,480.6 1296.1,480.5 1296.7,480.5 1297.3,480.5 1297.9,480.7 1298.5,480.9 1299.1,481.1 1299.7,481.4 1300.3,481.7 1300.9,482.1 1301.5,482.4 1302.1,482.5 1302.7,482.3 1303.3,482.1 1303.9,481.9 1304.5,482.0 1305.1,482.4 1305.7,482.7 1306.3,483.0 1306.9,483.0 1307.5,482.9 1308.1,482.7 1308.7,482.4 1309.3,482.1 1309.9,481.7 1310.5,481.3 1311.1,480.9 1311.7,480.5 1312.3,480.2 1312.9,479.8 1313.5,479.5 1314.1,479.5 1314.7,479.5 1315.3,479.5 1315.9,479.2 1316.5,478.4 1317.1,477.7 1317.7,476.9 1318.3,476.7 1318.9,477.0 1319.5,477.3 1320.1,477.7 1320.7,477.4 1321.3,476.9 1321.9,476.4 1322.5,475.8 1323.1,476.0 1323.7,476.3 1324.3,476.7 1324.9,477.0 1325.5,477.2 1326.1,477.5 1326.7,477.7 1327.3,477.9 1327.9,478.1 1328.5,478.3 1329.1,478.4 1329.7,478.6 1330.3,478.6 1330.9,478.7 1331.5,478.7 1332.1,478.7 1332.7,478.7 1333.3,478.7 1333.9,478.7 1334.5,478.5 1335.1,478.2 1335.7,478.0 1336.3,477.7 1336.9,477.6 1337.5,477.6 1338.1,477.5 1338.7,477.5 1339.3,477.8 1339.9,478.1 1340.5,478.4 1341.1,478.6 1341.7,478.5 1342.3,478.3 1342.9,478.2 1343.5,478.0 1344.1,477.9 1344.7,477.7 1345.3,477.5 1345.9,477.4 1346.5,477.5 1347.1,477.5 1347.7,477.5 1348.3,477.5 1348.9,477.5 1349.5,477.5 1350.1,477.4 1350.7,477.6 1351.3,477.8 1351.9,478.0 1352.5,478.1 1353.1,478.0 1353.7,477.8 1354.3,477.7 1354.9,477.6 1355.5,477.6 1356.1,477.7 1356.7,477.8 1357.3,477.8 1357.9,477.5 1358.5,477.2 1359.1,476.9 1359.7,476.9 1360.3,477.0 1360.9,477.1 1361.5,477.2 1362.1,477.3 1362.7,477.4 1363.3,477.5 1363.9,477.6 1364.5,477.4 1365.1,477.3 1365.7,477.1 1366.3,476.9 1366.9,477.1 1367.5,477.3 1368.1,477.5 1368.7,477.6 1369.3,477.4 1369.9,477.2 1370.5,477.0 1371.1,476.9 1371.7,477.0 1372.3,477.1 1372.9,477.2 1373.5,477.3 1374.1,477.3 1374.7,477.3 1375.3,477.4 1375.9,477.3 1376.5,477.1 1377.1,477.0 1377.7,476.8 1378.3,477.1 1378.9,477.5 1379.5,477.8 1380.1,478.2 1380.7,478.0 1381.3,477.8 1381.9,477.6 1382.5,477.4 1383.1,477.5 1383.7,477.6 1384.3,477.7 1384.9,477.8 1385.5,477.9 1386.1,478.0 1386.7,478.1 1387.3,478.1 1387.9,478.1 1388.5,478.0 1389.1,477.9 1389.7,477.9 1390.3,477.8 1390.9,477.8 1391.5,477.7 1392.1,477.5 1392.7,477.2 1393.3,477.0 1393.9,476.8 1394.5,476.7 1395.1,476.6 1395.7,476.6 1396.3,476.6 1396.9,476.7 1397.5,476.9 1398.1,477.0 1398.7,477.0 1399.3,476.8 1399.9,476.6 1400.5,476.3 1401.1,476.3 1401.7,476.4 1402.3,476.6 1402.9,476.7 1403.5,476.8 1404.1,476.9 1404.7,477.0 1405.3,477.1 1405.9,477.2 1406.5,477.4 1407.1,477.5 1407.7,477.7 1408.3,478.1 1408.9,478.5 1409.5,478.9 1410.1,479.2 1410.7,479.1 1411.3,478.9 1411.9,478.9 1412.5,479.0 1413.1,479.3 1413.7,479.7 1414.3,480.2 1414.9,480.7 1415.5,481.4 1416.1,482.1 1416.7,482.7 1417.3,482.9 1417.9,482.8 1418.5,482.7 1419.1,482.5 1419.7,482.8 1420.3,483.1 1420.9,483.5 1421.5,483.9 1422.1,483.7 1422.7,483.4 1423.3,483.2 1423.9,483.1 1424.5,483.3 1425.1,483.6 1425.7,483.8 1426.3,484.0 1426.9,483.9 1427.5,483.9 1428.1,483.7 1428.7,483.7 1429.3,483.8 1429.9,483.9 1430.5,483.9 1431.1,484.1 1431.7,484.3 1432.3,484.4 1432.9,484.7 1433.5,484.2 1434.1,483.7 1434.7,483.3 1435.3,482.9 1435.9,483.4 1436.5,484.0 1437.1,484.6 1437.7,485.1 1438.3,485.2 1438.9,485.3 1439.5,485.3 1440.1,485.4 1440.7,485.3 1441.3,485.2 1441.9,485.1 1442.5,485.0 1443.1,484.8 1443.7,484.7 1444.3,484.5 1444.9,484.6 1445.5,484.8 1446.1,485.0 1446.7,485.3 1447.3,485.1 1447.9,484.9 1448.5,484.7 1449.1,484.4 1449.7,484.5 1450.3,484.6 1450.9,484.7 1451.5,484.8 1452.1,484.8 1452.7,484.7 1453.3,484.7 1453.9,484.8 1454.5,485.1 1455.1,485.4 1455.7,485.8 1456.3,485.8 1456.9,485.4 1457.5,485.0 1458.1,484.6 1458.7,484.4 1459.3,484.2 1459.9,484.0 1460.5,483.8 1461.1,484.0 1461.7,484.2 1462.3,484.5 1462.9,484.7 1463.5,484.7 1464.1,484.7 1464.7,484.6 1465.3,484.6 1465.9,484.8 1466.5,485.1 1467.1,485.3 1467.7,485.3 1468.3,485.2 1468.9,485.1 1469.5,484.9 1470.1,484.8 1470.7,484.7 1471.3,484.5 1471.9,484.4 1472.5,484.5 1473.1,484.6 1473.7,484.8 1474.3,485.0 1474.9,484.4 1475.5,483.8 1476.1,483.0 1476.7,482.3 1477.3,482.2 1477.9,482.1 1478.5,481.9 1479.1,481.7 1479.7,481.4 1480.3,481.1 1480.9,480.8 1481.5,480.6 1482.1,480.6 1482.7,480.5 1483.3,480.5 1483.9,480.4 1484.5,480.1 1485.1,479.8 1485.7,479.5 1486.3,479.6 1486.9,479.9 1487.5,480.2 1488.1,480.6 1488.7,480.4 1489.3,480.1 1489.9,479.8 1490.5,479.6 1491.1,479.2 1491.7,478.8 1492.3,478.4 1492.9,478.0 1493.5,477.9 1494.1,477.8 1494.7,477.7 1495.3,477.7 1495.9,477.7 1496.5,477.8 1497.1,477.9 1497.7,478.0 1498.3,477.9 1498.9,477.9 1499.5,478.0 1500.1,478.2 1500.7,478.5 1501.3,478.7 1501.9,479.1 1502.5,479.3 1503.1,479.6 1503.7,479.9 1504.3,480.2 1504.9,479.7 1505.5,479.3 1506.1,478.8 1506.7,478.3 1507.3,477.9 1507.9,477.5 1508.5,477.2 1509.1,476.8 1509.7,476.5 1510.3,476.1 1510.9,475.8 1511.5,475.8 1512.1,476.2 1512.7,476.6 1513.3,477.0 1513.9,477.0 1514.5,476.7 1515.1,476.5 1515.7,476.2 1516.3,476.3 1516.9,476.4 1517.5,476.5 1518.1,476.6 1518.7,476.7 1519.3,476.9 1519.9,477.1 1520.5,477.4 1521.1,477.8 1521.7,478.3 1522.3,478.8 1522.9,479.3 1523.5,480.0 1524.1,480.7 1524.7,481.4 1525.3,481.8 1525.9,482.0 1526.5,482.3 1527.1,482.4 1527.7,482.7 1528.3,482.9 1528.9,483.1 1529.5,483.3 1530.1,483.3 1530.7,483.3 1531.3,483.2 1531.9,483.0 1532.5,482.9 1533.1,482.9 1533.7,482.8 1534.3,482.8 1534.9,483.1 1535.5,483.4 1536.1,483.7 1536.7,484.0 1537.3,484.1 1537.9,484.2 1538.5,484.3 1539.1,484.6 1539.7,484.9 1540.3,485.2 1540.9,485.5 1541.5,485.3 1542.1,484.8 1542.7,484.4 1543.3,483.9 1543.9,483.8 1544.5,483.9 1545.1,484.0 1545.7,484.1 1546.3,483.7 1546.9,483.4 1547.5,483.1 1548.1,482.8 1548.7,482.7 1549.3,482.5 1549.9,482.4 1550.5,482.3 1551.1,482.4 1551.7,482.5 1552.3,482.5 1552.9,482.6 1553.5,482.7 1554.1,482.7 1554.7,482.8 1555.3,483.3 1555.9,484.0 1556.5,484.7 1557.1,485.6 1557.7,485.4 1558.3,485.0 1558.9,484.7 1559.5,484.3 1560.1,484.9 1560.7,485.4 1561.3,485.9 1561.9,486.3 1562.5,485.9 1563.1,485.5 1563.7,485.0 1564.3,484.6 1564.9,483.9 1565.5,482.7 1566.1,481.5 1566.7,480.2 1567.3,478.8 1567.9,477.4 1568.5,476.0 1569.1,474.7 1569.7,473.5 1570.3,472.3 1570.9,471.3 1571.5,470.6 1572.1,469.9 1572.7,469.2 1573.3,468.5 1573.9,467.4 1574.5,466.2 1575.1,464.5 1575.7,462.1 1576.3,459.4 1576.9,456.4 1577.5,451.9 1578.1,446.8 1578.7,443.7 1579.3,441.2 1579.9,439.3 1580.5,438.3 1581.1,438.3 1581.7,438.5 1582.3,438.8 1582.9,439.3 1583.5,440.5 1584.1,442.5 1584.7,444.7 1585.3,446.7 1585.9,448.1 1586.5,449.2 1587.1,450.2 1587.7,451.2 1588.3,452.4 1588.9,453.7 1589.5,455.0 1590.1,456.1 1590.7,457.6 1591.3,460.9 1591.9,464.5 1592.5,466.5 1593.1,467.9 1593.7,469.1 1594.3,470.5 1594.9,472.5 1595.5,474.8 1596.1,477.1 1596.7,479.1 1597.3,480.6 1597.9,481.5 1598.5,482.2 1599.1,482.4 1599.7,482.5 1600.3,482.5 1600.9,482.4 1601.5,482.5 1602.1,482.6 1602.7,482.7 1603.3,483.0 1603.9,483.5 1604.5,484.0 1605.1,484.4 1605.7,484.6 1606.3,484.5 1606.9,484.4 1607.5,484.3 1608.1,484.4 1608.7,484.7 1609.3,485.0 1609.9,485.3 1610.5,485.2 1611.1,485.0 1611.7,484.8 1612.3,484.5 1612.9,484.3 1613.5,484.0 1614.1,483.7 1614.7,483.5 1615.3,483.5 1615.9,483.5 1616.5,483.5 1617.1,483.7 1617.7,484.4 1618.3,485.1 1618.9,485.8 1619.5,486.3 1620.1,486.5 1620.7,486.6 1621.3,486.8 1621.9,486.8 1622.5,486.6 1623.1,486.3 1623.7,486.1 1624.3,486.1 1624.9,486.2 1625.5,486.3 1626.1,486.3 1626.7,486.8 1627.3,487.2 1627.9,487.6 1628.5,487.9 1629.1,487.3 1629.7,486.6 1630.3,485.9" fill="none" stroke="#000" stroke-width="2.3" stroke-linejoin="round"/>
<polyline points="1186.9,551.0 1187.5,550.6 1188.1,550.1 1188.7,549.6 1189.3,549.1 1189.9,548.8 1190.5,548.4 1191.1,548.1 1191.7,547.7 1192.3,547.1 1192.9,546.6 1193.5,546.2 1194.1,546.1 1194.7,546.6 1195.3,547.0 1195.9,547.5 1196.5,547.4 1197.1,547.1 1197.7,546.8 1198.3,546.4 1198.9,546.3 1199.5,546.3 1200.1,546.2 1200.7,546.2 1201.3,545.9 1201.9,545.6 1202.5,545.3 1203.1,545.0 1203.7,545.4 1204.3,545.7 1204.9,546.0 1205.5,546.1 1206.1,545.9 1206.7,545.8 1207.3,545.6 1207.9,545.3 1208.5,545.0 1209.1,544.6 1209.7,544.3 1210.3,544.0 1210.9,543.8 1211.5,543.6 1212.1,543.3 1212.7,543.1 1213.3,542.7 1213.9,541.9 1214.5,540.5 1215.1,538.1 1215.7,534.7 1216.3,530.5 1216.9,526.2 1217.5,523.2 1218.1,522.6 1218.7,524.8 1219.3,528.6 1219.9,532.5 1220.5,535.9 1221.1,538.2 1221.7,539.8 1222.3,540.7 1222.9,541.1 1223.5,541.3 1224.1,541.0 1224.7,540.5 1225.3,540.0 1225.9,539.5 1226.5,539.2 1227.1,539.0 1227.7,538.7 1228.3,538.3 1228.9,537.9 1229.5,537.0 1230.1,535.6 1230.7,533.4 1231.3,530.4 1231.9,527.7 1232.5,526.3 1233.1,526.6 1233.7,528.5 1234.3,530.8 1234.9,533.0 1235.5,534.8 1236.1,536.3 1236.7,537.3 1237.3,538.0 1237.9,537.8 1238.5,537.1 1239.1,536.4 1239.7,535.6 1240.3,535.5 1240.9,535.6 1241.5,535.6 1242.1,535.5 1242.7,535.0 1243.3,534.5 1243.9,533.9 1244.5,533.2 1245.1,532.1 1245.7,531.1 1246.3,530.0 1246.9,528.9 1247.5,528.0 1248.1,527.0 1248.7,526.1 1249.3,524.9 1249.9,523.6 1250.5,522.4 1251.1,521.1 1251.7,520.5 1252.3,520.3 1252.9,520.1 1253.5,519.8 1254.1,519.0 1254.7,517.9 1255.3,516.8 1255.9,515.5 1256.5,513.8 1257.1,511.8 1257.7,509.6 1258.3,507.4 1258.9,505.8 1259.5,504.0 1260.1,502.1 1260.7,499.5 1261.3,496.1 1261.9,492.8 1262.5,489.5 1263.1,486.9 1263.7,484.9 1264.3,483.3 1264.9,482.4 1265.5,482.2 1266.1,482.8 1266.7,484.0 1267.3,485.8 1267.9,488.5 1268.5,491.7 1269.1,495.2 1269.7,498.8 1270.3,502.2 1270.9,505.7 1271.5,509.0 1272.1,512.3 1272.7,515.3 1273.3,518.1 1273.9,520.7 1274.5,523.1 1275.1,525.0 1275.7,526.7 1276.3,528.2 1276.9,529.5 1277.5,530.7 1278.1,531.6 1278.7,532.5 1279.3,533.4 1279.9,534.4 1280.5,535.3 1281.1,536.2 1281.7,536.3 1282.3,536.3 1282.9,536.3 1283.5,536.2 1284.1,536.5 1284.7,536.7 1285.3,537.0 1285.9,537.3 1286.5,538.2 1287.1,539.0 1287.7,539.9 1288.3,540.4 1288.9,540.5 1289.5,540.4 1290.1,540.4 1290.7,540.5 1291.3,540.7 1291.9,541.0 1292.5,541.2 1293.1,541.5 1293.7,541.9 1294.3,542.2 1294.9,542.5 1295.5,542.7 1296.1,542.8 1296.7,542.9 1297.3,543.0 1297.9,543.4 1298.5,543.8 1299.1,544.2 1299.7,544.5 1300.3,545.1 1300.9,545.6 1301.5,546.0 1302.1,546.1 1302.7,545.9 1303.3,545.6 1303.9,545.3 1304.5,545.2 1305.1,545.3 1305.7,545.4 1306.3,545.4 1306.9,545.3 1307.5,545.0 1308.1,544.7 1308.7,544.4 1309.3,543.9 1309.9,543.5 1310.5,543.0 1311.1,542.5 1311.7,542.7 1312.3,542.8 1312.9,543.0 1313.5,543.0 1314.1,542.3 1314.7,541.5 1315.3,540.8 1315.9,540.3 1316.5,540.2 1317.1,540.2 1317.7,540.2 1318.3,540.0 1318.9,539.7 1319.5,539.3 1320.1,539.0 1320.7,539.0 1321.3,539.0 1321.9,539.1 1322.5,539.3 1323.1,538.9 1323.7,538.5 1324.3,538.1 1324.9,537.7 1325.5,538.1 1326.1,538.5 1326.7,538.9 1327.3,539.3 1327.9,539.7 1328.5,540.1 1329.1,540.5 1329.7,540.9 1330.3,541.2 1330.9,541.5 1331.5,541.8 1332.1,542.1 1332.7,542.5 1333.3,542.8 1333.9,543.1 1334.5,543.2 1335.1,543.2 1335.7,543.2 1336.3,543.3 1336.9,543.4 1337.5,543.5 1338.1,543.6 1338.7,543.8 1339.3,544.2 1339.9,544.7 1340.5,545.2 1341.1,545.7 1341.7,546.2 1342.3,546.6 1342.9,547.1 1343.5,547.3 1344.1,546.8 1344.7,546.2 1345.3,545.7 1345.9,545.5 1346.5,545.9 1347.1,546.2 1347.7,546.4 1348.3,546.6 1348.9,546.7 1349.5,546.8 1350.1,546.9 1350.7,546.7 1351.3,546.4 1351.9,546.2 1352.5,546.0 1353.1,546.2 1353.7,546.4 1354.3,546.6 1354.9,546.7 1355.5,546.3 1356.1,546.0 1356.7,545.7 1357.3,545.5 1357.9,545.4 1358.5,545.4 1359.1,545.3 1359.7,545.6 1360.3,546.1 1360.9,546.5 1361.5,547.0 1362.1,546.6 1362.7,545.8 1363.3,545.0 1363.9,544.1 1364.5,544.3 1365.1,544.7 1365.7,545.0 1366.3,545.3 1366.9,545.7 1367.5,546.2 1368.1,546.6 1368.7,546.9 1369.3,546.3 1369.9,545.6 1370.5,545.1 1371.1,544.7 1371.7,544.7 1372.3,544.8 1372.9,544.9 1373.5,544.8 1374.1,544.6 1374.7,544.4 1375.3,544.3 1375.9,544.4 1376.5,544.6 1377.1,544.9 1377.7,545.1 1378.3,545.1 1378.9,545.0 1379.5,544.9 1380.1,544.7 1380.7,544.8 1381.3,544.9 1381.9,545.0 1382.5,544.8 1383.1,543.8 1383.7,542.8 1384.3,541.9 1384.9,541.0 1385.5,540.4 1386.1,539.8 1386.7,539.3 1387.3,539.4 1387.9,540.1 1388.5,540.9 1389.1,541.7 1389.7,542.3 1390.3,542.8 1390.9,543.3 1391.5,543.7 1392.1,543.6 1392.7,543.4 1393.3,543.1 1393.9,542.8 1394.5,542.6 1395.1,542.4 1395.7,542.1 1396.3,541.9 1396.9,542.0 1397.5,542.1 1398.1,542.3 1398.7,542.4 1399.3,542.7 1399.9,543.0 1400.5,543.3 1401.1,543.3 1401.7,543.1 1402.3,542.9 1402.9,542.7 1403.5,542.7 1404.1,542.9 1404.7,543.0 1405.3,543.2 1405.9,542.8 1406.5,542.3 1407.1,541.9 1407.7,541.4 1408.3,541.8 1408.9,542.3 1409.5,542.7 1410.1,543.2 1410.7,543.6 1411.3,543.9 1411.9,544.4 1412.5,544.7 1413.1,544.7 1413.7,544.7 1414.3,544.7 1414.9,544.8 1415.5,544.9 1416.1,545.0 1416.7,545.1 1417.3,545.6 1417.9,546.3 1418.5,546.9 1419.1,547.4 1419.7,547.5 1420.3,547.5 1420.9,547.4 1421.5,547.3 1422.1,546.8 1422.7,546.4 1423.3,545.9 1423.9,545.5 1424.5,545.3 1425.1,545.1 1425.7,545.0 1426.3,545.1 1426.9,545.6 1427.5,546.1 1428.1,546.7 1428.7,546.9 1429.3,546.6 1429.9,546.5 1430.5,546.3 1431.1,546.4 1431.7,546.7 1432.3,547.0 1432.9,547.2 1433.5,547.8 1434.1,548.3 1434.7,548.9 1435.3,549.4 1435.9,549.2 1436.5,549.0 1437.1,548.7 1437.7,548.5 1438.3,548.5 1438.9,548.4 1439.5,548.4 1440.1,548.2 1440.7,548.0 1441.3,547.7 1441.9,547.4 1442.5,547.5 1443.1,547.9 1443.7,548.3 1444.3,548.6 1444.9,548.7 1445.5,548.7 1446.1,548.6 1446.7,548.5 1447.3,548.3 1447.9,548.1 1448.5,547.9 1449.1,547.7 1449.7,548.0 1450.3,548.2 1450.9,548.5 1451.5,548.6 1452.1,548.0 1452.7,547.4 1453.3,546.8 1453.9,546.4 1454.5,546.2 1455.1,546.0 1455.7,545.8 1456.3,545.8 1456.9,545.8 1457.5,545.9 1458.1,546.0 1458.7,546.1 1459.3,546.1 1459.9,546.3 1460.5,546.4 1461.1,546.2 1461.7,545.8 1462.3,545.5 1462.9,545.2 1463.5,545.3 1464.1,545.4 1464.7,545.5 1465.3,545.5 1465.9,545.6 1466.5,545.6 1467.1,545.6 1467.7,545.6 1468.3,545.6 1468.9,545.6 1469.5,545.6 1470.1,545.5 1470.7,545.2 1471.3,544.9 1471.9,544.6 1472.5,544.6 1473.1,544.8 1473.7,545.0 1474.3,545.2 1474.9,544.6 1475.5,543.9 1476.1,543.1 1476.7,542.4 1477.3,542.9 1477.9,543.3 1478.5,543.8 1479.1,544.1 1479.7,543.8 1480.3,543.5 1480.9,543.2 1481.5,543.1 1482.1,543.2 1482.7,543.4 1483.3,543.5 1483.9,543.7 1484.5,543.9 1485.1,544.1 1485.7,544.3 1486.3,544.0 1486.9,543.5 1487.5,543.0 1488.1,542.4 1488.7,542.3 1489.3,542.3 1489.9,542.2 1490.5,542.2 1491.1,542.2 1491.7,542.3 1492.3,542.5 1492.9,542.5 1493.5,542.1 1494.1,541.7 1494.7,541.3 1495.3,541.2 1495.9,541.7 1496.5,542.2 1497.1,542.6 1497.7,542.9 1498.3,542.9 1498.9,542.9 1499.5,542.8 1500.1,542.6 1500.7,542.3 1501.3,542.0 1501.9,541.7 1502.5,541.7 1503.1,541.8 1503.7,541.8 1504.3,541.9 1504.9,541.7 1505.5,541.5 1506.1,541.3 1506.7,541.1 1507.3,540.9 1507.9,540.7 1508.5,540.6 1509.1,540.5 1509.7,540.5 1510.3,540.6 1510.9,540.6 1511.5,540.9 1512.1,541.5 1512.7,542.2 1513.3,542.7 1513.9,543.1 1514.5,543.3 1515.1,543.5 1515.7,543.6 1516.3,543.1 1516.9,542.5 1517.5,541.9 1518.1,541.3 1518.7,541.5 1519.3,541.7 1519.9,541.9 1520.5,542.1 1521.1,541.8 1521.7,541.6 1522.3,541.4 1522.9,541.3 1523.5,541.6 1524.1,542.0 1524.7,542.3 1525.3,542.5 1525.9,542.7 1526.5,542.8 1527.1,543.0 1527.7,543.1 1528.3,543.2 1528.9,543.3 1529.5,543.4 1530.1,543.9 1530.7,544.4 1531.3,545.0 1531.9,545.6 1532.5,546.3 1533.1,547.0 1533.7,547.6 1534.3,548.3 1534.9,548.6 1535.5,549.0 1536.1,549.3 1536.7,549.5 1537.3,549.5 1537.9,549.5 1538.5,549.5 1539.1,549.6 1539.7,550.0 1540.3,550.4 1540.9,550.7 1541.5,550.5 1542.1,550.1 1542.7,549.7 1543.3,549.3 1543.9,549.4 1544.5,549.6 1545.1,549.8 1545.7,550.0 1546.3,549.3 1546.9,548.6 1547.5,547.9 1548.1,547.5 1548.7,548.4 1549.3,549.4 1549.9,550.3 1550.5,550.7 1551.1,550.1 1551.7,549.4 1552.3,548.8 1552.9,548.4 1553.5,548.2 1554.1,548.0 1554.7,547.9 1555.3,547.8 1555.9,547.8 1556.5,547.9 1557.1,547.9 1557.7,548.3 1558.3,548.7 1558.9,549.1 1559.5,549.6 1560.1,549.6 1560.7,549.5 1561.3,549.5 1561.9,549.5 1562.5,549.4 1563.1,549.4 1563.7,549.2 1564.3,549.0 1564.9,548.0 1565.5,546.6 1566.1,545.1 1566.7,543.7 1567.3,542.2 1567.9,540.7 1568.5,539.3 1569.1,538.2 1569.7,537.4 1570.3,536.6 1570.9,536.0 1571.5,534.9 1572.1,533.8 1572.7,532.7 1573.3,531.5 1573.9,530.9 1574.5,530.2 1575.1,529.0 1575.7,527.1 1576.3,524.5 1576.9,521.6 1577.5,517.3 1578.1,512.3 1578.7,508.8 1579.3,506.0 1579.9,503.7 1580.5,503.0 1581.1,503.8 1581.7,504.9 1582.3,506.0 1582.9,506.5 1583.5,507.2 1584.1,508.8 1584.7,510.5 1585.3,511.6 1585.9,511.9 1586.5,512.1 1587.1,512.2 1587.7,513.3 1588.3,514.5 1588.9,515.8 1589.5,517.2 1590.1,518.5 1590.7,520.3 1591.3,523.8 1591.9,527.5 1592.5,529.4 1593.1,530.7 1593.7,531.8 1594.3,533.2 1594.9,535.2 1595.5,537.6 1596.1,540.0 1596.7,542.0 1597.3,543.3 1597.9,544.1 1598.5,544.7 1599.1,545.4 1599.7,546.0 1600.3,546.6 1600.9,547.0 1601.5,547.6 1602.1,548.1 1602.7,548.6 1603.3,548.9 1603.9,549.2 1604.5,549.3 1605.1,549.3 1605.7,549.3 1606.3,549.2 1606.9,549.2 1607.5,549.2 1608.1,549.2 1608.7,549.2 1609.3,549.2 1609.9,549.2 1610.5,549.3 1611.1,549.4 1611.7,549.5 1612.3,549.7 1612.9,549.8 1613.5,549.9 1614.1,550.0 1614.7,550.1 1615.3,549.9 1615.9,549.6 1616.5,549.4 1617.1,549.2 1617.7,549.4 1618.3,549.6 1618.9,549.8 1619.5,550.0 1620.1,550.5 1620.7,551.0 1621.3,551.5 1621.9,551.7 1622.5,551.7 1623.1,551.8 1623.7,551.8 1624.3,551.6 1624.9,551.4 1625.5,551.3 1626.1,551.1 1626.7,551.0 1627.3,550.9 1627.9,550.8 1628.5,550.7 1629.1,551.0 1629.7,551.3 1630.3,551.6" fill="none" stroke="#000" stroke-width="2.3" stroke-linejoin="round"/>
<polyline points="1186.9,614.1 1187.5,614.0 1188.1,614.0 1188.7,614.0 1189.3,614.1 1189.9,614.3 1190.5,614.6 1191.1,614.8 1191.7,615.0 1192.3,615.0 1192.9,615.0 1193.5,614.9 1194.1,614.8 1194.7,614.7 1195.3,614.5 1195.9,614.3 1196.5,614.1 1197.1,613.7 1197.7,613.4 1198.3,613.1 1198.9,612.8 1199.5,612.5 1200.1,612.3 1200.7,612.0 1201.3,612.1 1201.9,612.3 1202.5,612.4 1203.1,612.5 1203.7,612.1 1204.3,611.7 1204.9,611.3 1205.5,610.9 1206.1,610.9 1206.7,610.9 1207.3,610.9 1207.9,610.6 1208.5,610.2 1209.1,609.8 1209.7,609.4 1210.3,609.0 1210.9,608.6 1211.5,608.2 1212.1,607.9 1212.7,607.8 1213.3,607.7 1213.9,607.2 1214.5,606.3 1215.1,604.6 1215.7,602.1 1216.3,599.0 1216.9,595.7 1217.5,593.1 1218.1,592.4 1218.7,593.8 1219.3,596.6 1219.9,599.6 1220.5,602.2 1221.1,604.0 1221.7,605.2 1222.3,606.1 1222.9,606.5 1223.5,606.7 1224.1,606.7 1224.7,606.5 1225.3,606.4 1225.9,606.2 1226.5,606.1 1227.1,606.1 1227.7,605.9 1228.3,605.7 1228.9,605.1 1229.5,604.1 1230.1,602.7 1230.7,600.9 1231.3,598.6 1231.9,596.6 1232.5,595.5 1233.1,595.9 1233.7,597.5 1234.3,599.4 1234.9,601.2 1235.5,602.5 1236.1,603.5 1236.7,604.0 1237.3,604.2 1237.9,603.7 1238.5,602.9 1239.1,602.0 1239.7,601.1 1240.3,601.0 1240.9,601.0 1241.5,600.9 1242.1,600.9 1242.7,599.9 1243.3,599.0 1243.9,598.1 1244.5,597.3 1245.1,596.8 1245.7,596.3 1246.3,595.8 1246.9,595.4 1247.5,595.2 1248.1,595.0 1248.7,594.9 1249.3,594.3 1249.9,593.5 1250.5,592.6 1251.1,591.7 1251.7,591.1 1252.3,590.5 1252.9,590.0 1253.5,589.5 1254.1,589.1 1254.7,588.6 1255.3,588.2 1255.9,587.6 1256.5,586.7 1257.1,585.6 1257.7,584.4 1258.3,583.0 1258.9,581.4 1259.5,579.7 1260.1,577.7 1260.7,575.7 1261.3,573.8 1261.9,571.8 1262.5,569.8 1263.1,567.9 1263.7,566.3 1264.3,564.8 1264.9,563.7 1265.5,562.5 1266.1,561.5 1266.7,561.1 1267.3,561.2 1267.9,562.0 1268.5,563.3 1269.1,564.9 1269.7,567.0 1270.3,569.3 1270.9,571.8 1271.5,574.4 1272.1,577.0 1272.7,579.7 1273.3,582.3 1273.9,584.7 1274.5,587.0 1275.1,589.0 1275.7,590.8 1276.3,592.5 1276.9,593.8 1277.5,594.9 1278.1,595.8 1278.7,596.6 1279.3,597.7 1279.9,598.9 1280.5,600.0 1281.1,601.1 1281.7,601.7 1282.3,602.2 1282.9,602.7 1283.5,603.1 1284.1,603.9 1284.7,604.6 1285.3,605.3 1285.9,605.8 1286.5,605.6 1287.1,605.5 1287.7,605.3 1288.3,605.3 1288.9,605.8 1289.5,606.3 1290.1,606.8 1290.7,607.0 1291.3,606.7 1291.9,606.4 1292.5,606.1 1293.1,606.3 1293.7,606.9 1294.3,607.4 1294.9,607.9 1295.5,608.0 1296.1,608.0 1296.7,608.0 1297.3,607.9 1297.9,608.1 1298.5,608.3 1299.1,608.4 1299.7,608.6 1300.3,609.2 1300.9,609.7 1301.5,610.2 1302.1,610.5 1302.7,610.3 1303.3,610.1 1303.9,609.8 1304.5,609.9 1305.1,610.2 1305.7,610.5 1306.3,610.8 1306.9,610.8 1307.5,610.8 1308.1,610.8 1308.7,610.7 1309.3,610.9 1309.9,611.2 1310.5,611.5 1311.1,611.7 1311.7,611.5 1312.3,611.4 1312.9,611.1 1313.5,610.8 1314.1,610.0 1314.7,609.2 1315.3,608.3 1315.9,607.8 1316.5,608.1 1317.1,608.4 1317.7,608.7 1318.3,608.5 1318.9,608.0 1319.5,607.5 1320.1,607.0 1320.7,607.1 1321.3,607.4 1321.9,607.9 1322.5,608.3 1323.1,608.2 1323.7,608.0 1324.3,607.8 1324.9,607.5 1325.5,607.6 1326.1,607.6 1326.7,607.6 1327.3,607.5 1327.9,606.8 1328.5,606.2 1329.1,605.5 1329.7,605.3 1330.3,606.2 1330.9,607.1 1331.5,607.9 1332.1,608.0 1332.7,607.5 1333.3,607.0 1333.9,606.4 1334.5,605.8 1335.1,605.3 1335.7,604.7 1336.3,604.2 1336.9,604.2 1337.5,604.4 1338.1,604.6 1338.7,604.9 1339.3,605.2 1339.9,605.5 1340.5,605.8 1341.1,606.1 1341.7,605.8 1342.3,605.5 1342.9,605.1 1343.5,605.2 1344.1,606.0 1344.7,606.8 1345.3,607.6 1345.9,607.9 1346.5,607.7 1347.1,607.4 1347.7,607.2 1348.3,607.0 1348.9,606.9 1349.5,606.8 1350.1,606.6 1350.7,606.6 1351.3,606.5 1351.9,606.4 1352.5,606.4 1353.1,606.2 1353.7,606.1 1354.3,606.0 1354.9,606.0 1355.5,606.2 1356.1,606.5 1356.7,606.8 1357.3,607.1 1357.9,607.3 1358.5,607.5 1359.1,607.6 1359.7,607.9 1360.3,608.2 1360.9,608.5 1361.5,608.8 1362.1,609.0 1362.7,609.1 1363.3,609.2 1363.9,609.3 1364.5,609.0 1365.1,608.6 1365.7,608.2 1366.3,607.8 1366.9,608.0 1367.5,608.2 1368.1,608.4 1368.7,608.5 1369.3,608.0 1369.9,607.5 1370.5,607.0 1371.1,606.9 1371.7,607.3 1372.3,607.7 1372.9,608.1 1373.5,608.2 1374.1,607.9 1374.7,607.6 1375.3,607.3 1375.9,607.3 1376.5,607.5 1377.1,607.6 1377.7,607.8 1378.3,608.0 1378.9,608.3 1379.5,608.5 1380.1,608.8 1380.7,608.5 1381.3,608.1 1381.9,607.8 1382.5,607.5 1383.1,607.7 1383.7,607.8 1384.3,608.0 1384.9,608.0 1385.5,607.5 1386.1,607.0 1386.7,606.6 1387.3,606.4 1387.9,606.5 1388.5,606.6 1389.1,606.7 1389.7,606.9 1390.3,607.1 1390.9,607.3 1391.5,607.5 1392.1,607.7 1392.7,607.9 1393.3,608.1 1393.9,608.3 1394.5,607.7 1395.1,607.2 1395.7,606.7 1396.3,606.4 1396.9,607.0 1397.5,607.7 1398.1,608.3 1398.7,608.7 1399.3,608.6 1399.9,608.5 1400.5,608.3 1401.1,608.5 1401.7,609.0 1402.3,609.5 1402.9,610.0 1403.5,609.9 1404.1,609.4 1404.7,608.9 1405.3,608.5 1405.9,608.4 1406.5,608.4 1407.1,608.5 1407.7,608.5 1408.3,608.7 1408.9,608.9 1409.5,609.1 1410.1,609.2 1410.7,608.9 1411.3,608.7 1411.9,608.4 1412.5,608.3 1413.1,608.5 1413.7,608.8 1414.3,609.0 1414.9,609.1 1415.5,609.0 1416.1,609.0 1416.7,608.9 1417.3,609.1 1417.9,609.4 1418.5,609.7 1419.1,610.0 1419.7,609.9 1420.3,609.7 1420.9,609.5 1421.5,609.3 1422.1,609.0 1422.7,608.7 1423.3,608.4 1423.9,608.1 1424.5,608.1 1425.1,608.1 1425.7,608.1 1426.3,608.1 1426.9,608.2 1427.5,608.3 1428.1,608.4 1428.7,608.3 1429.3,608.0 1429.9,607.8 1430.5,607.5 1431.1,607.4 1431.7,607.3 1432.3,607.3 1432.9,607.2 1433.5,607.9 1434.1,608.8 1434.7,609.6 1435.3,610.5 1435.9,609.9 1436.5,609.4 1437.1,608.8 1437.7,608.4 1438.3,608.9 1438.9,609.4 1439.5,609.8 1440.1,610.0 1440.7,609.7 1441.3,609.3 1441.9,608.9 1442.5,608.8 1443.1,608.8 1443.7,608.9 1444.3,608.9 1444.9,608.7 1445.5,608.3 1446.1,607.9 1446.7,607.5 1447.3,607.9 1447.9,608.4 1448.5,608.9 1449.1,609.4 1449.7,609.0 1450.3,608.6 1450.9,608.2 1451.5,608.1 1452.1,608.5 1452.7,609.0 1453.3,609.4 1453.9,609.6 1454.5,609.2 1455.1,608.7 1455.7,608.3 1456.3,608.3 1456.9,608.8 1457.5,609.2 1458.1,609.7 1458.7,609.9 1459.3,609.9 1459.9,609.9 1460.5,609.9 1461.1,609.3 1461.7,608.6 1462.3,607.9 1462.9,607.2 1463.5,607.4 1464.1,607.7 1464.7,608.0 1465.3,608.2 1465.9,607.9 1466.5,607.5 1467.1,607.2 1467.7,607.1 1468.3,607.1 1468.9,607.1 1469.5,607.2 1470.1,607.5 1470.7,607.8 1471.3,608.2 1471.9,608.6 1472.5,608.9 1473.1,609.1 1473.7,609.3 1474.3,609.5 1474.9,609.6 1475.5,609.7 1476.1,609.8 1476.7,609.9 1477.3,609.5 1477.9,609.2 1478.5,608.8 1479.1,608.5 1479.7,608.7 1480.3,609.0 1480.9,609.2 1481.5,609.3 1482.1,609.2 1482.7,609.1 1483.3,608.9 1483.9,608.8 1484.5,608.7 1485.1,608.5 1485.7,608.4 1486.3,608.2 1486.9,608.0 1487.5,607.8 1488.1,607.6 1488.7,607.8 1489.3,607.9 1489.9,608.1 1490.5,608.3 1491.1,609.0 1491.7,609.8 1492.3,610.5 1492.9,611.0 1493.5,610.1 1494.1,609.2 1494.7,608.3 1495.3,607.8 1495.9,608.0 1496.5,608.2 1497.1,608.3 1497.7,608.3 1498.3,608.2 1498.9,608.0 1499.5,607.8 1500.1,608.0 1500.7,608.4 1501.3,608.8 1501.9,609.2 1502.5,609.3 1503.1,609.3 1503.7,609.3 1504.3,609.3 1504.9,609.1 1505.5,608.9 1506.1,608.7 1506.7,608.5 1507.3,608.5 1507.9,608.5 1508.5,608.4 1509.1,608.2 1509.7,607.5 1510.3,606.8 1510.9,606.2 1511.5,605.9 1512.1,606.1 1512.7,606.2 1513.3,606.4 1513.9,606.1 1514.5,605.5 1515.1,604.9 1515.7,604.5 1516.3,605.0 1516.9,605.7 1517.5,606.5 1518.1,607.3 1518.7,607.7 1519.3,608.2 1519.9,608.7 1520.5,609.2 1521.1,609.3 1521.7,609.4 1522.3,609.5 1522.9,609.8 1523.5,610.5 1524.1,611.3 1524.7,612.0 1525.3,612.3 1525.9,612.3 1526.5,612.3 1527.1,612.3 1527.7,612.4 1528.3,612.7 1528.9,613.0 1529.5,613.3 1530.1,613.6 1530.7,614.0 1531.3,614.3 1531.9,614.5 1532.5,614.8 1533.1,615.1 1533.7,615.3 1534.3,615.4 1534.9,615.4 1535.5,615.4 1536.1,615.4 1536.7,615.5 1537.3,615.7 1537.9,615.9 1538.5,616.0 1539.1,616.3 1539.7,616.5 1540.3,616.8 1540.9,617.0 1541.5,616.6 1542.1,616.0 1542.7,615.3 1543.3,614.6 1543.9,614.2 1544.5,613.9 1545.1,613.5 1545.7,613.2 1546.3,613.4 1546.9,613.5 1547.5,613.8 1548.1,613.9 1548.7,613.7 1549.3,613.5 1549.9,613.3 1550.5,613.2 1551.1,613.3 1551.7,613.4 1552.3,613.5 1552.9,613.6 1553.5,613.7 1554.1,613.8 1554.7,613.9 1555.3,613.9 1555.9,613.9 1556.5,614.0 1557.1,614.0 1557.7,613.9 1558.3,613.7 1558.9,613.5 1559.5,613.3 1560.1,613.4 1560.7,613.5 1561.3,613.6 1561.9,613.7 1562.5,613.9 1563.1,614.1 1563.7,614.3 1564.3,614.0 1564.9,612.9 1565.5,611.4 1566.1,609.9 1566.7,608.7 1567.3,607.6 1567.9,606.6 1568.5,605.7 1569.1,604.8 1569.7,604.0 1570.3,603.3 1570.9,602.7 1571.5,602.2 1572.1,601.8 1572.7,601.5 1573.3,601.1 1573.9,600.4 1574.5,599.6 1575.1,598.5 1575.7,596.9 1576.3,595.0 1576.9,592.9 1577.5,589.6 1578.1,585.9 1578.7,583.5 1579.3,581.6 1579.9,580.1 1580.5,579.1 1581.1,578.7 1581.7,578.4 1582.3,578.2 1582.9,578.5 1583.5,579.4 1584.1,581.1 1584.7,582.9 1585.3,583.7 1585.9,584.0 1586.5,584.1 1587.1,584.3 1587.7,585.6 1588.3,587.0 1588.9,588.6 1589.5,589.9 1590.1,590.3 1590.7,591.1 1591.3,593.3 1591.9,595.7 1592.5,597.2 1593.1,598.1 1593.7,598.9 1594.3,600.1 1594.9,601.8 1595.5,603.7 1596.1,605.8 1596.7,607.5 1597.3,608.8 1597.9,609.8 1598.5,610.6 1599.1,611.2 1599.7,611.7 1600.3,612.1 1600.9,612.5 1601.5,612.7 1602.1,612.8 1602.7,612.9 1603.3,613.0 1603.9,613.4 1604.5,613.8 1605.1,614.1 1605.7,614.3 1606.3,614.4 1606.9,614.5 1607.5,614.6 1608.1,614.6 1608.7,614.6 1609.3,614.6 1609.9,614.5 1610.5,614.3 1611.1,614.0 1611.7,613.6 1612.3,613.1 1612.9,613.1 1613.5,613.2 1614.1,613.2 1614.7,613.2 1615.3,612.3 1615.9,611.5 1616.5,610.7 1617.1,610.1 1617.7,610.3 1618.3,610.6 1618.9,610.9 1619.5,611.4 1620.1,611.9 1620.7,612.5 1621.3,613.1 1621.9,613.4 1622.5,613.3 1623.1,613.2 1623.7,613.1 1624.3,613.1 1624.9,613.3 1625.5,613.4 1626.1,613.5 1626.7,613.5 1627.3,613.4 1627.9,613.4 1628.5,613.3 1629.1,613.4 1629.7,613.5 1630.3,613.6" fill="none" stroke="#000" stroke-width="2.3" stroke-linejoin="round"/>
<polyline points="1186.9,685.0 1187.5,684.9 1188.1,684.7 1188.7,684.6 1189.3,684.4 1189.9,684.1 1190.5,683.9 1191.1,683.6 1191.7,683.3 1192.3,682.7 1192.9,682.1 1193.5,681.5 1194.1,681.1 1194.7,680.9 1195.3,680.7 1195.9,680.6 1196.5,680.4 1197.1,680.3 1197.7,680.2 1198.3,680.1 1198.9,680.0 1199.5,679.9 1200.1,679.8 1200.7,679.7 1201.3,679.3 1201.9,678.8 1202.5,678.3 1203.1,677.9 1203.7,678.0 1204.3,678.1 1204.9,678.1 1205.5,678.0 1206.1,677.7 1206.7,677.4 1207.3,677.1 1207.9,676.8 1208.5,676.5 1209.1,676.2 1209.7,676.0 1210.3,675.8 1210.9,675.8 1211.5,675.8 1212.1,675.8 1212.7,675.9 1213.3,675.9 1213.9,675.7 1214.5,675.0 1215.1,673.3 1215.7,670.5 1216.3,666.9 1216.9,663.0 1217.5,660.1 1218.1,659.4 1218.7,661.4 1219.3,665.2 1219.9,669.5 1220.5,673.1 1221.1,675.7 1221.7,677.4 1222.3,678.3 1222.9,678.7 1223.5,679.0 1224.1,678.8 1224.7,678.5 1225.3,678.1 1225.9,677.6 1226.5,677.5 1227.1,677.4 1227.7,677.1 1228.3,676.7 1228.9,675.6 1229.5,674.1 1230.1,672.2 1230.7,670.0 1231.3,667.7 1231.9,665.7 1232.5,664.4 1233.1,664.3 1233.7,665.1 1234.3,666.2 1234.9,667.2 1235.5,668.0 1236.1,668.5 1236.7,668.6 1237.3,668.5 1237.9,668.5 1238.5,668.6 1239.1,668.5 1239.7,668.4 1240.3,667.5 1240.9,666.5 1241.5,665.4 1242.1,664.2 1242.7,663.1 1243.3,661.9 1243.9,660.7 1244.5,659.6 1245.1,659.0 1245.7,658.5 1246.3,658.0 1246.9,657.3 1247.5,656.3 1248.1,655.3 1248.7,654.4 1249.3,653.5 1249.9,652.7 1250.5,651.9 1251.1,651.1 1251.7,650.4 1252.3,649.6 1252.9,648.8 1253.5,648.0 1254.1,647.1 1254.7,646.1 1255.3,645.0 1255.9,643.8 1256.5,642.5 1257.1,641.0 1257.7,639.2 1258.3,637.2 1258.9,634.6 1259.5,631.9 1260.1,628.9 1260.7,625.9 1261.3,623.2 1261.9,620.4 1262.5,617.7 1263.1,615.1 1263.7,612.9 1264.3,611.1 1264.9,609.8 1265.5,609.1 1266.1,609.2 1266.7,609.9 1267.3,611.4 1267.9,613.3 1268.5,615.7 1269.1,618.5 1269.7,621.7 1270.3,625.4 1270.9,629.2 1271.5,633.0 1272.1,636.7 1272.7,639.9 1273.3,642.9 1273.9,645.8 1274.5,648.2 1275.1,650.1 1275.7,651.7 1276.3,653.1 1276.9,654.9 1277.5,657.0 1278.1,658.9 1278.7,660.7 1279.3,662.0 1279.9,663.1 1280.5,664.1 1281.1,665.0 1281.7,665.6 1282.3,666.1 1282.9,666.5 1283.5,666.8 1284.1,666.8 1284.7,666.8 1285.3,666.7 1285.9,666.7 1286.5,667.3 1287.1,668.0 1287.7,668.7 1288.3,669.2 1288.9,669.5 1289.5,669.9 1290.1,670.2 1290.7,670.8 1291.3,671.5 1291.9,672.3 1292.5,673.0 1293.1,673.6 1293.7,674.2 1294.3,674.8 1294.9,675.3 1295.5,675.5 1296.1,675.7 1296.7,675.8 1297.3,675.9 1297.9,675.8 1298.5,675.7 1299.1,675.5 1299.7,675.5 1300.3,676.1 1300.9,676.7 1301.5,677.3 1302.1,677.7 1302.7,677.7 1303.3,677.7 1303.9,677.7 1304.5,677.9 1305.1,678.3 1305.7,678.6 1306.3,679.0 1306.9,679.0 1307.5,678.9 1308.1,678.8 1308.7,678.7 1309.3,679.0 1309.9,679.3 1310.5,679.7 1311.1,680.0 1311.7,680.2 1312.3,680.3 1312.9,680.4 1313.5,680.4 1314.1,680.3 1314.7,680.0 1315.3,679.6 1315.9,679.1 1316.5,678.8 1317.1,678.5 1317.7,678.0 1318.3,677.3 1318.9,676.3 1319.5,675.3 1320.1,674.3 1320.7,673.4 1321.3,672.6 1321.9,671.9 1322.5,671.3 1323.1,670.6 1323.7,670.0 1324.3,669.5 1324.9,669.2 1325.5,669.4 1326.1,669.6 1326.7,669.8 1327.3,670.1 1327.9,670.5 1328.5,670.8 1329.1,671.2 1329.7,671.5 1330.3,671.9 1330.9,672.3 1331.5,672.7 1332.1,672.9 1332.7,672.8 1333.3,672.8 1333.9,672.8 1334.5,673.4 1335.1,674.4 1335.7,675.4 1336.3,676.4 1336.9,676.6 1337.5,676.6 1338.1,676.6 1338.7,676.6 1339.3,676.9 1339.9,677.1 1340.5,677.4 1341.1,677.7 1341.7,678.3 1342.3,679.0 1342.9,679.6 1343.5,680.0 1344.1,679.7 1344.7,679.5 1345.3,679.2 1345.9,679.2 1346.5,679.4 1347.1,679.6 1347.7,679.8 1348.3,680.0 1348.9,680.1 1349.5,680.3 1350.1,680.5 1350.7,680.5 1351.3,680.4 1351.9,680.4 1352.5,680.3 1353.1,680.0 1353.7,679.6 1354.3,679.2 1354.9,678.9 1355.5,678.9 1356.1,678.9 1356.7,678.9 1357.3,678.8 1357.9,678.7 1358.5,678.5 1359.1,678.4 1359.7,678.3 1360.3,678.4 1360.9,678.4 1361.5,678.4 1362.1,678.3 1362.7,678.1 1363.3,678.0 1363.9,677.8 1364.5,677.7 1365.1,677.7 1365.7,677.6 1366.3,677.6 1366.9,677.3 1367.5,676.9 1368.1,676.6 1368.7,676.3 1369.3,676.2 1369.9,676.2 1370.5,676.1 1371.1,675.9 1371.7,675.6 1372.3,675.3 1372.9,675.0 1373.5,674.9 1374.1,674.8 1374.7,674.8 1375.3,674.8 1375.9,674.7 1376.5,674.4 1377.1,674.1 1377.7,673.8 1378.3,673.9 1378.9,673.9 1379.5,674.0 1380.1,673.9 1380.7,673.5 1381.3,673.0 1381.9,672.4 1382.5,672.0 1383.1,671.8 1383.7,671.7 1384.3,671.6 1384.9,671.6 1385.5,671.8 1386.1,672.1 1386.7,672.4 1387.3,672.4 1387.9,672.1 1388.5,671.9 1389.1,671.6 1389.7,671.6 1390.3,671.6 1390.9,671.6 1391.5,671.7 1392.1,671.7 1392.7,671.8 1393.3,671.8 1393.9,671.8 1394.5,671.7 1395.1,671.6 1395.7,671.4 1396.3,671.3 1396.9,671.3 1397.5,671.3 1398.1,671.4 1398.7,671.4 1399.3,671.6 1399.9,671.7 1400.5,671.9 1401.1,671.8 1401.7,671.3 1402.3,670.9 1402.9,670.5 1403.5,670.5 1404.1,670.7 1404.7,670.9 1405.3,671.2 1405.9,671.4 1406.5,671.5 1407.1,671.7 1407.7,671.9 1408.3,672.2 1408.9,672.6 1409.5,672.9 1410.1,673.3 1410.7,674.1 1411.3,674.8 1411.9,675.6 1412.5,676.0 1413.1,676.0 1413.7,675.9 1414.3,675.8 1414.9,675.8 1415.5,675.9 1416.1,676.0 1416.7,676.1 1417.3,675.7 1417.9,675.1 1418.5,674.6 1419.1,674.1 1419.7,674.2 1420.3,674.4 1420.9,674.6 1421.5,674.8 1422.1,675.5 1422.7,676.2 1423.3,677.0 1423.9,677.6 1424.5,677.4 1425.1,677.2 1425.7,677.1 1426.3,677.1 1426.9,677.6 1427.5,678.0 1428.1,678.4 1428.7,678.5 1429.3,678.3 1429.9,678.1 1430.5,677.8 1431.1,678.2 1431.7,678.8 1432.3,679.4 1432.9,680.1 1433.5,680.1 1434.1,679.9 1434.7,679.8 1435.3,679.6 1435.9,679.7 1436.5,679.8 1437.1,679.9 1437.7,680.1 1438.3,680.9 1438.9,681.7 1439.5,682.5 1440.1,682.9 1440.7,682.4 1441.3,682.0 1441.9,681.5 1442.5,681.2 1443.1,681.0 1443.7,680.8 1444.3,680.5 1444.9,680.5 1445.5,680.6 1446.1,680.6 1446.7,680.7 1447.3,681.0 1447.9,681.5 1448.5,682.0 1449.1,682.4 1449.7,681.9 1450.3,681.5 1450.9,681.0 1451.5,680.7 1452.1,681.1 1452.7,681.6 1453.3,682.0 1453.9,682.1 1454.5,681.4 1455.1,680.7 1455.7,680.0 1456.3,679.7 1456.9,679.9 1457.5,680.1 1458.1,680.3 1458.7,680.2 1459.3,679.8 1459.9,679.5 1460.5,679.1 1461.1,679.4 1461.7,679.8 1462.3,680.2 1462.9,680.7 1463.5,680.6 1464.1,680.6 1464.7,680.6 1465.3,680.5 1465.9,680.3 1466.5,680.1 1467.1,679.9 1467.7,679.8 1468.3,679.6 1468.9,679.5 1469.5,679.4 1470.1,679.3 1470.7,679.3 1471.3,679.2 1471.9,679.2 1472.5,679.3 1473.1,679.4 1473.7,679.5 1474.3,679.5 1474.9,679.3 1475.5,679.0 1476.1,678.6 1476.7,678.2 1477.3,678.2 1477.9,678.1 1478.5,678.0 1479.1,677.9 1479.7,678.1 1480.3,678.4 1480.9,678.6 1481.5,678.6 1482.1,678.1 1482.7,677.6 1483.3,677.2 1483.9,677.0 1484.5,677.2 1485.1,677.3 1485.7,677.5 1486.3,677.9 1486.9,678.3 1487.5,678.7 1488.1,679.1 1488.7,679.0 1489.3,678.9 1489.9,678.7 1490.5,678.5 1491.1,678.3 1491.7,678.1 1492.3,677.9 1492.9,677.7 1493.5,677.8 1494.1,677.8 1494.7,677.7 1495.3,677.6 1495.9,677.2 1496.5,676.9 1497.1,676.5 1497.7,676.2 1498.3,676.0 1498.9,675.8 1499.5,675.6 1500.1,675.4 1500.7,675.2 1501.3,675.0 1501.9,674.8 1502.5,674.9 1503.1,675.0 1503.7,675.1 1504.3,675.2 1504.9,675.2 1505.5,675.1 1506.1,675.0 1506.7,674.9 1507.3,673.9 1507.9,673.0 1508.5,672.1 1509.1,671.7 1509.7,672.6 1510.3,673.4 1510.9,674.3 1511.5,674.6 1512.1,674.3 1512.7,674.0 1513.3,673.7 1513.9,673.5 1514.5,673.2 1515.1,673.0 1515.7,672.8 1516.3,673.0 1516.9,673.5 1517.5,673.9 1518.1,674.4 1518.7,674.2 1519.3,674.0 1519.9,673.7 1520.5,673.7 1521.1,674.3 1521.7,675.0 1522.3,675.5 1522.9,676.0 1523.5,676.3 1524.1,676.6 1524.7,676.9 1525.3,677.0 1525.9,676.8 1526.5,676.5 1527.1,676.3 1527.7,676.0 1528.3,675.7 1528.9,675.4 1529.5,675.2 1530.1,675.7 1530.7,676.4 1531.3,677.2 1531.9,677.9 1532.5,678.1 1533.1,678.2 1533.7,678.4 1534.3,678.6 1534.9,679.2 1535.5,679.8 1536.1,680.4 1536.7,680.8 1537.3,680.9 1537.9,681.0 1538.5,681.1 1539.1,681.4 1539.7,681.9 1540.3,682.4 1540.9,682.9 1541.5,683.1 1542.1,683.0 1542.7,683.0 1543.3,682.9 1543.9,683.2 1544.5,683.6 1545.1,684.0 1545.7,684.2 1546.3,684.3 1546.9,684.3 1547.5,684.1 1548.1,683.9 1548.7,683.4 1549.3,682.9 1549.9,682.3 1550.5,681.8 1551.1,681.7 1551.7,681.5 1552.3,681.3 1552.9,681.3 1553.5,681.4 1554.1,681.5 1554.7,681.7 1555.3,681.1 1555.9,680.1 1556.5,679.0 1557.1,677.8 1557.7,677.4 1558.3,677.2 1558.9,677.0 1559.5,676.8 1560.1,676.2 1560.7,675.7 1561.3,675.2 1561.9,674.8 1562.5,674.6 1563.1,674.4 1563.7,674.3 1564.3,674.0 1564.9,673.4 1565.5,672.9 1566.1,672.3 1566.7,672.2 1567.3,672.5 1567.9,672.9 1568.5,673.3 1569.1,673.1 1569.7,672.6 1570.3,672.1 1570.9,671.4 1571.5,670.9 1572.1,670.2 1572.7,669.2 1573.3,668.0 1573.9,666.7 1574.5,665.2 1575.1,663.6 1575.7,661.6 1576.3,659.3 1576.9,656.7 1577.5,654.0 1578.1,650.8 1578.7,646.5 1579.3,642.6 1579.9,639.8 1580.5,637.9 1581.1,636.6 1581.7,635.5 1582.3,634.7 1582.9,633.7 1583.5,632.6 1584.1,631.6 1584.7,630.6 1585.3,629.8 1585.9,628.8 1586.5,627.6 1587.1,626.5 1587.7,626.0 1588.3,626.1 1588.9,626.8 1589.5,627.8 1590.1,628.8 1590.7,630.1 1591.3,632.0 1591.9,635.2 1592.5,638.8 1593.1,642.1 1593.7,645.4 1594.3,648.9 1594.9,652.3 1595.5,656.1 1596.1,659.9 1596.7,663.6 1597.3,666.6 1597.9,668.6 1598.5,670.2 1599.1,671.7 1599.7,673.0 1600.3,674.1 1600.9,675.1 1601.5,675.7 1602.1,676.4 1602.7,677.0 1603.3,677.6 1603.9,678.2 1604.5,678.7 1605.1,679.0 1605.7,679.2 1606.3,679.4 1606.9,679.7 1607.5,679.9 1608.1,679.7 1608.7,679.1 1609.3,678.5 1609.9,677.9 1610.5,678.0 1611.1,678.4 1611.7,678.9 1612.3,679.4 1612.9,679.6 1613.5,679.8 1614.1,680.0 1614.7,680.2 1615.3,680.3 1615.9,680.4 1616.5,680.4 1617.1,680.5 1617.7,680.9 1618.3,681.2 1618.9,681.6 1619.5,681.7 1620.1,681.4 1620.7,681.2 1621.3,681.0 1621.9,680.9 1622.5,681.1 1623.1,681.2 1623.7,681.3 1624.3,681.4 1624.9,681.4 1625.5,681.5 1626.1,681.5 1626.7,681.9 1627.3,682.4 1627.9,683.0 1628.5,683.5 1629.1,682.9 1629.7,682.3 1630.3,681.7" fill="none" stroke="#000" stroke-width="2.3" stroke-linejoin="round"/>
<line x1="1217.97" y1="331.2" x2="1217.97" y2="683" stroke="#0000ff" stroke-width="1.9" stroke-dasharray="7,4.5"/>
<line x1="1232.86" y1="340.2" x2="1232.86" y2="687" stroke="#0000ff" stroke-width="1.9" stroke-dasharray="7,4.5"/>
<line x1="1264.86" y1="297.2" x2="1264.86" y2="652" stroke="#0000ff" stroke-width="1.9" stroke-dasharray="7,4.5"/>
<line x1="1581.08" y1="307" x2="1581.08" y2="602" stroke="#0000ff" stroke-width="1.9" stroke-dasharray="7,4.5"/>
<line x1="1587.41" y1="618" x2="1587.41" y2="667" stroke="#0000ff" stroke-width="1.9" stroke-dasharray="7,4.5"/>
<line x1="1647.5" y1="629.9" x2="1647.5" y2="416" stroke="#000" stroke-width="2.0" />
<path d="M1647.5 404.1 L1651.9 418.1 L1647.5 418.1 L1643.1 418.1 Z" fill="#000"/>
<text transform="translate(1653.3 537.7) scale(1 1.08)" x="0" y="0" font-family="'Liberation Sans', Arial, sans-serif" font-size="40" fill="#000" font-weight="normal" font-style="italic" text-anchor="start" >t</text>
<text font-family="'Noto Serif CJK SC', 'Liberation Serif', serif" font-weight="600" font-size="36.5" fill="#000" x="1137.8" y="279">ν</text>
<text font-family="'Liberation Serif', 'Times New Roman', serif" font-size="27" fill="#000" x="1156.4" y="293.3">CC(ring)</text>
<text font-family="'Noto Serif CJK SC', 'Liberation Serif', serif" font-weight="600" font-size="36.5" fill="#000" x="1203.8" y="315.4">ν</text>
<text font-family="'Liberation Serif', 'Times New Roman', serif" font-size="27" fill="#000" x="1222.9" y="329.3">CB</text>
<text font-family="'Noto Serif CJK SC', 'Liberation Serif', serif" font-weight="600" font-size="36" fill="#000" x="1290.8" y="291.4">ν</text>
<text font-family="'Liberation Serif', 'Times New Roman', serif" font-size="27" fill="#000" x="1308.7" y="305.8">CS</text>
<text font-family="'Noto Serif CJK SC', 'Liberation Serif', serif" font-weight="600" font-size="36.6" fill="#000" x="1551.9" y="291.5">ν</text>
<text font-family="'Liberation Serif', 'Times New Roman', serif" font-size="27" fill="#000" x="1570.6" y="306">CC(ring)</text>
<line x1="1214.5" y1="333.3" x2="1198.31" y2="311.26" stroke="#000" stroke-width="1.4" />
<path d="M1191.8 302.4 L1203.72 311.02 L1198.9 312.07 L1196.46 316.35 Z" fill="#000"/>
<line x1="1234.5" y1="342" x2="1236.37" y2="336.17" stroke="#000" stroke-width="1.4" />
<path d="M1238.5 329.5 L1238.6 340.03 L1236.06 337.12 L1232.31 338.02 Z" fill="#000"/>
<line x1="1268.1" y1="297.9" x2="1278.5" y2="292.6" stroke="#000" stroke-width="1.4" />
<path d="M1288.3 287.6 L1277.87 297.97 L1277.61 293.05 L1273.78 289.95 Z" fill="#000"/>
<line x1="670.5" y1="302.9" x2="670.5" y2="698.6" stroke="#000" stroke-width="1.9" />
<line x1="669.6" y1="698.6" x2="1066.8" y2="698.6" stroke="#000" stroke-width="1.9" />
<line x1="663.3" y1="689" x2="670.5" y2="689" stroke="#000" stroke-width="1.9" />
<text transform="translate(657.3 698.4) scale(1 1.035)" x="0" y="0" font-family="'Liberation Sans', Arial, sans-serif" font-size="32.8" fill="#000" font-weight="normal" font-style="normal" text-anchor="end" >0.0</text>
<line x1="663.3" y1="592.5" x2="670.5" y2="592.5" stroke="#000" stroke-width="1.9" />
<text transform="translate(657.3 601.9) scale(1 1.035)" x="0" y="0" font-family="'Liberation Sans', Arial, sans-serif" font-size="32.8" fill="#000" font-weight="normal" font-style="normal" text-anchor="end" >0.1</text>
<line x1="663.3" y1="496" x2="670.5" y2="496" stroke="#000" stroke-width="1.9" />
<text transform="translate(657.3 505.4) scale(1 1.035)" x="0" y="0" font-family="'Liberation Sans', Arial, sans-serif" font-size="32.8" fill="#000" font-weight="normal" font-style="normal" text-anchor="end" >0.2</text>
<line x1="663.3" y1="399.5" x2="670.5" y2="399.5" stroke="#000" stroke-width="1.9" />
<text transform="translate(657.3 408.9) scale(1 1.035)" x="0" y="0" font-family="'Liberation Sans', Arial, sans-serif" font-size="32.8" fill="#000" font-weight="normal" font-style="normal" text-anchor="end" >0.3</text>
<line x1="663.3" y1="303" x2="670.5" y2="303" stroke="#000" stroke-width="1.9" />
<text transform="translate(657.3 312.4) scale(1 1.035)" x="0" y="0" font-family="'Liberation Sans', Arial, sans-serif" font-size="32.8" fill="#000" font-weight="normal" font-style="normal" text-anchor="end" >0.4</text>
<line x1="666.5" y1="640.75" x2="670.5" y2="640.75" stroke="#000" stroke-width="1.9" />
<line x1="666.5" y1="544.25" x2="670.5" y2="544.25" stroke="#000" stroke-width="1.9" />
<line x1="666.5" y1="447.75" x2="670.5" y2="447.75" stroke="#000" stroke-width="1.9" />
<line x1="666.5" y1="351.25" x2="670.5" y2="351.25" stroke="#000" stroke-width="1.9" />
<line x1="679.6" y1="698.6" x2="679.6" y2="705.8" stroke="#000" stroke-width="1.9" />
<text transform="translate(679.6 737) scale(1 1.035)" x="0" y="0" font-family="'Liberation Sans', Arial, sans-serif" font-size="32.8" fill="#000" font-weight="normal" font-style="normal" text-anchor="middle" >0</text>
<line x1="776.45" y1="698.6" x2="776.45" y2="705.8" stroke="#000" stroke-width="1.9" />
<text transform="translate(776.45 737) scale(1 1.035)" x="0" y="0" font-family="'Liberation Sans', Arial, sans-serif" font-size="32.8" fill="#000" font-weight="normal" font-style="normal" text-anchor="middle" >5</text>
<line x1="873.3" y1="698.6" x2="873.3" y2="705.8" stroke="#000" stroke-width="1.9" />
<text transform="translate(873.3 737) scale(1 1.035)" x="0" y="0" font-family="'Liberation Sans', Arial, sans-serif" font-size="32.8" fill="#000" font-weight="normal" font-style="normal" text-anchor="middle" >10</text>
<line x1="970.15" y1="698.6" x2="970.15" y2="705.8" stroke="#000" stroke-width="1.9" />
<text transform="translate(970.15 737) scale(1 1.035)" x="0" y="0" font-family="'Liberation Sans', Arial, sans-serif" font-size="32.8" fill="#000" font-weight="normal" font-style="normal" text-anchor="middle" >15</text>
<line x1="1067" y1="698.6" x2="1067" y2="705.8" stroke="#000" stroke-width="1.9" />
<text transform="translate(1067 737) scale(1 1.035)" x="0" y="0" font-family="'Liberation Sans', Arial, sans-serif" font-size="32.8" fill="#000" font-weight="normal" font-style="normal" text-anchor="middle" >20</text>
<line x1="728.02" y1="698.6" x2="728.02" y2="702.6" stroke="#000" stroke-width="1.9" />
<line x1="824.88" y1="698.6" x2="824.88" y2="702.6" stroke="#000" stroke-width="1.9" />
<line x1="921.73" y1="698.6" x2="921.73" y2="702.6" stroke="#000" stroke-width="1.9" />
<line x1="1018.58" y1="698.6" x2="1018.58" y2="702.6" stroke="#000" stroke-width="1.9" />
<text transform="translate(815.55 777.6) scale(1 1.04)" x="0" y="0" font-family="'Liberation Sans', Arial, sans-serif" font-size="33.4" fill="#000" font-weight="normal" font-style="normal" text-anchor="start" >Time (min)</text>
<text x="0" y="0" font-family="'Liberation Sans', Arial, sans-serif" font-size="33.4" fill="#000" font-weight="normal" font-style="normal" text-anchor="middle" transform="translate(594.2,509.3) rotate(-90)">Conversion</text>
<circle cx="678.5" cy="688.6" r="4.4" fill="url(#dk)"/>
<circle cx="682.5" cy="633" r="4.4" fill="url(#dk)"/>
<circle cx="693.1" cy="629" r="4.4" fill="url(#dk)"/>
<circle cx="702.4" cy="584.8" r="4.4" fill="url(#dk)"/>
<circle cx="713" cy="597.2" r="4.4" fill="url(#dk)"/>
<circle cx="723" cy="548.2" r="4.4" fill="url(#dk)"/>
<circle cx="733.6" cy="537.7" r="4.4" fill="url(#dk)"/>
<circle cx="742.6" cy="499.8" r="4.4" fill="url(#dk)"/>
<circle cx="752.7" cy="513.3" r="4.4" fill="url(#dk)"/>
<circle cx="762.7" cy="476.6" r="4.4" fill="url(#dk)"/>
<circle cx="772.8" cy="476.6" r="4.4" fill="url(#dk)"/>
<circle cx="782.4" cy="463.5" r="4.4" fill="url(#dk)"/>
<circle cx="792.5" cy="472.8" r="4.4" fill="url(#dk)"/>
<circle cx="802.5" cy="438" r="4.4" fill="url(#dk)"/>
<circle cx="812.6" cy="419.1" r="4.4" fill="url(#dk)"/>
<circle cx="822.7" cy="438" r="4.4" fill="url(#dk)"/>
<circle cx="832.8" cy="445.6" r="4.4" fill="url(#dk)"/>
<circle cx="842.4" cy="438.3" r="4.4" fill="url(#dk)"/>
<circle cx="852.5" cy="436.7" r="4.4" fill="url(#dk)"/>
<circle cx="862.6" cy="436.7" r="4.4" fill="url(#dk)"/>
<circle cx="872.7" cy="419.3" r="4.4" fill="url(#dk)"/>
<circle cx="882.2" cy="421.6" r="4.4" fill="url(#dk)"/>
<circle cx="892.3" cy="406" r="4.4" fill="url(#dk)"/>
<circle cx="902.4" cy="413" r="4.4" fill="url(#dk)"/>
<circle cx="912.2" cy="406" r="4.4" fill="url(#dk)"/>
<circle cx="921.8" cy="386.5" r="4.4" fill="url(#dk)"/>
<circle cx="932.4" cy="399.7" r="4.4" fill="url(#dk)"/>
<circle cx="942" cy="409.2" r="4.4" fill="url(#dk)"/>
<circle cx="952.1" cy="393.9" r="4.4" fill="url(#dk)"/>
<circle cx="962.2" cy="390.1" r="4.4" fill="url(#dk)"/>
<circle cx="972.3" cy="374.9" r="4.4" fill="url(#dk)"/>
<circle cx="981.9" cy="385" r="4.4" fill="url(#dk)"/>
<circle cx="992" cy="395.9" r="4.4" fill="url(#dk)"/>
<circle cx="1002" cy="384" r="4.4" fill="url(#dk)"/>
<circle cx="1012.1" cy="393.9" r="4.4" fill="url(#dk)"/>
<circle cx="678" cy="688.6" r="4.4" fill="url(#do)"/>
<circle cx="680.7" cy="654.7" r="4.4" fill="url(#do)"/>
<circle cx="692.3" cy="606.5" r="4.4" fill="url(#do)"/>
<circle cx="702" cy="575" r="4.4" fill="url(#do)"/>
<circle cx="712.2" cy="543" r="4.4" fill="url(#do)"/>
<circle cx="721.7" cy="517.3" r="4.4" fill="url(#do)"/>
<circle cx="731.9" cy="481.7" r="4.4" fill="url(#do)"/>
<circle cx="741.2" cy="471" r="4.4" fill="url(#do)"/>
<circle cx="752.1" cy="451.4" r="4.4" fill="url(#do)"/>
<circle cx="761.7" cy="443.8" r="4.4" fill="url(#do)"/>
<circle cx="771.8" cy="446.3" r="4.4" fill="url(#do)"/>
<circle cx="781.9" cy="435" r="4.4" fill="url(#do)"/>
<circle cx="791.2" cy="416.6" r="4.4" fill="url(#do)"/>
<circle cx="801.8" cy="423.6" r="4.4" fill="url(#do)"/>
<circle cx="811.4" cy="417.6" r="4.4" fill="url(#do)"/>
<circle cx="821" cy="397.1" r="4.4" fill="url(#do)"/>
<circle cx="831.6" cy="400.4" r="4.4" fill="url(#do)"/>
<circle cx="841.1" cy="389.6" r="4.4" fill="url(#do)"/>
<circle cx="851.7" cy="387" r="4.4" fill="url(#do)"/>
<circle cx="861.3" cy="383.3" r="4.4" fill="url(#do)"/>
<circle cx="871.4" cy="360.6" r="4.4" fill="url(#do)"/>
<circle cx="881.4" cy="370.6" r="4.4" fill="url(#do)"/>
<circle cx="891" cy="382" r="4.4" fill="url(#do)"/>
<circle cx="901.1" cy="373.7" r="4.4" fill="url(#do)"/>
<circle cx="911" cy="360.6" r="4.4" fill="url(#do)"/>
<circle cx="921.1" cy="354.7" r="4.4" fill="url(#do)"/>
<circle cx="931.1" cy="355.5" r="4.4" fill="url(#do)"/>
<circle cx="941.2" cy="349.2" r="4.4" fill="url(#do)"/>
<circle cx="960.9" cy="356.8" r="4.4" fill="url(#do)"/>
<circle cx="981.1" cy="360.6" r="4.4" fill="url(#do)"/>
<circle cx="1001.3" cy="353" r="4.4" fill="url(#do)"/>
<circle cx="677.2" cy="688.6" r="4.4" fill="url(#dg)"/>
<circle cx="680.7" cy="644.9" r="4.4" fill="url(#dg)"/>
<circle cx="690.4" cy="593.3" r="4.4" fill="url(#dg)"/>
<circle cx="700.2" cy="546.4" r="4.4" fill="url(#dg)"/>
<circle cx="710.3" cy="517.3" r="4.4" fill="url(#dg)"/>
<circle cx="720.6" cy="493" r="4.4" fill="url(#dg)"/>
<circle cx="731.1" cy="470.3" r="4.4" fill="url(#dg)"/>
<circle cx="740.7" cy="465.3" r="4.4" fill="url(#dg)"/>
<circle cx="750.8" cy="431.7" r="4.4" fill="url(#dg)"/>
<circle cx="760.9" cy="419.8" r="4.4" fill="url(#dg)"/>
<circle cx="771" cy="420.6" r="4.4" fill="url(#dg)"/>
<circle cx="780.6" cy="402.9" r="4.4" fill="url(#dg)"/>
<circle cx="790.2" cy="400.4" r="4.4" fill="url(#dg)"/>
<circle cx="800.5" cy="380.7" r="4.4" fill="url(#dg)"/>
<circle cx="810.6" cy="384" r="4.4" fill="url(#dg)"/>
<circle cx="820.5" cy="393.9" r="4.4" fill="url(#dg)"/>
<circle cx="830.8" cy="389.6" r="4.4" fill="url(#dg)"/>
<circle cx="840.6" cy="378.2" r="4.4" fill="url(#dg)"/>
<circle cx="850.7" cy="373.9" r="4.4" fill="url(#dg)"/>
<circle cx="860.6" cy="361.8" r="4.4" fill="url(#dg)"/>
<circle cx="872.7" cy="352.5" r="4.4" fill="url(#dg)"/>
<circle cx="882.2" cy="356" r="4.4" fill="url(#dg)"/>
<circle cx="902.4" cy="340.4" r="4.4" fill="url(#dg)"/>
<circle cx="921.8" cy="344.9" r="4.4" fill="url(#dg)"/>
<circle cx="942" cy="332.3" r="4.4" fill="url(#dg)"/>
<circle cx="981.9" cy="332" r="4.4" fill="url(#dg)"/>
<circle cx="679" cy="689" r="4.4" fill="url(#dr)"/>
<circle cx="682.5" cy="679.3" r="4.4" fill="url(#dr)"/>
<circle cx="698.4" cy="660.8" r="4.4" fill="url(#dr)"/>
<circle cx="713" cy="641.4" r="4.4" fill="url(#dr)"/>
<circle cx="728.3" cy="630.3" r="4.4" fill="url(#dr)"/>
<circle cx="743.4" cy="612.3" r="4.4" fill="url(#dr)"/>
<circle cx="758" cy="621.6" r="4.4" fill="url(#dr)"/>
<circle cx="773" cy="582.7" r="4.4" fill="url(#dr)"/>
<circle cx="787.9" cy="595.9" r="4.4" fill="url(#dr)"/>
<circle cx="802.4" cy="574.2" r="4.4" fill="url(#dr)"/>
<circle cx="817.5" cy="572.1" r="4.4" fill="url(#dr)"/>
<circle cx="832.1" cy="558.3" r="4.4" fill="url(#dr)"/>
<circle cx="846.7" cy="558.8" r="4.4" fill="url(#dr)"/>
<circle cx="861.4" cy="549.9" r="4.4" fill="url(#dr)"/>
<circle cx="876.6" cy="551.6" r="4.4" fill="url(#dr)"/>
<circle cx="891.1" cy="559.6" r="4.4" fill="url(#dr)"/>
<circle cx="921" cy="527.2" r="4.4" fill="url(#dr)"/>
<circle cx="935.7" cy="518.8" r="4.4" fill="url(#dr)"/>
<circle cx="950.2" cy="525" r="4.4" fill="url(#dr)"/>
<circle cx="965.4" cy="530" r="4.4" fill="url(#dr)"/>
<circle cx="980.1" cy="521.1" r="4.4" fill="url(#dr)"/>
<circle cx="995.1" cy="529.1" r="4.4" fill="url(#dr)"/>
<circle cx="1009.8" cy="507.2" r="4.4" fill="url(#dr)"/>
<circle cx="1039.8" cy="502.7" r="4.4" fill="url(#dr)"/>
<circle cx="681.7" cy="688.6" r="4.4" fill="url(#db)"/>
<circle cx="685.7" cy="670" r="4.4" fill="url(#db)"/>
<circle cx="699.2" cy="658.1" r="4.4" fill="url(#db)"/>
<circle cx="714.3" cy="648.9" r="4.4" fill="url(#db)"/>
<circle cx="729.4" cy="634.3" r="4.4" fill="url(#db)"/>
<circle cx="744.2" cy="625.8" r="4.4" fill="url(#db)"/>
<circle cx="759.3" cy="614.4" r="4.4" fill="url(#db)"/>
<circle cx="773.8" cy="609.1" r="4.4" fill="url(#db)"/>
<circle cx="788.4" cy="585.3" r="4.4" fill="url(#db)"/>
<circle cx="803.8" cy="593.8" r="4.4" fill="url(#db)"/>
<circle cx="818.3" cy="594" r="4.4" fill="url(#db)"/>
<circle cx="848" cy="577.9" r="4.4" fill="url(#db)"/>
<circle cx="862.5" cy="559.6" r="4.4" fill="url(#db)"/>
<circle cx="877.1" cy="562" r="4.4" fill="url(#db)"/>
<circle cx="891.9" cy="547.1" r="4.4" fill="url(#db)"/>
<circle cx="907.2" cy="551.6" r="4.4" fill="url(#db)"/>
<circle cx="921.9" cy="543.3" r="4.4" fill="url(#db)"/>
<circle cx="936.8" cy="548.8" r="4.4" fill="url(#db)"/>
<circle cx="951.6" cy="550.7" r="4.4" fill="url(#db)"/>
<circle cx="966.3" cy="561" r="4.4" fill="url(#db)"/>
<circle cx="981.2" cy="560.5" r="4.4" fill="url(#db)"/>
<circle cx="996" cy="554.9" r="4.4" fill="url(#db)"/>
<circle cx="1025.6" cy="529.4" r="4.4" fill="url(#db)"/>
<circle cx="1055" cy="543" r="4.4" fill="url(#db)"/>
<polyline points="679.6,683.7 680.3,682.8 681.1,681.8 681.8,680.9 682.6,680.0 683.3,679.1 684.1,678.2 684.8,677.3 685.6,676.4 686.3,675.5 687.1,674.6 687.8,673.8 688.5,672.9 689.3,672.0 690.0,671.1 690.8,670.3 691.5,669.4 692.3,668.5 693.0,667.7 693.8,666.8 694.5,666.0 695.2,665.2 696.0,664.3 696.7,663.5 697.5,662.7 698.2,661.8 699.0,661.0 699.7,660.2 700.5,659.4 701.2,658.6 702.0,657.8 702.7,657.0 703.4,656.2 704.2,655.4 704.9,654.6 705.7,653.8 706.4,653.0 707.2,652.3 707.9,651.5 708.7,650.7 711.7,647.6 714.7,644.6 717.7,641.7 720.7,638.8 723.7,635.9 726.7,633.1 729.7,630.4 732.7,627.7 735.8,625.1 738.8,622.5 741.8,620.0 744.8,617.5 747.8,615.1 750.8,612.7 753.8,610.4 756.8,608.1 759.8,605.8 762.9,603.6 765.9,601.5 768.9,599.3 771.9,597.3 774.9,595.2 777.9,593.2 780.9,591.3 783.9,589.4 786.9,587.5 790.0,585.6 793.0,583.8 796.0,582.0 799.0,580.3 802.0,578.6 805.0,576.9 808.0,575.3 811.0,573.7 814.1,572.1 817.1,570.5 820.1,569.0 823.1,567.5 826.1,566.1 829.1,564.6 832.1,563.2 835.1,561.9 838.1,560.5 841.2,559.2 844.2,557.9 847.2,556.6 850.2,555.4 853.2,554.1 856.2,552.9 859.2,551.8 862.2,550.6 865.2,549.5 868.3,548.4 871.3,547.3 874.3,546.2 877.3,545.2 880.3,544.1 883.3,543.1 886.3,542.2 889.3,541.2 892.3,540.2 895.4,539.3 898.4,538.4 901.4,537.5 904.4,536.6 907.4,535.8 910.4,534.9 913.4,534.1 916.4,533.3 919.4,532.5 922.5,531.7 925.5,530.9 928.5,530.2 931.5,529.5 934.5,528.7 937.5,528.0 940.5,527.3 943.5,526.7 946.5,526.0 949.6,525.3 952.6,524.7 955.6,524.1 958.6,523.5 961.6,522.9 964.6,522.3 967.6,521.7 970.6,521.1 973.6,520.5 976.7,520.0 979.7,519.5 982.7,518.9 985.7,518.4 988.7,517.9 991.7,517.4 994.7,516.9 997.7,516.5 1000.8,516.0 1003.8,515.5 1006.8,515.1 1009.8,514.6 1012.8,514.2 1015.8,513.8 1018.8,513.4 1021.8,513.0 1024.8,512.6 1027.9,512.2 1030.9,511.8 1033.9,511.4 1036.9,511.0 1039.9,510.7 1042.9,510.3 1045.9,510.0 1048.9,509.6 1051.9,509.3 1055.0,509.0 1058.0,508.6 1061.0,508.3 1064.0,508.0 1067.0,507.7" fill="none" stroke="#ff0000" stroke-width="2.6" stroke-linejoin="round" stroke-linecap="round"/>
<polyline points="679.6,683.7 680.3,682.8 681.1,682.0 681.8,681.1 682.6,680.3 683.3,679.5 684.1,678.6 684.8,677.8 685.6,677.0 686.3,676.2 687.1,675.3 687.8,674.5 688.5,673.7 689.3,672.9 690.0,672.1 690.8,671.3 691.5,670.6 692.3,669.8 693.0,669.0 693.8,668.2 694.5,667.5 695.2,666.7 696.0,665.9 696.7,665.2 697.5,664.4 698.2,663.7 699.0,662.9 699.7,662.2 700.5,661.4 701.2,660.7 702.0,660.0 702.7,659.3 703.4,658.5 704.2,657.8 704.9,657.1 705.7,656.4 706.4,655.7 707.2,655.0 707.9,654.3 708.7,653.6 711.7,650.8 714.7,648.1 717.7,645.5 720.7,642.9 723.7,640.4 726.7,637.9 729.7,635.5 732.7,633.1 735.8,630.8 738.8,628.6 741.8,626.3 744.8,624.2 747.8,622.1 750.8,620.0 753.8,618.0 756.8,616.0 759.8,614.1 762.9,612.2 765.9,610.3 768.9,608.5 771.9,606.8 774.9,605.0 777.9,603.3 780.9,601.7 783.9,600.1 786.9,598.5 790.0,596.9 793.0,595.4 796.0,593.9 799.0,592.5 802.0,591.1 805.0,589.7 808.0,588.3 811.0,587.0 814.1,585.7 817.1,584.5 820.1,583.2 823.1,582.0 826.1,580.8 829.1,579.7 832.1,578.5 835.1,577.4 838.1,576.4 841.2,575.3 844.2,574.3 847.2,573.3 850.2,572.3 853.2,571.3 856.2,570.3 859.2,569.4 862.2,568.5 865.2,567.6 868.3,566.8 871.3,565.9 874.3,565.1 877.3,564.3 880.3,563.5 883.3,562.7 886.3,562.0 889.3,561.2 892.3,560.5 895.4,559.8 898.4,559.1 901.4,558.4 904.4,557.8 907.4,557.1 910.4,556.5 913.4,555.9 916.4,555.3 919.4,554.7 922.5,554.1 925.5,553.5 928.5,553.0 931.5,552.4 934.5,551.9 937.5,551.4 940.5,550.9 943.5,550.4 946.5,549.9 949.6,549.4 952.6,548.9 955.6,548.5 958.6,548.0 961.6,547.6 964.6,547.2 967.6,546.8 970.6,546.4 973.6,546.0 976.7,545.6 979.7,545.2 982.7,544.8 985.7,544.5 988.7,544.1 991.7,543.8 994.7,543.4 997.7,543.1 1000.8,542.8 1003.8,542.5 1006.8,542.2 1009.8,541.9 1012.8,541.6 1015.8,541.3 1018.8,541.0 1021.8,540.7 1024.8,540.4 1027.9,540.2 1030.9,539.9 1033.9,539.7 1036.9,539.4 1039.9,539.2 1042.9,538.9 1045.9,538.7 1048.9,538.5 1051.9,538.2 1055.0,538.0 1058.0,537.8 1061.0,537.6 1064.0,537.4 1067.0,537.2" fill="none" stroke="#0000ff" stroke-width="2.6" stroke-linejoin="round" stroke-linecap="round"/>
<polyline points="679.6,683.2 680.3,680.0 681.1,676.9 681.8,673.8 682.6,670.8 683.3,667.7 684.1,664.8 684.8,661.8 685.6,658.9 686.3,656.0 687.1,653.2 687.8,650.4 688.5,647.6 689.3,644.8 690.0,642.1 690.8,639.5 691.5,636.8 692.3,634.2 693.0,631.6 693.8,629.1 694.5,626.6 695.2,624.1 696.0,621.6 696.7,619.2 697.5,616.8 698.2,614.4 699.0,612.1 699.7,609.7 700.5,607.4 701.2,605.2 702.0,602.9 702.7,600.7 703.4,598.6 704.2,596.4 704.9,594.3 705.7,592.2 706.4,590.1 707.2,588.0 707.9,586.0 708.7,584.0 711.2,577.3 713.7,570.9 716.3,564.7 718.8,558.8 721.4,553.1 723.9,547.7 726.4,542.4 729.0,537.4 731.5,532.5 734.0,527.9 736.6,523.4 739.1,519.0 741.7,514.9 744.2,510.9 746.7,507.0 749.3,503.3 751.8,499.8 754.4,496.3 756.9,493.0 759.4,489.8 762.0,486.7 764.5,483.8 767.1,480.9 769.6,478.2 772.1,475.5 774.7,472.9 777.2,470.5 779.8,468.1 782.3,465.8 784.8,463.5 787.4,461.4 789.9,459.3 792.5,457.3 795.0,455.3 797.5,453.4 800.1,451.6 802.6,449.8 805.1,448.1 807.7,446.5 810.2,444.8 812.8,443.3 815.3,441.8 817.8,440.3 820.4,438.9 822.9,437.5 825.5,436.1 828.0,434.8 830.5,433.6 833.1,432.3 835.6,431.1 838.2,430.0 840.7,428.8 843.2,427.7 845.8,426.6 848.3,425.6 850.9,424.5 853.4,423.5 855.9,422.5 858.5,421.6 861.0,420.6 863.5,419.7 866.1,418.8 868.6,417.9 871.2,417.1 873.7,416.2 876.2,415.4 878.8,414.6 881.3,413.8 883.9,413.0 886.4,412.2 888.9,411.5 891.5,410.7 894.0,410.0 896.6,409.3 899.1,408.6 901.6,407.9 904.2,407.2 906.7,406.5 909.3,405.8 911.8,405.2 914.3,404.5 916.9,403.9 919.4,403.3 922.0,402.6 924.5,402.0 927.0,401.4 929.6,400.8 932.1,400.2 934.6,399.6 937.2,399.0 939.7,398.5 942.3,397.9 944.8,397.3 947.3,396.8 949.9,396.2 952.4,395.7 955.0,395.1 957.5,394.6 960.0,394.0 962.6,393.5 965.1,393.0 967.7,392.4 970.2,391.9 972.7,391.4 975.3,390.9 977.8,390.4 980.4,389.8 982.9,389.3 985.4,388.8 988.0,388.3 990.5,387.8 993.1,387.3 995.6,386.8 998.1,386.3 1000.7,385.8 1003.2,385.4 1005.7,384.9 1008.3,384.4 1010.8,383.9" fill="none" stroke="#000000" stroke-width="2.6" stroke-linejoin="round" stroke-linecap="round"/>
<polyline points="679.6,674.8 680.3,669.4 681.1,664.0 681.8,658.9 682.6,653.8 683.3,648.9 684.1,644.2 684.8,639.5 685.6,635.0 686.3,630.6 687.1,626.3 687.8,622.1 688.5,618.0 689.3,614.0 690.0,610.1 690.8,606.4 691.5,602.7 692.3,599.1 693.0,595.5 693.8,592.1 694.5,588.8 695.2,585.5 696.0,582.3 696.7,579.2 697.5,576.1 698.2,573.2 699.0,570.2 699.7,567.4 700.5,564.6 701.2,561.9 702.0,559.2 702.7,556.6 703.4,554.1 704.2,551.6 704.9,549.2 705.7,546.8 706.4,544.5 707.2,542.2 707.9,539.9 708.7,537.7 711.1,530.8 713.6,524.4 716.0,518.3 718.5,512.5 720.9,507.1 723.4,502.0 725.8,497.2 728.3,492.6 730.7,488.3 733.2,484.1 735.6,480.1 738.1,476.4 740.5,472.7 743.0,469.3 745.4,465.9 747.9,462.7 750.3,459.6 752.8,456.7 755.2,453.8 757.6,451.0 760.1,448.3 762.5,445.7 765.0,443.2 767.4,440.8 769.9,438.4 772.3,436.1 774.8,433.9 777.2,431.7 779.7,429.6 782.1,427.5 784.6,425.5 787.0,423.6 789.5,421.7 791.9,419.8 794.4,418.0 796.8,416.2 799.3,414.5 801.7,412.8 804.2,411.1 806.6,409.5 809.1,408.0 811.5,406.4 814.0,404.9 816.4,403.4 818.9,402.0 821.3,400.6 823.8,399.2 826.2,397.9 828.7,396.5 831.1,395.3 833.6,394.0 836.0,392.8 838.5,391.6 840.9,390.4 843.4,389.2 845.8,388.1 848.3,387.0 850.7,385.9 853.2,384.8 855.6,383.8 858.1,382.8 860.5,381.8 863.0,380.8 865.4,379.8 867.9,378.9 870.3,378.0 872.8,377.1 875.2,376.2 877.7,375.3 880.1,374.5 882.6,373.7 885.0,372.9 887.5,372.1 889.9,371.3 892.4,370.5 894.8,369.8 897.3,369.0 899.7,368.3 902.2,367.6 904.6,366.9 907.1,366.3 909.5,365.6 912.0,365.0 914.4,364.3 916.9,363.7 919.3,363.1 921.8,362.5 924.2,361.9 926.7,361.4 929.1,360.8 931.6,360.3 934.0,359.7 936.5,359.2 938.9,358.7 941.4,358.2 943.8,357.7 946.3,357.2 948.7,356.8 951.2,356.3 953.6,355.8 956.1,355.4 958.5,355.0 961.0,354.5 963.4,354.1 965.9,353.7 968.3,353.3 970.8,352.9 973.2,352.5 975.7,352.2 978.1,351.8 980.6,351.4 983.0,351.1 985.5,350.7 987.9,350.4 990.4,350.1 992.8,349.8 995.3,349.4 997.7,349.1 1000.2,348.8" fill="none" stroke="#ff5500" stroke-width="2.6" stroke-linejoin="round" stroke-linecap="round"/>
<polyline points="679.6,672.5 680.3,667.3 681.1,662.1 681.8,657.1 682.6,652.1 683.3,647.3 684.1,642.5 684.8,637.8 685.6,633.2 686.3,628.7 687.1,624.3 687.8,620.0 688.5,615.7 689.3,611.5 690.0,607.4 690.8,603.4 691.5,599.5 692.3,595.6 693.0,591.8 693.8,588.0 694.5,584.4 695.2,580.8 696.0,577.2 696.7,573.8 697.5,570.4 698.2,567.0 699.0,563.7 699.7,560.5 700.5,557.3 701.2,554.2 702.0,551.2 702.7,548.2 703.4,545.2 704.2,542.3 704.9,539.5 705.7,536.7 706.4,534.0 707.2,531.3 707.9,528.7 708.7,526.1 710.9,518.4 713.2,511.1 715.5,504.3 717.8,497.7 720.1,491.6 722.4,485.7 724.7,480.2 727.0,474.9 729.2,469.9 731.5,465.2 733.8,460.7 736.1,456.4 738.4,452.4 740.7,448.5 743.0,444.8 745.2,441.3 747.5,438.0 749.8,434.8 752.1,431.8 754.4,428.9 756.7,426.1 759.0,423.5 761.3,420.9 763.5,418.5 765.8,416.2 768.1,414.0 770.4,411.8 772.7,409.8 775.0,407.8 777.3,405.9 779.6,404.1 781.8,402.4 784.1,400.7 786.4,399.0 788.7,397.5 791.0,396.0 793.3,394.5 795.6,393.1 797.8,391.7 800.1,390.3 802.4,389.0 804.7,387.8 807.0,386.6 809.3,385.4 811.6,384.2 813.9,383.1 816.1,382.0 818.4,380.9 820.7,379.8 823.0,378.8 825.3,377.8 827.6,376.8 829.9,375.8 832.2,374.9 834.4,374.0 836.7,373.0 839.0,372.1 841.3,371.2 843.6,370.4 845.9,369.5 848.2,368.7 850.4,367.8 852.7,367.0 855.0,366.2 857.3,365.4 859.6,364.6 861.9,363.8 864.2,363.0 866.5,362.2 868.7,361.5 871.0,360.7 873.3,360.0 875.6,359.2 877.9,358.5 880.2,357.8 882.5,357.0 884.8,356.3 887.0,355.6 889.3,354.9 891.6,354.2 893.9,353.5 896.2,352.8 898.5,352.1 900.8,351.4 903.0,350.7 905.3,350.0 907.6,349.4 909.9,348.7 912.2,348.0 914.5,347.3 916.8,346.7 919.1,346.0 921.3,345.3 923.6,344.7 925.9,344.0 928.2,343.4 930.5,342.7 932.8,342.1 935.1,341.4 937.4,340.8 939.6,340.1 941.9,339.5 944.2,338.8 946.5,338.2 948.8,337.6 951.1,336.9 953.4,336.3 955.6,335.6 957.9,335.0 960.2,334.4 962.5,333.8 964.8,333.1 967.1,332.5 969.4,331.9 971.7,331.3 973.9,330.6 976.2,330.0 978.5,329.4 980.8,328.8" fill="none" stroke="#005a00" stroke-width="2.6" stroke-linejoin="round" stroke-linecap="round"/>
</svg></body></html>
